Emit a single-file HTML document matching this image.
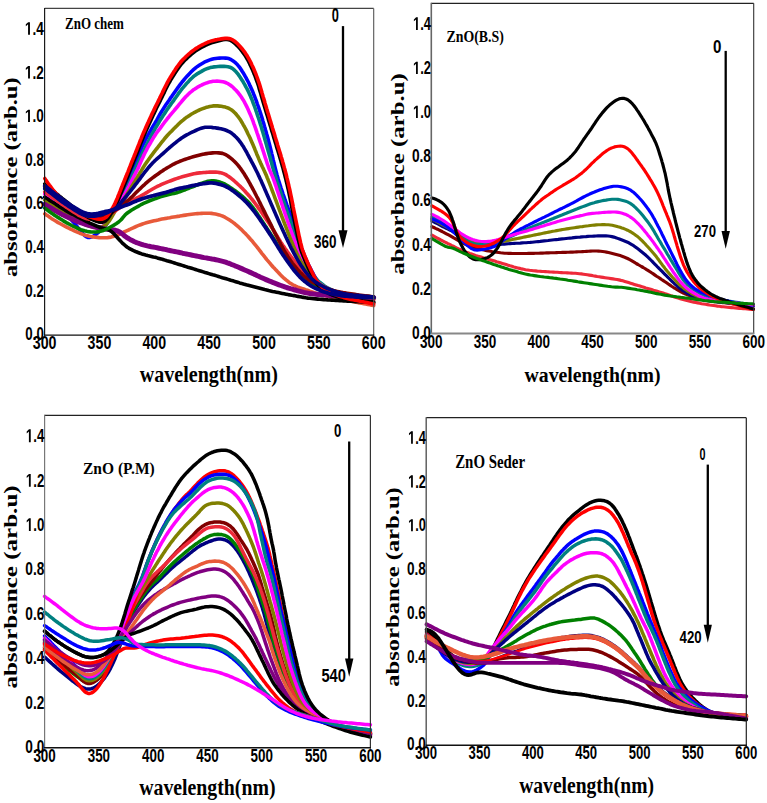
<!DOCTYPE html>
<html><head><meta charset="utf-8"><style>
html,body{margin:0;padding:0;background:#fff;}
svg{display:block;}
</style></head><body>
<svg width="767" height="803" viewBox="0 0 767 803">
<rect width="767" height="803" fill="#fff"/>
<path d="M44.8 188.0L46.1 189.5L47.3 191.1L48.6 192.6L49.9 194.2L51.2 195.7L52.4 197.3L53.7 198.8L55.0 200.4L56.3 201.9L57.5 203.4L58.8 205.0L60.1 206.5L61.4 208.0L62.7 209.5L64.0 211.1L65.3 212.6L66.6 214.1L67.9 215.6L69.2 217.1L70.5 218.7L71.8 220.2L73.1 221.7L74.4 223.3L75.7 224.8L76.9 226.3L78.2 227.9L79.5 229.4L80.7 231.0L82.0 232.6L83.2 234.1L84.6 235.5L86.1 236.7L87.7 237.4L89.5 237.5L91.3 237.1L93.0 236.3L94.7 235.3L96.3 234.1L97.8 232.9L99.3 231.5L100.8 230.2L102.3 228.8L103.7 227.5L105.1 226.0L106.3 224.5L107.4 222.9L108.4 221.1L109.2 219.3L110.1 217.5L110.9 215.7L111.7 213.8L112.6 212.0L113.5 210.3L114.5 208.5L115.5 206.8L116.6 205.1L117.7 203.4L118.7 201.7L119.7 200.0L120.7 198.3L121.7 196.5L122.6 194.7L123.5 192.9L124.3 191.1L125.2 189.3L126.0 187.5L126.8 185.7L127.6 183.8L128.4 182.0L129.2 180.2L130.0 178.3L130.7 176.5L131.5 174.6L132.2 172.7L132.9 170.9L133.6 169.0L134.3 167.1L135.1 165.3L135.7 163.4L136.4 161.5L137.1 159.6L137.8 157.7L138.5 155.9L139.2 154.0L139.9 152.1L140.6 150.2L141.4 148.4L142.2 146.6L143.0 144.7L143.9 142.9L144.7 141.1L145.6 139.3L146.6 137.6L147.5 135.8L148.5 134.1L149.5 132.3L150.5 130.6L151.5 128.8L152.5 127.1L153.5 125.4L154.6 123.7L155.6 122.0L156.6 120.3L157.6 118.5L158.5 116.8L159.5 115.0L160.5 113.3L161.6 111.6L162.6 109.9L163.7 108.2L164.8 106.5L165.9 104.8L167.0 103.2L168.2 101.5L169.3 99.9L170.4 98.2L171.6 96.6L172.7 95.0L173.9 93.3L175.0 91.7L176.2 90.0L177.3 88.4L178.5 86.8L179.7 85.2L180.9 83.6L182.1 82.0L183.4 80.5L184.7 78.9L186.0 77.4L187.3 75.9L188.7 74.4L190.1 73.0L191.5 71.6L192.9 70.2L194.4 68.9L195.9 67.6L197.5 66.4L199.2 65.3L200.9 64.2L202.6 63.2L204.3 62.2L206.1 61.4L208.0 60.6L209.8 59.9L211.7 59.3L213.7 58.8L215.7 58.5L217.6 58.3L219.6 58.1L221.6 58.0L223.6 58.0L225.6 58.1L227.5 58.3L229.4 58.8L231.2 59.7L232.8 60.7L234.4 61.9L235.9 63.2L237.3 64.6L238.6 66.1L239.8 67.7L241.0 69.3L242.0 71.0L243.1 72.7L244.1 74.4L245.1 76.2L246.1 77.9L247.0 79.7L248.0 81.5L248.9 83.3L249.7 85.1L250.6 86.9L251.4 88.7L252.2 90.5L253.0 92.4L253.7 94.2L254.5 96.1L255.2 98.0L255.9 99.8L256.6 101.7L257.2 103.6L257.9 105.5L258.6 107.4L259.2 109.3L259.8 111.2L260.5 113.1L261.1 115.0L261.7 116.9L262.3 118.8L262.8 120.7L263.4 122.6L264.0 124.6L264.5 126.5L265.1 128.4L265.6 130.3L266.2 132.3L266.7 134.2L267.3 136.1L267.8 138.0L268.3 140.0L268.8 141.9L269.3 143.8L269.8 145.8L270.3 147.7L270.8 149.7L271.3 151.6L271.7 153.6L272.2 155.5L272.7 157.5L273.1 159.4L273.6 161.4L274.0 163.3L274.5 165.2L275.0 167.2L275.5 169.1L276.0 171.1L276.5 173.0L277.0 174.9L277.6 176.9L278.1 178.8L278.7 180.7L279.3 182.6L279.9 184.5L280.5 186.4L281.1 188.3L281.8 190.2L282.4 192.1L283.0 194.0L283.7 195.9L284.4 197.8L285.0 199.7L285.7 201.6L286.4 203.5L287.0 205.3L287.7 207.2L288.4 209.1L289.1 211.0L289.7 212.9L290.4 214.8L291.0 216.7L291.7 218.6L292.3 220.5L293.0 222.3L293.6 224.2L294.2 226.2L294.8 228.1L295.5 230.0L296.1 231.9L296.7 233.8L297.3 235.7L297.9 237.6L298.5 239.5L299.2 241.4L299.8 243.3L300.5 245.2L301.1 247.1L301.8 248.9L302.5 250.8L303.3 252.7L304.0 254.5L304.8 256.4L305.6 258.2L306.4 260.1L307.2 261.9L308.0 263.7L308.9 265.5L309.8 267.3L310.7 269.1L311.6 270.9L312.6 272.6L313.5 274.4L314.5 276.1L315.5 277.8L316.7 279.5L317.9 281.1L319.2 282.5L320.6 283.9L322.1 285.2L323.7 286.4L325.3 287.6L327.0 288.6L328.8 289.6L330.6 290.5L332.4 291.3L334.2 292.0L336.1 292.7L338.0 293.3L340.0 293.8L341.9 294.3L343.9 294.7L345.8 295.0L347.8 295.3L349.8 295.6L351.8 295.9L353.8 296.1L355.8 296.3L357.8 296.5L359.7 296.7L361.7 296.9L363.7 297.1L365.7 297.3L367.7 297.4L369.7 297.6L371.7 297.8L373.7 298.0" fill="none" stroke="#0000ff" stroke-width="3.6" stroke-linecap="round" stroke-linejoin="round"/>
<path d="M44.8 189.0L46.2 190.5L47.5 192.0L48.9 193.4L50.2 194.9L51.6 196.4L52.9 197.8L54.3 199.3L55.7 200.7L57.1 202.1L58.6 203.5L60.0 204.9L61.5 206.2L63.0 207.6L64.5 208.9L66.0 210.2L67.6 211.5L69.1 212.7L70.7 214.0L72.3 215.2L73.9 216.4L75.5 217.5L77.2 218.7L78.9 219.8L80.6 220.8L82.3 221.9L84.0 222.9L85.8 223.8L87.6 224.7L89.4 225.5L91.3 226.2L93.2 226.8L95.1 227.3L97.0 227.6L99.0 227.7L100.9 227.5L102.7 226.9L104.3 225.9L105.8 224.6L107.0 223.1L108.1 221.5L109.1 219.7L110.0 218.0L111.0 216.2L112.0 214.5L113.0 212.8L114.0 211.0L115.1 209.3L116.1 207.6L117.2 205.9L118.2 204.2L119.3 202.5L120.3 200.8L121.2 199.0L122.2 197.3L123.2 195.5L124.1 193.8L125.0 192.0L126.0 190.2L126.9 188.4L127.7 186.6L128.6 184.8L129.4 183.0L130.2 181.1L131.0 179.3L131.8 177.4L132.5 175.6L133.3 173.7L134.1 171.9L134.9 170.1L135.7 168.2L136.5 166.4L137.3 164.6L138.1 162.8L139.0 160.9L139.8 159.1L140.6 157.3L141.4 155.5L142.3 153.6L143.1 151.8L144.0 150.0L144.9 148.2L145.8 146.4L146.7 144.6L147.6 142.9L148.5 141.1L149.4 139.3L150.3 137.5L151.3 135.7L152.2 134.0L153.2 132.2L154.2 130.5L155.1 128.7L156.1 127.0L157.2 125.3L158.2 123.6L159.2 121.8L160.2 120.1L161.3 118.4L162.4 116.7L163.5 115.1L164.6 113.4L165.7 111.7L166.8 110.1L167.9 108.4L169.1 106.8L170.3 105.1L171.4 103.5L172.6 101.9L173.8 100.3L174.9 98.6L176.1 97.0L177.2 95.4L178.4 93.7L179.6 92.1L180.8 90.5L182.0 88.9L183.3 87.4L184.6 85.9L185.9 84.3L187.2 82.9L188.6 81.4L189.9 79.9L191.4 78.5L192.8 77.2L194.3 75.9L196.0 74.7L197.6 73.6L199.3 72.6L201.1 71.6L202.8 70.6L204.6 69.7L206.4 68.9L208.3 68.2L210.2 67.6L212.1 67.2L214.1 66.9L216.1 66.7L218.1 66.5L220.1 66.4L222.1 66.4L224.1 66.4L226.1 66.5L228.0 66.7L229.9 67.2L231.6 68.0L233.2 69.1L234.7 70.4L236.1 71.8L237.4 73.4L238.6 74.9L239.7 76.6L240.8 78.2L241.9 79.9L243.0 81.6L244.0 83.4L245.0 85.1L245.9 86.9L246.9 88.6L247.8 90.4L248.7 92.2L249.5 94.0L250.3 95.8L251.1 97.7L251.9 99.5L252.6 101.4L253.3 103.3L254.0 105.1L254.7 107.0L255.4 108.9L256.0 110.8L256.7 112.7L257.3 114.6L257.9 116.5L258.6 118.4L259.2 120.3L259.8 122.2L260.4 124.1L261.0 126.0L261.6 128.0L262.1 129.9L262.7 131.8L263.3 133.7L263.8 135.6L264.4 137.6L264.9 139.5L265.5 141.4L266.0 143.3L266.6 145.3L267.1 147.2L267.7 149.1L268.2 151.0L268.8 153.0L269.3 154.9L269.9 156.8L270.4 158.8L270.9 160.7L271.5 162.6L272.0 164.5L272.5 166.5L273.1 168.4L273.6 170.3L274.2 172.2L274.8 174.2L275.3 176.1L275.9 178.0L276.5 179.9L277.1 181.8L277.8 183.7L278.4 185.6L279.0 187.5L279.6 189.4L280.3 191.3L280.9 193.2L281.6 195.1L282.2 197.0L282.8 198.9L283.5 200.8L284.1 202.7L284.8 204.6L285.4 206.5L286.1 208.4L286.7 210.3L287.3 212.2L288.0 214.1L288.6 216.0L289.3 217.9L289.9 219.8L290.6 221.7L291.2 223.6L291.8 225.5L292.4 227.4L293.1 229.3L293.7 231.2L294.3 233.1L294.9 235.0L295.6 236.9L296.2 238.8L296.8 240.7L297.5 242.6L298.2 244.5L298.8 246.3L299.5 248.2L300.3 250.1L301.0 252.0L301.8 253.8L302.5 255.7L303.3 257.5L304.1 259.3L305.0 261.1L305.8 262.9L306.7 264.7L307.6 266.5L308.6 268.3L309.6 270.0L310.7 271.7L311.8 273.3L313.0 275.0L314.2 276.6L315.5 278.1L316.8 279.6L318.2 281.0L319.7 282.3L321.3 283.5L322.9 284.7L324.5 285.9L326.2 287.0L327.9 288.0L329.7 288.9L331.5 289.8L333.3 290.6L335.2 291.3L337.1 292.0L339.0 292.5L340.9 293.0L342.9 293.5L344.8 293.8L346.8 294.2L348.8 294.5L350.8 294.7L352.8 295.0L354.8 295.2L356.8 295.4L358.7 295.6L360.7 295.8L362.7 296.0L364.7 296.2L366.7 296.3L368.7 296.5L370.7 296.7L372.7 296.9L373.7 297.0" fill="none" stroke="#008080" stroke-width="3.6" stroke-linecap="round" stroke-linejoin="round"/>
<path d="M44.8 194.0L46.3 195.3L47.9 196.6L49.4 197.9L50.9 199.1L52.5 200.4L54.0 201.7L55.5 203.0L57.1 204.3L58.6 205.5L60.2 206.8L61.7 208.1L63.3 209.3L64.8 210.6L66.4 211.8L68.0 213.0L69.6 214.2L71.2 215.4L72.9 216.5L74.6 217.6L76.3 218.7L78.0 219.7L79.7 220.7L81.5 221.6L83.2 222.6L85.0 223.5L86.8 224.3L88.6 225.2L90.5 225.9L92.3 226.6L94.3 227.2L96.2 227.6L98.1 227.7L100.0 227.4L101.8 226.8L103.5 225.9L105.0 224.7L106.3 223.2L107.5 221.6L108.7 220.0L109.7 218.3L110.8 216.6L111.8 214.9L112.7 213.1L113.7 211.4L114.8 209.7L115.9 208.1L117.1 206.4L118.3 204.8L119.4 203.2L120.4 201.5L121.5 199.8L122.5 198.1L123.5 196.3L124.5 194.6L125.5 192.9L126.5 191.1L127.4 189.4L128.3 187.6L129.3 185.8L130.1 184.0L131.0 182.2L131.9 180.4L132.8 178.6L133.7 176.8L134.6 175.0L135.5 173.3L136.4 171.5L137.3 169.7L138.2 167.9L139.0 166.1L139.8 164.3L140.6 162.4L141.4 160.6L142.2 158.8L143.1 156.9L143.9 155.1L144.8 153.3L145.7 151.5L146.6 149.8L147.5 148.0L148.5 146.2L149.5 144.5L150.5 142.8L151.5 141.0L152.5 139.3L153.5 137.6L154.6 135.9L155.7 134.2L156.8 132.6L158.0 131.0L159.3 129.4L160.5 127.8L161.7 126.2L162.8 124.6L164.0 123.0L165.2 121.4L166.5 119.8L167.7 118.2L169.0 116.7L170.2 115.2L171.5 113.6L172.8 112.1L174.1 110.6L175.4 109.0L176.7 107.5L178.0 106.0L179.2 104.4L180.5 102.9L181.8 101.3L183.1 99.8L184.4 98.3L185.7 96.8L187.1 95.4L188.5 94.0L190.0 92.6L191.6 91.4L193.1 90.1L194.8 89.0L196.4 87.9L198.1 86.8L199.9 85.9L201.7 85.0L203.5 84.2L205.4 83.4L207.2 82.8L209.1 82.1L211.1 81.7L213.0 81.3L215.0 81.2L217.0 81.1L219.0 81.2L220.9 81.5L222.9 81.8L224.8 82.3L226.6 83.0L228.4 83.9L230.1 85.0L231.7 86.2L233.2 87.5L234.6 88.9L236.0 90.3L237.3 91.8L238.6 93.3L239.8 94.9L241.0 96.5L242.1 98.2L243.2 99.9L244.2 101.6L245.1 103.4L246.0 105.1L246.9 106.9L247.8 108.7L248.6 110.6L249.4 112.4L250.2 114.2L251.0 116.1L251.7 117.9L252.5 119.8L253.2 121.7L253.8 123.6L254.5 125.4L255.2 127.3L255.8 129.2L256.5 131.1L257.1 133.0L257.8 134.9L258.4 136.8L259.0 138.7L259.7 140.6L260.3 142.5L261.0 144.4L261.6 146.3L262.2 148.2L262.9 150.1L263.5 152.0L264.1 153.9L264.7 155.8L265.3 157.7L266.0 159.6L266.6 161.5L267.2 163.4L267.9 165.3L268.5 167.2L269.2 169.0L270.0 170.9L270.8 172.7L271.6 174.5L272.4 176.4L273.1 178.2L273.8 180.1L274.5 182.0L275.1 183.9L275.8 185.8L276.4 187.7L277.0 189.6L277.7 191.5L278.3 193.4L278.9 195.3L279.5 197.2L280.2 199.1L280.8 201.0L281.4 202.9L282.1 204.8L282.7 206.7L283.3 208.6L284.0 210.5L284.6 212.4L285.2 214.3L285.9 216.2L286.5 218.1L287.2 219.9L287.8 221.8L288.5 223.7L289.2 225.6L289.8 227.5L290.5 229.4L291.2 231.3L291.8 233.2L292.5 235.0L293.2 236.9L293.9 238.8L294.6 240.7L295.3 242.5L296.0 244.4L296.7 246.3L297.5 248.1L298.2 250.0L299.0 251.8L299.7 253.7L300.5 255.5L301.3 257.4L302.1 259.2L303.0 261.0L303.8 262.8L304.7 264.6L305.6 266.4L306.6 268.2L307.6 269.9L308.6 271.6L309.7 273.3L310.9 274.9L312.0 276.5L313.3 278.0L314.6 279.5L316.1 280.9L317.6 282.2L319.2 283.4L320.8 284.6L322.5 285.7L324.2 286.7L326.0 287.6L327.7 288.5L329.6 289.3L331.4 290.1L333.3 290.8L335.2 291.5L337.1 292.0L339.0 292.6L341.0 293.0L342.9 293.5L344.9 293.8L346.8 294.1L348.8 294.4L350.8 294.7L352.8 294.9L354.8 295.2L356.8 295.4L358.8 295.6L360.8 295.8L362.7 296.0L364.7 296.2L366.7 296.3L368.7 296.5L370.7 296.7L372.7 296.9L373.7 297.0" fill="none" stroke="#ff00ff" stroke-width="3.6" stroke-linecap="round" stroke-linejoin="round"/>
<path d="M44.8 200.0L46.5 201.1L48.1 202.3L49.8 203.4L51.4 204.5L53.1 205.7L54.7 206.8L56.4 207.9L58.0 209.0L59.7 210.1L61.4 211.3L63.1 212.4L64.7 213.5L66.4 214.5L68.1 215.6L69.8 216.7L71.5 217.7L73.3 218.7L75.0 219.7L76.8 220.6L78.6 221.5L80.3 222.4L82.2 223.3L84.0 224.1L85.8 224.9L87.7 225.6L89.6 226.2L91.5 226.8L93.5 227.2L95.4 227.6L97.4 227.7L99.3 227.6L101.3 227.2L103.1 226.5L104.7 225.6L106.3 224.3L107.6 222.9L108.9 221.4L110.0 219.7L111.1 218.0L112.1 216.3L113.1 214.6L114.1 212.8L115.0 211.1L116.1 209.4L117.3 207.8L118.5 206.3L119.8 204.8L121.1 203.2L122.3 201.6L123.4 199.9L124.5 198.3L125.6 196.6L126.6 194.9L127.7 193.2L128.8 191.5L129.8 189.8L130.8 188.1L131.9 186.3L132.9 184.6L133.9 182.9L135.0 181.2L136.0 179.5L137.0 177.8L138.1 176.0L139.1 174.3L140.1 172.6L141.2 170.9L142.2 169.2L143.2 167.5L144.3 165.8L145.4 164.1L146.5 162.4L147.7 160.8L148.8 159.2L150.0 157.5L151.2 155.9L152.4 154.3L153.6 152.7L154.8 151.1L156.0 149.5L157.3 148.0L158.5 146.4L159.7 144.8L161.0 143.2L162.2 141.7L163.5 140.1L164.7 138.5L166.0 137.0L167.3 135.5L168.7 134.0L170.1 132.6L171.5 131.2L172.9 129.7L174.3 128.3L175.7 126.9L177.2 125.5L178.6 124.1L180.0 122.7L181.5 121.4L183.1 120.1L184.6 118.8L186.2 117.6L187.9 116.5L189.5 115.4L191.2 114.3L193.0 113.3L194.7 112.3L196.5 111.4L198.3 110.5L200.1 109.7L202.0 108.9L203.8 108.3L205.7 107.6L207.7 107.1L209.6 106.5L211.5 106.2L213.5 105.9L215.5 105.9L217.5 105.9L219.5 106.1L221.4 106.3L223.4 106.7L225.4 107.1L227.2 107.7L229.1 108.5L230.8 109.5L232.4 110.6L233.9 111.9L235.3 113.3L236.6 114.8L237.9 116.4L239.1 118.0L240.2 119.6L241.3 121.3L242.3 123.0L243.3 124.8L244.3 126.5L245.3 128.3L246.2 130.1L247.1 131.9L247.9 133.7L248.8 135.5L249.7 137.3L250.5 139.1L251.3 140.9L252.1 142.8L252.9 144.6L253.7 146.4L254.5 148.3L255.2 150.2L256.0 152.0L256.7 153.9L257.5 155.7L258.3 157.6L259.0 159.4L259.8 161.3L260.6 163.1L261.5 164.9L262.3 166.7L263.2 168.5L264.0 170.3L264.9 172.2L265.7 174.0L266.5 175.8L267.2 177.7L268.0 179.5L268.7 181.4L269.5 183.3L270.2 185.1L270.9 187.0L271.6 188.9L272.3 190.8L273.0 192.6L273.7 194.5L274.4 196.4L275.1 198.3L275.8 200.2L276.5 202.0L277.2 203.9L277.9 205.8L278.6 207.7L279.3 209.6L280.0 211.4L280.7 213.3L281.4 215.2L282.1 217.1L282.8 218.9L283.5 220.8L284.2 222.7L284.9 224.5L285.7 226.4L286.4 228.3L287.1 230.2L287.8 232.0L288.5 233.9L289.3 235.8L290.0 237.6L290.7 239.5L291.5 241.3L292.3 243.2L293.0 245.0L293.8 246.9L294.6 248.7L295.5 250.5L296.3 252.4L297.2 254.2L298.1 256.0L299.0 257.7L299.9 259.5L300.9 261.3L301.9 263.0L302.9 264.7L303.9 266.5L305.0 268.1L306.1 269.8L307.2 271.5L308.4 273.1L309.6 274.7L310.8 276.3L312.1 277.8L313.5 279.2L315.0 280.6L316.5 281.9L318.1 283.0L319.8 284.1L321.5 285.2L323.2 286.2L325.0 287.1L326.8 288.0L328.6 288.8L330.4 289.6L332.3 290.4L334.2 291.1L336.1 291.7L338.0 292.3L339.9 292.8L341.9 293.3L343.8 293.7L345.8 294.0L347.8 294.3L349.8 294.6L351.8 294.9L353.8 295.1L355.7 295.3L357.7 295.5L359.7 295.7L361.7 295.9L363.7 296.1L365.7 296.3L367.7 296.4L369.7 296.6L371.7 296.8L373.7 297.0" fill="none" stroke="#808000" stroke-width="3.6" stroke-linecap="round" stroke-linejoin="round"/>
<path d="M44.8 213.8L46.4 215.0L48.1 216.1L49.7 217.2L51.4 218.4L53.1 219.5L54.8 220.5L56.5 221.6L58.2 222.6L59.9 223.5L61.7 224.5L63.5 225.5L65.2 226.4L67.0 227.3L68.8 228.2L70.6 229.1L72.4 229.9L74.3 230.8L76.1 231.6L77.9 232.4L79.8 233.2L81.6 233.9L83.5 234.6L85.4 235.2L87.3 235.7L89.3 236.2L91.2 236.6L93.2 236.9L95.2 237.2L97.2 237.4L99.2 237.6L101.2 237.7L103.2 237.8L105.2 237.8L107.2 237.7L109.1 237.4L111.1 237.1L113.0 236.6L114.9 235.9L116.8 235.2L118.6 234.5L120.5 233.7L122.3 232.8L124.1 232.0L125.9 231.2L127.8 230.3L129.6 229.5L131.4 228.6L133.2 227.8L135.0 227.0L136.9 226.1L138.7 225.4L140.6 224.7L142.5 224.0L144.4 223.4L146.3 222.8L148.2 222.3L150.2 221.8L152.1 221.3L154.1 220.8L156.0 220.4L158.0 220.0L159.9 219.5L161.9 219.1L163.9 218.7L165.8 218.4L167.8 218.0L169.8 217.7L171.7 217.3L173.7 217.0L175.7 216.7L177.7 216.4L179.7 216.1L181.6 215.7L183.6 215.4L185.6 215.1L187.6 214.8L189.5 214.5L191.5 214.2L193.5 214.0L195.5 213.8L197.5 213.6L199.5 213.5L201.5 213.4L203.5 213.3L205.5 213.3L207.5 213.3L209.5 213.3L211.5 213.4L213.5 213.7L215.5 214.0L217.4 214.4L219.3 214.9L221.2 215.6L223.1 216.3L224.9 217.2L226.6 218.2L228.3 219.2L230.0 220.3L231.7 221.4L233.3 222.6L234.9 223.8L236.4 225.1L237.9 226.4L239.4 227.7L240.9 229.1L242.3 230.5L243.7 231.9L245.1 233.3L246.5 234.8L247.9 236.2L249.2 237.7L250.5 239.2L251.9 240.7L253.2 242.3L254.4 243.8L255.7 245.4L256.9 246.9L258.2 248.5L259.4 250.1L260.6 251.7L261.8 253.3L263.1 254.9L264.3 256.4L265.5 258.0L266.8 259.6L268.1 261.1L269.4 262.6L270.7 264.2L272.0 265.7L273.3 267.2L274.7 268.6L276.0 270.1L277.4 271.6L278.8 273.0L280.2 274.5L281.6 275.9L283.0 277.3L284.5 278.6L286.0 279.9L287.6 281.2L289.1 282.4L290.8 283.5L292.5 284.6L294.3 285.5L296.1 286.3L297.9 287.1L299.8 287.8L301.7 288.4L303.6 289.0L305.5 289.7L307.4 290.3L309.3 291.0L311.2 291.6L313.1 292.3L315.0 292.9L316.9 293.5L318.8 294.0L320.8 294.6L322.7 295.1L324.6 295.6L326.6 296.1L328.5 296.5L330.5 297.0L332.4 297.4L334.4 297.9L336.4 298.3L338.3 298.7L340.3 299.1L342.2 299.5L344.2 299.9L346.2 300.3L348.1 300.7L350.1 301.0L352.1 301.4L354.0 301.8L356.0 302.2L358.0 302.6L359.9 302.9L361.9 303.3L363.9 303.7L365.8 304.1L367.8 304.5L369.8 304.8L371.7 305.2L373.7 305.6" fill="none" stroke="#e85a3a" stroke-width="3.6" stroke-linecap="round" stroke-linejoin="round"/>
<path d="M44.8 204.4L46.5 205.4L48.2 206.5L50.0 207.5L51.7 208.5L53.4 209.5L55.1 210.5L56.9 211.5L58.6 212.5L60.4 213.5L62.1 214.4L63.9 215.3L65.7 216.2L67.5 217.1L69.3 218.0L71.1 218.8L73.0 219.6L74.8 220.4L76.7 221.1L78.5 221.9L80.4 222.6L82.3 223.2L84.2 223.9L86.1 224.5L88.0 225.1L89.9 225.7L91.8 226.2L93.8 226.7L95.7 227.1L97.7 227.5L99.6 227.9L101.6 228.3L103.6 228.7L105.6 229.0L107.5 229.3L109.5 229.5L111.5 229.7L113.5 230.0L115.4 230.3L117.3 230.9L119.1 231.7L120.7 232.7L122.3 233.9L123.8 235.2L125.4 236.5L127.0 237.6L128.7 238.7L130.4 239.7L132.2 240.6L134.0 241.5L135.8 242.3L137.7 243.0L139.6 243.7L141.5 244.3L143.4 244.9L145.3 245.4L147.3 245.9L149.2 246.3L151.2 246.7L153.1 247.0L155.1 247.4L157.1 247.8L159.0 248.2L161.0 248.6L162.9 249.0L164.9 249.4L166.9 249.8L168.8 250.3L170.8 250.7L172.7 251.1L174.7 251.5L176.7 251.9L178.6 252.3L180.6 252.7L182.5 253.2L184.5 253.6L186.5 254.0L188.4 254.4L190.4 254.8L192.3 255.2L194.3 255.6L196.3 256.0L198.2 256.4L200.2 256.8L202.1 257.2L204.1 257.6L206.1 257.9L208.0 258.3L210.0 258.6L212.0 259.0L214.0 259.3L215.9 259.7L217.9 260.1L219.8 260.6L221.8 261.1L223.7 261.6L225.6 262.2L227.5 262.9L229.4 263.5L231.2 264.3L233.1 265.0L235.0 265.8L236.8 266.5L238.6 267.3L240.5 268.1L242.3 268.9L244.1 269.7L246.0 270.5L247.8 271.3L249.6 272.1L251.5 272.9L253.3 273.8L255.1 274.6L256.9 275.5L258.7 276.3L260.6 277.2L262.4 278.0L264.2 278.8L266.0 279.6L267.9 280.4L269.7 281.2L271.6 281.9L273.4 282.7L275.3 283.4L277.2 284.1L279.0 284.8L280.9 285.5L282.8 286.2L284.7 286.8L286.6 287.5L288.5 288.1L290.4 288.7L292.3 289.2L294.2 289.8L296.2 290.3L298.1 290.9L300.0 291.4L302.0 291.9L303.9 292.4L305.9 292.8L307.8 293.1L309.8 293.5L311.8 293.7L313.8 294.0L315.8 294.2L317.8 294.4L319.8 294.6L321.8 294.8L323.7 295.0L325.7 295.1L327.7 295.3L329.7 295.4L331.7 295.5L333.7 295.7L335.7 295.8L337.7 295.9L339.7 296.0L341.7 296.1L343.7 296.3L345.7 296.4L347.7 296.5L349.7 296.6L351.7 296.7L353.7 296.8L355.7 296.9L357.7 297.0L359.7 297.1L361.7 297.2L363.7 297.3L365.7 297.5L367.7 297.6L369.7 297.7L371.7 297.8L373.7 297.9" fill="none" stroke="#800080" stroke-width="5.0" stroke-linecap="round" stroke-linejoin="round"/>
<path d="M44.8 197.1L46.5 198.2L48.2 199.3L49.8 200.4L51.5 201.5L53.2 202.5L54.9 203.6L56.6 204.7L58.2 205.8L59.9 206.9L61.6 207.9L63.3 209.0L65.0 210.1L66.7 211.1L68.4 212.1L70.2 213.1L71.9 214.1L73.7 215.0L75.5 215.9L77.3 216.8L79.0 217.7L80.8 218.6L82.6 219.5L84.4 220.4L86.2 221.3L88.0 222.2L89.8 223.1L91.6 223.9L93.4 224.7L95.3 225.5L97.1 226.3L99.0 227.0L100.8 227.7L102.8 228.3L104.7 228.8L106.6 229.3L108.5 229.9L110.2 230.7L111.8 231.8L113.2 233.1L114.6 234.6L115.9 236.0L117.3 237.5L118.6 239.0L120.0 240.5L121.3 241.9L122.7 243.4L124.2 244.7L125.7 246.0L127.3 247.2L129.0 248.3L130.7 249.2L132.5 250.1L134.3 251.0L136.2 251.8L138.0 252.5L139.9 253.2L141.8 253.9L143.7 254.4L145.6 255.0L147.6 255.5L149.5 255.9L151.4 256.4L153.4 256.9L155.3 257.3L157.3 257.9L159.2 258.4L161.1 258.9L163.0 259.5L164.9 260.1L166.9 260.7L168.8 261.2L170.7 261.8L172.6 262.4L174.5 263.0L176.4 263.6L178.3 264.2L180.2 264.8L182.2 265.4L184.1 266.0L186.0 266.6L187.9 267.2L189.8 267.7L191.7 268.3L193.6 268.9L195.5 269.5L197.4 270.1L199.4 270.7L201.3 271.3L203.2 271.9L205.1 272.5L207.0 273.0L208.9 273.6L210.8 274.2L212.8 274.8L214.7 275.3L216.6 275.9L218.5 276.5L220.4 277.1L222.3 277.7L224.2 278.2L226.2 278.8L228.1 279.4L230.0 280.0L231.9 280.6L233.8 281.1L235.7 281.7L237.6 282.3L239.6 282.9L241.5 283.4L243.4 284.0L245.3 284.5L247.2 285.1L249.2 285.6L251.1 286.1L253.0 286.6L255.0 287.1L256.9 287.6L258.9 288.1L260.8 288.6L262.7 289.1L264.7 289.6L266.6 290.0L268.6 290.5L270.5 290.9L272.5 291.4L274.4 291.8L276.4 292.2L278.4 292.6L280.3 293.0L282.3 293.4L284.2 293.8L286.2 294.2L288.2 294.6L290.1 294.9L292.1 295.3L294.1 295.6L296.0 296.0L298.0 296.4L300.0 296.7L301.9 297.1L303.9 297.4L305.9 297.8L307.9 298.1L309.8 298.3L311.8 298.5L313.8 298.8L315.8 298.9L317.8 299.1L319.8 299.3L321.8 299.4L323.8 299.6L325.8 299.7L327.8 299.9L329.8 300.0L331.8 300.1L333.8 300.3L335.8 300.4L337.8 300.5L339.7 300.6L341.7 300.8L343.7 300.9L345.7 301.0L347.7 301.1L349.7 301.2L351.7 301.3L353.7 301.5L355.7 301.6L357.7 301.7L359.7 301.8L361.7 301.9L363.7 302.0L365.7 302.1L367.7 302.3L369.7 302.4L371.7 302.5L373.7 302.6" fill="none" stroke="#000000" stroke-width="3.6" stroke-linecap="round" stroke-linejoin="round"/>
<path d="M44.8 208.1L46.4 209.3L48.0 210.5L49.6 211.7L51.2 212.9L52.9 214.0L54.5 215.2L56.2 216.3L57.9 217.4L59.6 218.4L61.3 219.5L63.0 220.6L64.7 221.6L66.4 222.6L68.2 223.6L69.9 224.5L71.7 225.5L73.5 226.4L75.3 227.2L77.1 228.0L79.0 228.8L80.9 229.6L82.7 230.2L84.6 230.8L86.6 231.3L88.5 231.7L90.5 231.9L92.5 232.0L94.5 232.0L96.5 231.9L98.5 231.7L100.4 231.3L102.4 230.8L104.2 230.1L106.1 229.3L107.9 228.4L109.6 227.5L111.4 226.5L113.1 225.6L114.9 224.5L116.5 223.5L118.2 222.3L119.7 221.0L121.1 219.7L122.4 218.2L123.7 216.6L125.0 215.1L126.4 213.7L128.0 212.5L129.6 211.4L131.3 210.3L133.0 209.3L134.7 208.2L136.5 207.2L138.2 206.3L140.0 205.3L141.7 204.3L143.5 203.4L145.3 202.6L147.2 201.8L149.0 201.0L150.9 200.3L152.8 199.6L154.7 198.9L156.5 198.2L158.4 197.6L160.3 196.9L162.2 196.3L164.1 195.7L166.1 195.2L168.0 194.7L170.0 194.3L171.9 193.8L173.9 193.4L175.8 192.9L177.8 192.4L179.7 191.8L181.5 191.1L183.4 190.4L185.3 189.7L187.2 188.9L189.0 188.2L190.9 187.4L192.7 186.7L194.6 186.0L196.5 185.2L198.3 184.5L200.2 183.8L202.1 183.1L204.0 182.5L205.9 181.9L207.8 181.3L209.8 181.0L211.7 180.8L213.7 180.8L215.7 181.0L217.6 181.4L219.5 182.0L221.4 182.6L223.3 183.4L225.1 184.2L226.8 185.2L228.5 186.3L230.2 187.4L231.8 188.5L233.5 189.7L235.1 190.8L236.7 192.0L238.3 193.2L239.9 194.5L241.4 195.7L243.0 197.0L244.5 198.4L245.9 199.7L247.3 201.1L248.7 202.6L250.1 204.1L251.3 205.6L252.6 207.2L253.8 208.8L255.0 210.4L256.1 212.0L257.3 213.7L258.4 215.4L259.5 217.0L260.6 218.7L261.7 220.4L262.8 222.1L263.9 223.7L265.0 225.4L266.1 227.1L267.2 228.8L268.3 230.4L269.4 232.1L270.5 233.8L271.6 235.4L272.7 237.1L273.8 238.8L274.9 240.5L276.0 242.2L277.0 243.9L278.1 245.6L279.2 247.2L280.4 248.9L281.5 250.5L282.6 252.2L283.8 253.8L285.0 255.4L286.2 257.0L287.4 258.6L288.7 260.2L289.9 261.8L291.2 263.3L292.4 264.9L293.7 266.4L295.0 268.0L296.3 269.5L297.6 271.0L299.0 272.5L300.3 273.9L301.7 275.4L303.2 276.8L304.6 278.1L306.1 279.5L307.7 280.7L309.3 281.9L311.0 283.0L312.7 284.1L314.4 285.0L316.2 285.9L318.0 286.8L319.8 287.6L321.7 288.4L323.5 289.2L325.4 289.9L327.3 290.5L329.2 291.2L331.1 291.7L333.1 292.3L335.0 292.8L336.9 293.2L338.9 293.7L340.9 294.1L342.8 294.4L344.8 294.7L346.8 295.0L348.8 295.3L350.8 295.6L352.8 295.8L354.8 296.0L356.8 296.3L358.7 296.5L360.7 296.7L362.7 296.9L364.7 297.1L366.7 297.3L368.7 297.5L370.7 297.7L372.7 297.9L373.7 298.0" fill="none" stroke="#008000" stroke-width="3.6" stroke-linecap="round" stroke-linejoin="round"/>
<path d="M44.8 191.9L46.4 193.1L48.0 194.2L49.7 195.4L51.3 196.6L52.9 197.7L54.5 198.9L56.2 200.1L57.8 201.2L59.5 202.4L61.1 203.5L62.7 204.7L64.4 205.8L66.0 206.9L67.7 208.1L69.4 209.2L71.0 210.3L72.7 211.4L74.4 212.5L76.1 213.5L77.8 214.6L79.5 215.6L81.3 216.5L83.1 217.4L84.9 218.1L86.8 218.7L88.7 219.1L90.7 219.3L92.7 219.3L94.7 219.2L96.7 219.0L98.6 218.7L100.6 218.3L102.5 217.8L104.4 217.2L106.3 216.5L108.0 215.6L109.8 214.6L111.5 213.6L113.1 212.4L114.8 211.3L116.4 210.1L118.0 209.0L119.7 207.8L121.3 206.7L123.0 205.6L124.7 204.5L126.4 203.5L128.1 202.5L129.9 201.5L131.7 200.6L133.5 199.7L135.3 198.8L137.0 197.9L138.8 197.0L140.6 196.1L142.4 195.1L144.1 194.2L145.8 193.1L147.5 192.1L149.2 191.0L150.9 190.0L152.6 189.0L154.4 188.0L156.2 187.0L157.9 186.1L159.7 185.3L161.6 184.4L163.4 183.6L165.2 182.9L167.1 182.1L169.0 181.4L170.8 180.7L172.7 180.0L174.6 179.3L176.5 178.6L178.4 178.0L180.3 177.4L182.2 176.8L184.1 176.3L186.1 175.8L188.0 175.3L189.9 174.8L191.9 174.3L193.8 173.8L195.8 173.4L197.7 173.1L199.7 172.9L201.7 172.7L203.7 172.5L205.7 172.4L207.7 172.2L209.7 172.1L211.7 172.1L213.7 172.1L215.7 172.1L217.7 172.3L219.6 172.6L221.6 173.0L223.5 173.6L225.3 174.4L227.0 175.4L228.7 176.5L230.3 177.7L231.8 178.9L233.4 180.2L234.9 181.5L236.4 182.8L237.9 184.2L239.3 185.5L240.8 186.9L242.2 188.3L243.6 189.8L245.0 191.2L246.3 192.7L247.7 194.2L249.0 195.7L250.2 197.2L251.5 198.8L252.8 200.3L254.0 201.9L255.2 203.5L256.4 205.1L257.6 206.7L258.7 208.4L259.9 210.0L261.0 211.6L262.2 213.3L263.3 214.9L264.5 216.6L265.6 218.2L266.7 219.9L267.8 221.5L269.0 223.2L270.1 224.9L271.1 226.6L272.2 228.3L273.3 229.9L274.3 231.7L275.4 233.4L276.4 235.1L277.5 236.8L278.5 238.5L279.6 240.2L280.6 241.9L281.7 243.5L282.8 245.2L284.0 246.9L285.1 248.5L286.3 250.1L287.4 251.8L288.6 253.4L289.8 255.0L291.0 256.6L292.2 258.2L293.4 259.8L294.6 261.4L295.9 262.9L297.2 264.4L298.5 266.0L299.8 267.5L301.2 269.0L302.5 270.4L303.9 271.9L305.3 273.3L306.7 274.8L308.1 276.2L309.5 277.6L311.0 278.9L312.5 280.2L314.1 281.5L315.7 282.7L317.3 283.8L319.0 284.9L320.7 285.9L322.5 286.9L324.3 287.7L326.1 288.5L328.0 289.2L329.8 289.9L331.8 290.5L333.7 291.1L335.6 291.7L337.5 292.2L339.4 292.7L341.4 293.2L343.3 293.7L345.3 294.2L347.2 294.6L349.2 295.1L351.1 295.5L353.1 295.9L355.0 296.3L357.0 296.7L359.0 297.1L360.9 297.5L362.9 297.9L364.9 298.3L366.8 298.6L368.8 299.0L370.8 299.4L372.7 299.8L373.7 300.0" fill="none" stroke="#ee2a3a" stroke-width="3.6" stroke-linecap="round" stroke-linejoin="round"/>
<path d="M44.8 187.0L46.4 188.3L47.9 189.5L49.5 190.8L51.0 192.0L52.6 193.3L54.2 194.5L55.8 195.8L57.3 197.0L58.9 198.2L60.5 199.4L62.2 200.6L63.8 201.7L65.4 202.9L67.1 204.0L68.7 205.1L70.4 206.2L72.1 207.3L73.8 208.3L75.6 209.3L77.4 210.2L79.2 211.1L81.0 211.9L82.8 212.8L84.6 213.5L86.5 214.2L88.4 214.9L90.3 215.5L92.3 215.9L94.2 216.3L96.2 216.4L98.2 216.5L100.2 216.4L102.2 216.1L104.1 215.8L106.1 215.3L107.9 214.6L109.8 213.9L111.5 212.9L113.2 211.8L114.8 210.6L116.3 209.4L117.8 208.1L119.4 206.8L120.9 205.5L122.5 204.3L124.1 203.1L125.8 202.0L127.4 200.8L128.9 199.6L130.4 198.2L131.9 196.9L133.3 195.5L134.7 194.0L136.1 192.6L137.5 191.2L139.0 189.8L140.4 188.4L141.8 187.0L143.3 185.6L144.8 184.3L146.3 182.9L147.8 181.6L149.3 180.4L150.9 179.1L152.5 177.9L154.1 176.7L155.7 175.5L157.3 174.4L159.0 173.2L160.6 172.1L162.3 171.0L164.0 169.8L165.7 168.8L167.3 167.7L169.1 166.7L170.8 165.7L172.5 164.7L174.3 163.8L176.1 162.9L178.0 162.1L179.8 161.3L181.7 160.6L183.5 159.9L185.4 159.2L187.3 158.6L189.2 158.0L191.1 157.4L193.1 156.8L195.0 156.3L196.9 155.8L198.9 155.3L200.8 154.8L202.8 154.3L204.7 153.9L206.7 153.6L208.7 153.3L210.7 153.1L212.7 152.9L214.7 152.8L216.7 152.8L218.6 152.9L220.6 153.1L222.5 153.4L224.4 154.1L226.2 154.9L227.9 156.0L229.5 157.2L231.0 158.4L232.6 159.7L234.0 161.0L235.5 162.5L236.8 163.9L238.1 165.4L239.4 167.0L240.6 168.6L241.7 170.2L242.9 171.9L244.0 173.6L245.0 175.2L246.1 177.0L247.1 178.7L248.1 180.4L249.1 182.2L250.1 183.9L251.0 185.7L252.0 187.4L252.9 189.2L253.9 191.0L254.8 192.7L255.7 194.5L256.6 196.3L257.6 198.1L258.5 199.9L259.3 201.6L260.2 203.4L261.1 205.2L262.0 207.0L262.9 208.8L263.8 210.6L264.7 212.4L265.6 214.2L266.5 216.0L267.4 217.8L268.3 219.6L269.2 221.4L270.1 223.2L271.0 224.9L271.9 226.7L272.7 228.5L273.6 230.3L274.5 232.1L275.4 233.9L276.3 235.7L277.3 237.5L278.2 239.3L279.1 241.0L280.0 242.8L280.9 244.6L281.9 246.4L282.8 248.1L283.8 249.9L284.8 251.6L285.8 253.3L286.9 255.0L287.9 256.7L289.0 258.4L290.2 260.1L291.3 261.7L292.5 263.3L293.8 264.9L295.0 266.4L296.3 268.0L297.6 269.5L299.0 270.9L300.4 272.4L301.8 273.8L303.2 275.2L304.7 276.6L306.2 277.9L307.7 279.2L309.3 280.3L311.0 281.4L312.8 282.3L314.6 283.3L316.3 284.2L318.2 285.0L320.0 285.8L321.8 286.6L323.7 287.4L325.6 288.1L327.4 288.7L329.3 289.4L331.3 289.9L333.2 290.5L335.1 291.0L337.1 291.4L339.0 291.8L341.0 292.2L343.0 292.6L344.9 292.9L346.9 293.2L348.9 293.5L350.9 293.8L352.9 294.1L354.8 294.4L356.8 294.7L358.8 295.0L360.8 295.2L362.8 295.5L364.8 295.8L366.8 296.0L368.7 296.3L370.7 296.6L372.7 296.9L373.7 297.0" fill="none" stroke="#800000" stroke-width="3.6" stroke-linecap="round" stroke-linejoin="round"/>
<path d="M44.8 184.0L46.3 185.3L47.9 186.6L49.4 187.9L50.9 189.1L52.5 190.4L54.0 191.7L55.6 193.0L57.1 194.3L58.7 195.5L60.2 196.8L61.8 198.0L63.3 199.3L64.9 200.5L66.5 201.8L68.1 203.0L69.6 204.2L71.2 205.4L72.8 206.6L74.4 207.8L76.0 209.0L77.6 210.2L79.3 211.4L80.9 212.5L82.5 213.7L84.2 214.8L85.9 215.9L87.6 216.9L89.3 217.9L91.1 218.9L92.9 219.8L94.7 220.6L96.5 221.3L98.4 221.9L100.3 222.3L102.2 222.3L104.0 221.8L105.6 220.9L106.9 219.5L108.2 218.0L109.3 216.4L110.4 214.7L111.4 213.0L112.5 211.3L113.6 209.6L114.6 207.9L115.5 206.1L116.3 204.3L117.1 202.5L117.9 200.6L118.7 198.8L119.4 196.9L120.2 195.1L120.9 193.2L121.7 191.4L122.4 189.5L123.2 187.6L123.9 185.8L124.7 183.9L125.4 182.1L126.2 180.2L126.9 178.4L127.7 176.5L128.4 174.6L129.1 172.8L129.9 170.9L130.6 169.1L131.3 167.2L132.1 165.3L132.8 163.5L133.5 161.6L134.3 159.8L135.0 157.9L135.8 156.0L136.6 154.2L137.3 152.3L138.0 150.5L138.8 148.6L139.5 146.7L140.2 144.9L140.9 143.0L141.7 141.2L142.4 139.3L143.2 137.5L144.0 135.6L144.8 133.8L145.6 131.9L146.4 130.1L147.2 128.3L148.0 126.5L148.8 124.6L149.7 122.8L150.5 121.0L151.3 119.2L152.2 117.3L153.0 115.5L153.9 113.7L154.7 111.9L155.6 110.1L156.4 108.3L157.3 106.5L158.2 104.7L159.1 102.9L160.0 101.1L160.9 99.3L161.8 97.5L162.6 95.7L163.5 93.9L164.4 92.1L165.2 90.3L166.1 88.5L167.0 86.7L167.9 85.0L168.9 83.2L169.9 81.5L170.9 79.7L171.9 78.0L173.0 76.3L174.1 74.6L175.1 72.9L176.2 71.3L177.3 69.6L178.5 68.0L179.6 66.3L180.9 64.7L182.1 63.2L183.4 61.7L184.8 60.3L186.3 58.9L187.7 57.5L189.2 56.1L190.7 54.8L192.2 53.5L193.8 52.3L195.4 51.1L197.1 50.0L198.8 49.0L200.5 48.0L202.3 47.0L204.0 46.1L205.8 45.2L207.6 44.3L209.5 43.6L211.4 42.9L213.3 42.3L215.2 41.7L217.1 41.2L219.0 40.7L221.0 40.2L222.9 39.8L224.9 39.5L226.8 39.5L228.7 39.7L230.6 40.4L232.3 41.3L233.8 42.5L235.3 43.8L236.7 45.2L238.1 46.6L239.5 48.1L240.8 49.6L242.0 51.2L243.2 52.8L244.4 54.4L245.5 56.1L246.5 57.8L247.5 59.5L248.5 61.3L249.4 63.1L250.2 64.9L251.1 66.7L251.9 68.5L252.7 70.3L253.5 72.2L254.2 74.0L255.0 75.9L255.7 77.8L256.3 79.7L257.0 81.5L257.7 83.4L258.3 85.3L258.9 87.3L259.4 89.2L260.0 91.1L260.6 93.0L261.1 94.9L261.7 96.9L262.2 98.8L262.8 100.7L263.3 102.6L263.9 104.6L264.5 106.5L265.1 108.4L265.6 110.3L266.2 112.2L266.8 114.1L267.4 116.0L268.0 118.0L268.5 119.9L269.1 121.8L269.7 123.7L270.3 125.6L270.9 127.5L271.4 129.5L272.0 131.4L272.6 133.3L273.2 135.2L273.7 137.1L274.3 139.0L274.9 141.0L275.5 142.9L276.1 144.8L276.6 146.7L277.2 148.6L277.8 150.5L278.4 152.5L279.0 154.4L279.5 156.3L280.1 158.2L280.7 160.1L281.2 162.0L281.8 164.0L282.3 165.9L282.9 167.8L283.4 169.8L283.9 171.7L284.4 173.6L284.9 175.6L285.4 177.5L285.9 179.4L286.3 181.4L286.8 183.3L287.3 185.3L287.7 187.2L288.2 189.2L288.6 191.1L289.0 193.1L289.4 195.1L289.8 197.0L290.2 199.0L290.6 201.0L291.0 202.9L291.3 204.9L291.7 206.8L292.1 208.8L292.5 210.8L292.9 212.7L293.3 214.7L293.7 216.7L294.1 218.6L294.5 220.6L294.8 222.6L295.2 224.5L295.6 226.5L296.0 228.4L296.4 230.4L296.9 232.4L297.3 234.3L297.7 236.3L298.1 238.2L298.6 240.2L299.0 242.1L299.5 244.1L299.9 246.0L300.4 248.0L301.0 249.9L301.6 251.8L302.3 253.6L303.0 255.5L303.8 257.4L304.5 259.2L305.3 261.1L306.1 262.9L306.9 264.8L307.7 266.6L308.5 268.4L309.4 270.2L310.3 272.0L311.2 273.8L312.1 275.6L313.0 277.4L313.9 279.1L314.9 280.8L316.0 282.5L317.2 284.2L318.4 285.7L319.8 287.1L321.3 288.4L322.9 289.7L324.5 290.8L326.2 291.9L327.9 292.9L329.7 293.8L331.5 294.7L333.3 295.4L335.2 296.1L337.1 296.7L339.0 297.3L341.0 297.8L342.9 298.2L344.9 298.6L346.9 298.9L348.8 299.2L350.8 299.5L352.8 299.7L354.8 300.0L356.8 300.2L358.8 300.4L360.8 300.6L362.8 300.9L364.7 301.1L366.7 301.3L368.7 301.5L370.7 301.7L372.7 301.9L373.7 302.0" fill="none" stroke="#000000" stroke-width="3.6" stroke-linecap="round" stroke-linejoin="round"/>
<path d="M44.8 178.5L45.9 180.2L47.1 181.8L48.2 183.4L49.4 185.1L50.6 186.7L51.8 188.3L53.0 189.9L54.3 191.4L55.6 192.9L56.9 194.5L58.2 196.0L59.5 197.4L60.9 198.9L62.4 200.2L63.9 201.5L65.5 202.7L67.1 203.9L68.7 205.1L70.4 206.3L72.0 207.4L73.7 208.5L75.4 209.6L77.1 210.7L78.8 211.7L80.5 212.7L82.3 213.6L84.1 214.5L85.9 215.3L87.8 216.1L89.6 216.8L91.5 217.4L93.4 218.0L95.4 218.5L97.3 218.9L99.3 219.2L101.2 219.2L103.1 218.8L104.8 218.1L106.4 217.0L107.7 215.6L108.8 214.0L109.9 212.3L111.0 210.6L112.0 208.9L113.0 207.2L114.0 205.4L114.9 203.6L115.7 201.8L116.5 200.0L117.3 198.1L118.0 196.3L118.8 194.4L119.5 192.6L120.3 190.7L121.0 188.8L121.8 187.0L122.5 185.1L123.3 183.3L124.0 181.4L124.8 179.6L125.5 177.7L126.3 175.8L127.0 174.0L127.8 172.1L128.5 170.3L129.2 168.4L130.0 166.5L130.7 164.7L131.4 162.8L132.2 161.0L132.9 159.1L133.7 157.2L134.4 155.4L135.2 153.5L135.9 151.7L136.7 149.8L137.4 147.9L138.1 146.1L138.9 144.2L139.6 142.3L140.3 140.5L141.1 138.6L141.8 136.8L142.6 134.9L143.4 133.1L144.2 131.2L145.0 129.4L145.8 127.6L146.6 125.8L147.4 123.9L148.3 122.1L149.1 120.3L149.9 118.5L150.8 116.6L151.6 114.8L152.4 113.0L153.3 111.2L154.2 109.4L155.0 107.6L155.9 105.8L156.8 104.0L157.7 102.2L158.6 100.4L159.5 98.6L160.3 96.8L161.2 95.0L162.1 93.2L162.9 91.4L163.8 89.6L164.7 87.8L165.6 86.0L166.5 84.2L167.4 82.4L168.4 80.7L169.4 79.0L170.4 77.2L171.5 75.5L172.6 73.8L173.6 72.1L174.7 70.5L175.8 68.8L176.9 67.1L178.1 65.5L179.3 63.9L180.5 62.3L181.8 60.8L183.2 59.3L184.6 57.9L186.0 56.5L187.5 55.2L189.0 53.8L190.5 52.5L192.1 51.3L193.7 50.1L195.3 48.9L197.0 47.9L198.7 46.8L200.5 45.8L202.2 44.9L204.0 44.0L205.8 43.1L207.6 42.3L209.5 41.6L211.4 40.9L213.3 40.4L215.2 39.9L217.2 39.6L219.2 39.2L221.2 38.9L223.1 38.6L225.1 38.4L227.1 38.4L229.0 38.6L230.9 39.1L232.7 39.9L234.3 41.0L235.9 42.2L237.3 43.6L238.7 45.0L240.1 46.5L241.4 48.0L242.7 49.5L243.9 51.1L245.1 52.7L246.2 54.4L247.3 56.1L248.3 57.8L249.3 59.6L250.2 61.3L251.1 63.1L251.9 64.9L252.8 66.8L253.6 68.6L254.4 70.4L255.1 72.3L255.9 74.1L256.6 76.0L257.3 77.9L258.0 79.8L258.6 81.7L259.3 83.6L259.9 85.5L260.4 87.4L261.0 89.3L261.6 91.2L262.1 93.2L262.7 95.1L263.2 97.0L263.8 98.9L264.4 100.8L264.9 102.8L265.5 104.7L266.1 106.6L266.6 108.5L267.2 110.4L267.8 112.4L268.4 114.3L269.0 116.2L269.5 118.1L270.1 120.0L270.7 121.9L271.3 123.9L271.9 125.8L272.4 127.7L273.0 129.6L273.6 131.5L274.2 133.4L274.8 135.4L275.3 137.3L275.9 139.2L276.5 141.1L277.1 143.0L277.6 145.0L278.2 146.9L278.8 148.8L279.4 150.7L280.0 152.6L280.6 154.5L281.1 156.5L281.7 158.4L282.3 160.3L282.8 162.2L283.4 164.1L283.9 166.1L284.4 168.0L285.0 169.9L285.5 171.9L286.0 173.8L286.5 175.8L286.9 177.7L287.4 179.6L287.9 181.6L288.3 183.5L288.8 185.5L289.2 187.5L289.7 189.4L290.1 191.4L290.5 193.3L290.9 195.3L291.3 197.2L291.7 199.2L292.1 201.2L292.5 203.1L292.9 205.1L293.2 207.1L293.6 209.0L294.0 211.0L294.4 213.0L294.8 214.9L295.2 216.9L295.6 218.9L296.0 220.8L296.4 222.8L296.8 224.8L297.2 226.7L297.6 228.7L298.0 230.6L298.4 232.6L298.8 234.6L299.2 236.5L299.7 238.5L300.1 240.4L300.5 242.4L301.0 244.3L301.5 246.3L302.0 248.2L302.6 250.1L303.3 252.0L304.0 253.9L304.7 255.7L305.5 257.6L306.3 259.4L307.0 261.3L307.8 263.1L308.6 265.0L309.5 266.8L310.3 268.6L311.2 270.4L312.1 272.2L313.0 274.0L313.9 275.8L314.8 277.5L315.8 279.3L316.8 281.0L317.9 282.6L319.2 284.2L320.5 285.7L321.9 287.0L323.5 288.3L325.1 289.5L326.8 290.6L328.5 291.6L330.3 292.5L332.1 293.3L333.9 294.1L335.8 294.9L337.7 295.6L339.5 296.2L341.5 296.8L343.4 297.4L345.3 297.9L347.2 298.4L349.2 298.9L351.1 299.4L353.1 299.8L355.1 300.2L357.0 300.6L359.0 301.0L360.9 301.4L362.9 301.8L364.9 302.2L366.8 302.6L368.8 303.0L370.8 303.4L372.7 303.8L373.7 304.0" fill="none" stroke="#ff0000" stroke-width="3.6" stroke-linecap="round" stroke-linejoin="round"/>
<path d="M44.8 188.5L46.4 189.7L47.9 191.0L49.5 192.2L51.1 193.4L52.7 194.7L54.2 195.9L55.8 197.1L57.4 198.3L59.0 199.6L60.6 200.8L62.2 201.9L63.9 203.1L65.5 204.2L67.2 205.3L68.8 206.4L70.5 207.5L72.2 208.6L73.9 209.7L75.6 210.8L77.3 211.8L79.0 212.8L80.8 213.7L82.6 214.6L84.4 215.3L86.3 215.8L88.3 216.1L90.3 216.3L92.2 216.3L94.2 216.1L96.2 215.9L98.2 215.5L100.1 215.0L102.0 214.5L103.9 213.9L105.8 213.2L107.7 212.5L109.5 211.7L111.3 210.8L113.0 209.8L114.7 208.8L116.3 207.6L117.8 206.3L119.1 204.8L120.3 203.3L121.6 201.8L122.9 200.2L124.2 198.7L125.5 197.2L126.8 195.7L128.0 194.1L129.3 192.6L130.5 191.0L131.8 189.4L133.0 187.9L134.2 186.3L135.4 184.7L136.7 183.1L137.9 181.5L139.1 179.9L140.3 178.3L141.4 176.7L142.6 175.1L143.8 173.5L145.0 171.9L146.3 170.3L147.5 168.8L148.8 167.2L150.1 165.7L151.5 164.2L152.8 162.8L154.2 161.4L155.7 160.0L157.2 158.6L158.7 157.3L160.2 156.0L161.7 154.7L163.2 153.4L164.7 152.0L166.1 150.7L167.6 149.3L169.1 148.0L170.7 146.7L172.2 145.4L173.7 144.2L175.3 142.9L176.8 141.6L178.4 140.4L180.0 139.2L181.6 138.0L183.3 136.9L185.0 135.9L186.7 134.9L188.5 134.0L190.3 133.0L192.1 132.1L193.9 131.3L195.7 130.5L197.5 129.7L199.4 128.9L201.2 128.3L203.1 127.7L205.1 127.3L207.0 127.2L209.0 127.2L211.0 127.3L213.0 127.6L215.0 127.8L216.9 128.1L218.9 128.4L220.9 128.8L222.8 129.3L224.7 129.8L226.6 130.5L228.4 131.3L230.2 132.2L231.8 133.3L233.4 134.6L234.8 135.9L236.2 137.3L237.6 138.8L238.9 140.3L240.1 141.9L241.3 143.5L242.4 145.2L243.5 146.8L244.5 148.6L245.5 150.3L246.5 152.0L247.4 153.8L248.4 155.6L249.3 157.3L250.3 159.1L251.2 160.9L252.1 162.6L253.1 164.4L254.0 166.2L254.9 167.9L255.8 169.7L256.7 171.5L257.6 173.3L258.4 175.1L259.3 176.9L260.1 178.7L261.0 180.6L261.8 182.4L262.6 184.2L263.4 186.0L264.2 187.9L265.0 189.7L265.8 191.5L266.6 193.4L267.4 195.2L268.2 197.0L269.0 198.9L269.8 200.7L270.6 202.6L271.4 204.4L272.2 206.2L273.0 208.1L273.8 209.9L274.6 211.7L275.4 213.6L276.2 215.4L277.0 217.2L277.8 219.1L278.6 220.9L279.4 222.7L280.2 224.5L281.1 226.4L281.9 228.2L282.7 230.0L283.5 231.8L284.4 233.6L285.2 235.5L286.0 237.3L286.9 239.1L287.7 240.9L288.6 242.7L289.5 244.5L290.3 246.3L291.2 248.1L292.2 249.9L293.1 251.6L294.0 253.4L295.0 255.2L295.9 256.9L296.9 258.7L297.9 260.4L298.9 262.1L300.0 263.8L301.1 265.5L302.2 267.1L303.4 268.8L304.5 270.4L305.7 272.0L307.0 273.6L308.2 275.1L309.5 276.6L310.9 278.1L312.4 279.4L313.9 280.7L315.5 281.9L317.1 283.0L318.8 284.1L320.5 285.1L322.3 286.0L324.1 287.0L325.9 287.8L327.7 288.6L329.6 289.4L331.4 290.1L333.3 290.8L335.2 291.5L337.1 292.0L339.0 292.6L341.0 293.0L342.9 293.5L344.9 293.9L346.9 294.2L348.8 294.5L350.8 294.7L352.8 295.0L354.8 295.2L356.8 295.4L358.8 295.6L360.8 295.8L362.7 296.0L364.7 296.2L366.7 296.4L368.7 296.5L370.7 296.7L372.7 296.9L373.7 297.0" fill="none" stroke="#000080" stroke-width="3.6" stroke-linecap="round" stroke-linejoin="round"/>
<path d="M44.8 185.8L46.4 187.0L48.0 188.3L49.6 189.5L51.1 190.7L52.7 191.9L54.3 193.2L55.9 194.4L57.5 195.6L59.1 196.8L60.7 198.0L62.3 199.2L63.9 200.4L65.5 201.6L67.2 202.7L68.8 203.8L70.5 205.0L72.2 206.1L73.9 207.1L75.6 208.2L77.3 209.2L79.0 210.2L80.8 211.1L82.6 212.0L84.5 212.7L86.4 213.4L88.3 213.8L90.2 214.0L92.2 214.1L94.2 213.9L96.2 213.7L98.1 213.3L100.1 212.8L102.0 212.3L104.0 211.9L105.9 211.4L107.9 211.0L109.9 210.6L111.8 210.2L113.7 209.7L115.6 209.1L117.5 208.4L119.4 207.7L121.3 207.0L123.2 206.3L125.0 205.6L126.9 204.9L128.8 204.2L130.6 203.4L132.5 202.6L134.3 201.8L136.2 201.1L138.0 200.3L139.9 199.6L141.8 198.9L143.7 198.3L145.6 197.7L147.5 197.1L149.5 196.6L151.4 196.1L153.4 195.7L155.3 195.2L157.2 194.7L159.2 194.2L161.1 193.7L163.1 193.2L165.0 192.7L166.9 192.1L168.8 191.5L170.7 190.9L172.7 190.3L174.6 189.7L176.5 189.2L178.4 188.7L180.4 188.2L182.4 187.8L184.3 187.4L186.3 187.0L188.2 186.6L190.2 186.1L192.2 185.7L194.1 185.3L196.1 185.0L198.1 184.6L200.0 184.2L202.0 183.9L204.0 183.5L206.0 183.3L208.0 183.0L209.9 182.9L211.9 182.9L213.9 183.1L215.9 183.4L217.8 183.8L219.8 184.3L221.7 184.9L223.6 185.5L225.4 186.3L227.2 187.2L228.9 188.2L230.6 189.2L232.3 190.4L233.9 191.5L235.5 192.8L237.1 194.0L238.6 195.3L240.1 196.6L241.7 197.9L243.1 199.2L244.6 200.6L246.0 202.0L247.4 203.4L248.8 204.9L250.1 206.4L251.4 207.9L252.6 209.5L253.9 211.1L255.1 212.7L256.3 214.3L257.5 215.9L258.6 217.5L259.8 219.2L260.9 220.8L262.1 222.5L263.2 224.1L264.3 225.8L265.5 227.4L266.6 229.1L267.7 230.8L268.8 232.4L269.9 234.1L271.0 235.8L272.1 237.5L273.2 239.2L274.2 240.9L275.3 242.6L276.3 244.3L277.4 246.0L278.4 247.7L279.5 249.4L280.5 251.1L281.6 252.8L282.7 254.5L283.9 256.1L285.0 257.8L286.1 259.4L287.3 261.1L288.4 262.7L289.6 264.3L290.8 265.9L292.0 267.6L293.2 269.2L294.4 270.7L295.7 272.3L297.0 273.8L298.3 275.3L299.7 276.8L301.1 278.2L302.6 279.6L304.1 280.9L305.6 282.1L307.2 283.4L308.8 284.5L310.5 285.6L312.2 286.6L314.0 287.6L315.8 288.5L317.6 289.3L319.4 290.1L321.3 290.9L323.2 291.6L325.1 292.2L327.0 292.7L328.9 293.3L330.9 293.7L332.8 294.2L334.8 294.6L336.8 294.9L338.7 295.2L340.7 295.5L342.7 295.8L344.7 296.0L346.7 296.2L348.7 296.4L350.7 296.6L352.7 296.7L354.7 296.9L356.7 297.0L358.7 297.1L360.7 297.2L362.7 297.3L364.7 297.4L366.7 297.5L368.7 297.6L370.7 297.7L372.7 297.8L373.7 297.9" fill="none" stroke="#000080" stroke-width="3.8" stroke-linecap="round" stroke-linejoin="round"/>
<line x1="44.6" y1="8.4" x2="373.7" y2="8.4" stroke="#444" stroke-width="1.1"/>
<line x1="373.7" y1="8.4" x2="373.7" y2="335.8" stroke="#555" stroke-width="1.1"/>
<line x1="44.6" y1="7.9" x2="44.6" y2="335.8" stroke="#1a1a1a" stroke-width="1.2"/>
<line x1="44.0" y1="335.2" x2="374.2" y2="335.2" stroke="#111" stroke-width="1.3"/>
<text font-family="'Liberation Sans', sans-serif" font-weight="bold" font-size="100" fill="#000" transform="matrix(0.13309 0 0 0.17887 25.300 340.221)">0.0</text>
<text font-family="'Liberation Sans', sans-serif" font-weight="bold" font-size="100" fill="#000" transform="matrix(0.13309 0 0 0.17887 25.300 296.571)">0.2</text>
<text font-family="'Liberation Sans', sans-serif" font-weight="bold" font-size="100" fill="#000" transform="matrix(0.13309 0 0 0.17887 25.300 252.921)">0.4</text>
<text font-family="'Liberation Sans', sans-serif" font-weight="bold" font-size="100" fill="#000" transform="matrix(0.13309 0 0 0.17887 25.300 209.271)">0.6</text>
<text font-family="'Liberation Sans', sans-serif" font-weight="bold" font-size="100" fill="#000" transform="matrix(0.13309 0 0 0.17887 25.300 165.621)">0.8</text>
<g transform="matrix(0.13597 0 0 0.17887 24.900 121.971)"><path d="M23.34 0.00 L23.34 -57.13 L6.84 -46.83 L6.84 -57.62 L24.07 -68.80 L37.06 -68.80 L37.06 0.00Z" fill="#000"/><text x="55.62" y="0" font-family="'Liberation Sans', sans-serif" font-weight="bold" font-size="100" fill="#000">.0</text></g>
<g transform="matrix(0.13597 0 0 0.18143 24.900 78.500)"><path d="M23.34 0.00 L23.34 -57.13 L6.84 -46.83 L6.84 -57.62 L24.07 -68.80 L37.06 -68.80 L37.06 0.00Z" fill="#000"/><text x="55.62" y="0" font-family="'Liberation Sans', sans-serif" font-weight="bold" font-size="100" fill="#000">.2</text></g>
<g transform="matrix(0.13597 0 0 0.18406 24.900 34.850)"><path d="M23.34 0.00 L23.34 -57.13 L6.84 -46.83 L6.84 -57.62 L24.07 -68.80 L37.06 -68.80 L37.06 0.00Z" fill="#000"/><text x="55.62" y="0" font-family="'Liberation Sans', sans-serif" font-weight="bold" font-size="100" fill="#000">.4</text></g>
<text font-family="'Liberation Sans', sans-serif" font-weight="bold" font-size="100" fill="#000" transform="matrix(0.14192 0 0 0.18028 32.750 348.920)">300</text>
<text font-family="'Liberation Sans', sans-serif" font-weight="bold" font-size="100" fill="#000" transform="matrix(0.14192 0 0 0.18028 87.600 348.920)">350</text>
<text font-family="'Liberation Sans', sans-serif" font-weight="bold" font-size="100" fill="#000" transform="matrix(0.14192 0 0 0.18028 142.450 348.920)">400</text>
<text font-family="'Liberation Sans', sans-serif" font-weight="bold" font-size="100" fill="#000" transform="matrix(0.14192 0 0 0.18028 197.300 348.920)">450</text>
<text font-family="'Liberation Sans', sans-serif" font-weight="bold" font-size="100" fill="#000" transform="matrix(0.14192 0 0 0.18028 252.150 348.920)">500</text>
<text font-family="'Liberation Sans', sans-serif" font-weight="bold" font-size="100" fill="#000" transform="matrix(0.14192 0 0 0.18028 307.000 348.920)">550</text>
<text font-family="'Liberation Sans', sans-serif" font-weight="bold" font-size="100" fill="#000" transform="matrix(0.14192 0 0 0.18028 361.850 348.920)">600</text>
<text font-family="'Liberation Serif', serif" font-weight="bold" font-size="100" fill="#000" transform="matrix(0.13002 0 0 0.16170 65.000 29.138)">ZnO chem</text>
<text font-family="'Liberation Sans', sans-serif" font-weight="bold" font-size="100" fill="#000" transform="matrix(0.12793 0 0 0.19577 331.800 22.004)">0</text>
<text font-family="'Liberation Sans', sans-serif" font-weight="bold" font-size="100" fill="#000" transform="matrix(0.13473 0 0 0.17606 314.000 248.324)">360</text>
<line x1="343.0" y1="26.1" x2="343.0" y2="231.2" stroke="#000" stroke-width="2.3"/><polygon points="338.5,230.2 347.5,230.2 343.0,248.0" fill="#000"/>
<text font-family="'Liberation Serif', serif" font-weight="bold" font-size="100" fill="#000" transform="matrix(0.20044 0 0 0.23060 139.800 381.927)">wavelength(nm)</text>
<text font-family="'Liberation Serif', serif" font-weight="bold" font-size="100" fill="#000" transform="matrix(0 -0.24649 0.19396 0 16.580 277.000)">absorbance (arb.u)</text>
<path d="M432.0 235.2L433.8 236.2L435.5 237.1L437.3 238.1L439.0 239.0L440.8 240.0L442.6 240.9L444.4 241.8L446.2 242.7L448.0 243.6L449.8 244.4L451.5 245.3L453.3 246.2L455.1 247.2L456.9 248.1L458.7 249.0L460.5 249.8L462.3 250.6L464.2 251.4L466.0 252.1L467.9 252.8L469.8 253.5L471.7 254.1L473.6 254.7L475.5 255.4L477.4 256.0L479.3 256.5L481.2 257.1L483.2 257.7L485.1 258.2L487.0 258.8L488.9 259.4L490.8 259.9L492.8 260.5L494.7 261.1L496.6 261.7L498.5 262.2L500.4 262.8L502.4 263.4L504.3 264.0L506.2 264.6L508.1 265.2L510.0 265.8L511.9 266.3L513.9 266.9L515.8 267.4L517.7 267.9L519.7 268.4L521.6 268.9L523.6 269.3L525.5 269.7L527.5 270.0L529.5 270.3L531.5 270.5L533.5 270.7L535.4 270.9L537.4 271.1L539.4 271.2L541.4 271.4L543.4 271.5L545.4 271.6L547.4 271.7L549.4 271.9L551.4 272.0L553.4 272.1L555.4 272.2L557.4 272.3L559.4 272.5L561.4 272.6L563.4 272.7L565.4 272.8L567.4 272.9L569.4 273.0L571.4 273.1L573.4 273.2L575.4 273.3L577.4 273.5L579.4 273.7L581.4 273.9L583.4 274.2L585.4 274.5L587.3 274.8L589.3 275.1L591.3 275.4L593.2 275.8L595.2 276.1L597.2 276.5L599.2 276.8L601.1 277.1L603.1 277.4L605.1 277.7L607.1 278.0L609.1 278.3L611.0 278.6L613.0 278.9L615.0 279.2L617.0 279.5L618.9 279.9L620.9 280.4L622.8 280.8L624.8 281.4L626.7 282.0L628.6 282.6L630.5 283.2L632.4 283.8L634.3 284.4L636.2 285.0L638.1 285.6L640.0 286.1L642.0 286.7L643.9 287.3L645.8 287.9L647.7 288.4L649.6 289.0L651.6 289.6L653.5 290.2L655.4 290.7L657.3 291.3L659.2 291.9L661.1 292.5L663.1 293.1L665.0 293.7L666.9 294.3L668.8 294.9L670.6 295.6L672.5 296.3L674.4 296.9L676.3 297.5L678.2 298.1L680.2 298.7L682.1 299.3L684.0 299.8L685.9 300.3L687.9 300.8L689.8 301.3L691.8 301.7L693.7 302.1L695.7 302.5L697.7 302.9L699.6 303.3L701.6 303.7L703.6 304.0L705.5 304.3L707.5 304.6L709.5 305.0L711.5 305.2L713.5 305.5L715.4 305.8L717.4 306.1L719.4 306.3L721.4 306.6L723.4 306.8L725.4 307.0L727.4 307.2L729.4 307.4L731.4 307.6L733.3 307.8L735.3 308.0L737.3 308.2L739.3 308.4L741.3 308.5L743.3 308.7L745.3 308.8L747.3 309.0L749.3 309.2L751.3 309.3L753.3 309.5" fill="none" stroke="#ee2a3a" stroke-width="3.15" stroke-linecap="round" stroke-linejoin="round"/>
<path d="M432.0 226.7L433.8 227.5L435.6 228.4L437.5 229.2L439.3 230.1L441.1 231.0L442.8 231.9L444.6 232.8L446.4 233.8L448.1 234.7L449.9 235.7L451.6 236.7L453.3 237.7L455.1 238.7L456.8 239.7L458.5 240.7L460.3 241.7L462.0 242.7L463.8 243.6L465.6 244.4L467.5 245.2L469.4 245.9L471.2 246.6L473.1 247.2L475.1 247.8L477.0 248.3L478.9 248.8L480.9 249.3L482.8 249.8L484.8 250.2L486.7 250.6L488.7 251.0L490.7 251.3L492.6 251.7L494.6 252.0L496.6 252.3L498.6 252.5L500.6 252.8L502.6 253.0L504.6 253.2L506.6 253.3L508.6 253.4L510.6 253.4L512.6 253.5L514.6 253.5L516.6 253.5L518.6 253.5L520.6 253.5L522.6 253.5L524.6 253.5L526.6 253.5L528.6 253.4L530.6 253.4L532.6 253.3L534.6 253.3L536.6 253.2L538.6 253.2L540.6 253.1L542.6 253.1L544.6 253.0L546.6 252.9L548.6 252.9L550.6 252.8L552.6 252.7L554.6 252.7L556.6 252.6L558.6 252.5L560.6 252.5L562.6 252.4L564.6 252.3L566.6 252.3L568.6 252.2L570.6 252.1L572.6 252.1L574.6 252.0L576.6 251.9L578.6 251.8L580.6 251.7L582.6 251.6L584.6 251.5L586.6 251.4L588.6 251.3L590.6 251.1L592.6 251.0L594.6 251.0L596.6 251.0L598.6 251.1L600.6 251.2L602.6 251.5L604.6 251.8L606.5 252.1L608.5 252.5L610.5 253.0L612.4 253.5L614.3 254.0L616.3 254.5L618.2 255.0L620.1 255.6L622.0 256.2L623.9 256.9L625.7 257.7L627.6 258.5L629.3 259.4L631.1 260.4L632.8 261.4L634.5 262.4L636.2 263.5L638.0 264.5L639.7 265.5L641.4 266.5L643.2 267.5L644.9 268.5L646.6 269.6L648.3 270.6L650.0 271.7L651.6 272.8L653.3 273.9L655.0 275.1L656.6 276.2L658.3 277.3L660.0 278.4L661.6 279.5L663.3 280.6L665.0 281.7L666.6 282.8L668.3 284.0L670.0 285.1L671.6 286.2L673.3 287.3L675.0 288.3L676.7 289.4L678.4 290.4L680.1 291.4L681.9 292.4L683.7 293.2L685.5 294.1L687.4 294.8L689.3 295.5L691.1 296.2L693.0 296.9L694.9 297.5L696.9 298.1L698.8 298.6L700.7 299.2L702.6 299.6L704.6 300.1L706.6 300.4L708.5 300.8L710.5 301.1L712.5 301.3L714.5 301.6L716.5 301.8L718.5 302.1L720.5 302.3L722.4 302.6L724.4 302.8L726.4 303.0L728.4 303.2L730.4 303.5L732.4 303.7L734.4 303.9L736.4 304.1L738.4 304.4L740.4 304.6L742.4 304.8L744.3 305.0L746.3 305.2L748.3 305.4L750.3 305.7L752.3 305.9L753.3 306.0" fill="none" stroke="#800000" stroke-width="3.15" stroke-linecap="round" stroke-linejoin="round"/>
<path d="M432.0 220.9L433.8 221.8L435.5 222.8L437.3 223.7L439.1 224.6L440.9 225.6L442.6 226.5L444.4 227.4L446.2 228.3L448.0 229.1L449.8 230.0L451.6 230.9L453.3 231.9L455.0 233.0L456.7 234.1L458.3 235.3L460.0 236.4L461.6 237.6L463.3 238.6L465.1 239.5L466.9 240.4L468.7 241.1L470.6 241.8L472.5 242.4L474.4 243.0L476.4 243.5L478.3 243.9L480.3 244.3L482.3 244.6L484.3 244.9L486.3 245.0L488.3 245.1L490.3 245.1L492.3 245.1L494.3 245.0L496.3 244.9L498.2 244.7L500.2 244.5L502.2 244.3L504.2 244.1L506.2 243.9L508.2 243.7L510.2 243.6L512.2 243.5L514.2 243.4L516.2 243.3L518.2 243.2L520.2 243.1L522.2 242.9L524.2 242.8L526.2 242.7L528.2 242.5L530.2 242.4L532.2 242.2L534.2 242.0L536.2 241.8L538.2 241.6L540.2 241.4L542.2 241.1L544.2 240.9L546.1 240.7L548.1 240.5L550.1 240.2L552.1 240.0L554.1 239.8L556.1 239.6L558.1 239.4L560.1 239.1L562.1 238.9L564.1 238.7L566.1 238.5L568.1 238.3L570.0 238.1L572.0 237.9L574.0 237.6L576.0 237.4L578.0 237.2L580.0 237.1L582.0 236.9L584.0 236.7L586.0 236.6L588.0 236.4L590.0 236.3L592.0 236.2L594.0 236.1L596.0 236.0L598.0 235.9L600.0 235.9L602.0 235.8L604.0 235.8L606.0 235.9L608.0 236.0L610.0 236.2L611.9 236.6L613.9 237.1L615.8 237.7L617.6 238.4L619.5 239.1L621.4 239.8L623.3 240.5L625.1 241.2L627.0 242.0L628.8 242.8L630.5 243.8L632.2 244.8L633.9 245.9L635.5 247.1L637.2 248.3L638.8 249.5L640.3 250.7L641.9 252.0L643.4 253.2L645.0 254.5L646.5 255.9L647.9 257.2L649.4 258.6L650.8 260.0L652.2 261.4L653.6 262.9L655.0 264.3L656.4 265.7L657.8 267.2L659.2 268.6L660.6 270.0L662.1 271.4L663.5 272.9L664.9 274.3L666.3 275.7L667.7 277.1L669.1 278.5L670.5 279.9L672.0 281.3L673.4 282.7L674.9 284.1L676.4 285.4L677.9 286.7L679.4 288.0L681.0 289.2L682.6 290.4L684.3 291.5L686.0 292.5L687.8 293.5L689.5 294.5L691.3 295.3L693.2 296.2L695.0 297.0L696.9 297.7L698.7 298.4L700.6 299.0L702.5 299.6L704.5 300.0L706.5 300.4L708.4 300.7L710.4 301.0L712.4 301.3L714.4 301.5L716.4 301.7L718.4 301.9L720.4 302.1L722.4 302.3L724.4 302.5L726.4 302.7L728.3 302.9L730.3 303.1L732.3 303.2L734.3 303.4L736.3 303.6L738.3 303.7L740.3 303.9L742.3 304.1L744.3 304.2L746.3 304.4L748.3 304.6L750.3 304.7L752.3 304.9L753.3 305.0" fill="none" stroke="#000080" stroke-width="3.15" stroke-linecap="round" stroke-linejoin="round"/>
<path d="M432.0 219.0L433.8 220.0L435.5 220.9L437.3 221.9L439.0 222.8L440.8 223.8L442.5 224.8L444.3 225.7L446.0 226.7L447.8 227.7L449.5 228.7L451.3 229.7L453.0 230.7L454.6 231.8L456.3 232.9L457.9 234.1L459.6 235.2L461.3 236.3L463.0 237.3L464.7 238.3L466.5 239.2L468.4 240.0L470.2 240.7L472.1 241.3L474.0 241.8L476.0 242.3L478.0 242.7L479.9 243.0L481.9 243.2L483.9 243.4L485.9 243.5L487.9 243.5L489.9 243.4L491.9 243.3L493.9 243.1L495.9 242.8L497.8 242.5L499.8 242.2L501.8 241.8L503.7 241.3L505.7 240.9L507.7 240.5L509.6 240.1L511.6 239.7L513.5 239.3L515.5 238.9L517.5 238.5L519.4 238.1L521.4 237.7L523.3 237.3L525.3 236.9L527.3 236.5L529.2 236.1L531.2 235.7L533.2 235.3L535.1 234.9L537.1 234.5L539.0 234.1L541.0 233.7L543.0 233.3L544.9 232.9L546.9 232.5L548.8 232.1L550.8 231.7L552.8 231.3L554.7 231.0L556.7 230.6L558.7 230.2L560.7 229.9L562.6 229.5L564.6 229.2L566.6 228.9L568.6 228.6L570.5 228.3L572.5 228.0L574.5 227.7L576.5 227.4L578.5 227.1L580.4 226.8L582.4 226.6L584.4 226.3L586.4 226.0L588.4 225.8L590.4 225.5L592.4 225.3L594.3 225.1L596.3 224.9L598.3 224.8L600.3 224.7L602.3 224.6L604.3 224.6L606.3 224.7L608.3 224.8L610.3 225.0L612.3 225.3L614.2 225.7L616.2 226.2L618.1 226.8L620.0 227.3L621.9 228.0L623.8 228.6L625.7 229.4L627.5 230.2L629.3 231.1L631.0 232.0L632.7 233.1L634.4 234.2L636.0 235.4L637.6 236.6L639.1 237.9L640.6 239.3L642.0 240.7L643.4 242.1L644.8 243.5L646.1 245.0L647.5 246.5L648.9 248.0L650.2 249.5L651.5 251.0L652.8 252.5L654.1 254.0L655.4 255.6L656.6 257.1L657.8 258.7L659.0 260.3L660.2 262.0L661.4 263.6L662.5 265.2L663.8 266.8L665.0 268.4L666.2 269.9L667.5 271.5L668.8 273.0L670.1 274.5L671.4 276.0L672.7 277.5L674.1 279.0L675.5 280.5L676.8 281.9L678.2 283.4L679.7 284.8L681.1 286.1L682.7 287.4L684.2 288.6L685.9 289.8L687.5 290.9L689.2 292.0L690.9 293.0L692.7 294.0L694.4 294.9L696.2 295.8L698.1 296.6L699.9 297.4L701.8 298.0L703.7 298.6L705.6 299.1L707.6 299.5L709.6 299.9L711.5 300.2L713.5 300.5L715.5 300.8L717.5 301.0L719.5 301.3L721.5 301.5L723.4 301.8L725.4 302.0L727.4 302.2L729.4 302.5L731.4 302.7L733.4 302.9L735.4 303.1L737.4 303.3L739.4 303.5L741.4 303.7L743.3 303.9L745.3 304.1L747.3 304.4L749.3 304.6L751.3 304.8L753.3 305.0" fill="none" stroke="#808000" stroke-width="3.15" stroke-linecap="round" stroke-linejoin="round"/>
<path d="M432.0 217.0L433.8 217.9L435.5 218.9L437.3 219.8L439.1 220.8L440.8 221.8L442.5 222.8L444.2 223.9L445.9 225.0L447.5 226.1L449.2 227.3L450.8 228.5L452.4 229.7L453.9 230.9L455.5 232.2L457.0 233.5L458.6 234.8L460.1 236.0L461.7 237.3L463.3 238.5L465.0 239.6L466.7 240.6L468.4 241.6L470.2 242.4L472.1 243.1L474.0 243.7L475.9 244.1L477.9 244.3L479.9 244.3L481.9 244.2L483.9 244.0L485.9 243.8L487.9 243.5L489.8 243.2L491.8 242.8L493.7 242.3L495.7 241.8L497.6 241.3L499.5 240.7L501.4 240.2L503.4 239.5L505.2 238.9L507.1 238.2L509.0 237.4L510.8 236.6L512.6 235.8L514.4 234.9L516.2 234.0L518.0 233.1L519.8 232.2L521.6 231.4L523.5 230.6L525.3 229.8L527.1 229.0L529.0 228.2L530.8 227.4L532.7 226.7L534.5 225.9L536.4 225.2L538.3 224.4L540.1 223.7L542.0 222.9L543.8 222.2L545.7 221.4L547.6 220.7L549.4 220.0L551.3 219.2L553.2 218.5L555.0 217.7L556.9 217.0L558.7 216.3L560.6 215.5L562.5 214.8L564.3 214.0L566.2 213.3L568.0 212.5L569.9 211.8L571.8 211.0L573.6 210.3L575.5 209.5L577.3 208.8L579.2 208.0L581.1 207.3L582.9 206.6L584.8 205.9L586.7 205.2L588.6 204.5L590.5 203.8L592.4 203.2L594.3 202.7L596.2 202.1L598.2 201.6L600.1 201.2L602.1 200.8L604.0 200.4L606.0 200.1L608.0 199.7L610.0 199.5L612.0 199.3L613.9 199.2L615.9 199.2L617.9 199.4L619.9 199.8L621.8 200.2L623.8 200.7L625.7 201.2L627.5 201.9L629.3 202.8L631.0 203.9L632.6 205.0L634.1 206.3L635.6 207.7L637.0 209.1L638.4 210.5L639.8 212.0L641.1 213.5L642.4 215.1L643.6 216.6L644.9 218.2L646.1 219.7L647.3 221.3L648.5 222.9L649.7 224.6L650.8 226.2L651.9 227.9L653.0 229.6L654.0 231.3L655.0 233.1L656.0 234.8L657.0 236.5L658.0 238.3L659.0 240.0L660.1 241.7L661.1 243.4L662.1 245.2L663.1 246.9L664.2 248.6L665.2 250.3L666.2 252.0L667.2 253.8L668.3 255.5L669.3 257.2L670.3 258.9L671.3 260.7L672.4 262.4L673.4 264.1L674.4 265.8L675.5 267.5L676.5 269.2L677.6 270.9L678.6 272.6L679.7 274.4L680.7 276.1L681.8 277.7L682.9 279.4L684.2 281.0L685.4 282.5L686.8 284.0L688.2 285.3L689.8 286.6L691.3 287.9L692.9 289.1L694.6 290.2L696.3 291.2L698.0 292.3L699.7 293.3L701.5 294.2L703.3 295.1L705.1 295.9L707.0 296.6L708.9 297.2L710.9 297.7L712.8 298.1L714.8 298.6L716.7 299.0L718.7 299.3L720.7 299.7L722.6 300.0L724.6 300.4L726.6 300.7L728.6 301.1L730.5 301.4L732.5 301.7L734.5 302.0L736.5 302.3L738.5 302.6L740.4 303.0L742.4 303.3L744.4 303.6L746.4 303.9L748.4 304.2L750.3 304.5L752.3 304.8L753.3 305.0" fill="none" stroke="#008080" stroke-width="3.15" stroke-linecap="round" stroke-linejoin="round"/>
<path d="M432.0 218.9L433.8 219.7L435.7 220.5L437.5 221.3L439.3 222.2L441.1 223.1L442.8 224.1L444.5 225.1L446.2 226.2L447.8 227.4L449.4 228.6L451.0 229.8L452.5 231.1L454.0 232.5L455.4 233.8L456.9 235.2L458.3 236.7L459.6 238.1L461.0 239.6L462.5 241.0L463.9 242.3L465.4 243.7L466.9 245.0L468.4 246.3L470.0 247.5L471.6 248.6L473.4 249.4L475.2 250.0L477.2 250.1L479.1 250.0L481.1 249.7L483.0 249.4L485.0 249.0L486.9 248.6L488.9 248.2L490.8 247.7L492.7 247.1L494.6 246.4L496.3 245.4L498.0 244.4L499.6 243.2L501.2 242.0L502.7 240.7L504.3 239.5L505.9 238.3L507.5 237.1L509.1 235.9L510.8 234.8L512.5 233.8L514.2 232.7L515.9 231.7L517.6 230.7L519.4 229.7L521.1 228.7L522.9 227.8L524.7 226.8L526.5 225.9L528.3 225.1L530.1 224.2L531.8 223.3L533.6 222.4L535.4 221.5L537.2 220.6L539.0 219.7L540.8 218.8L542.6 217.9L544.4 217.1L546.2 216.2L548.0 215.3L549.8 214.4L551.6 213.5L553.3 212.6L555.1 211.7L556.9 210.8L558.7 209.9L560.5 209.0L562.3 208.2L564.1 207.3L565.9 206.4L567.7 205.5L569.5 204.6L571.3 203.7L573.0 202.8L574.8 201.8L576.6 200.9L578.3 199.9L580.1 198.9L581.8 198.0L583.6 197.0L585.4 196.1L587.2 195.2L589.0 194.4L590.8 193.5L592.6 192.7L594.5 192.0L596.3 191.2L598.2 190.5L600.1 189.8L602.0 189.2L603.9 188.6L605.8 188.0L607.7 187.5L609.7 187.0L611.6 186.6L613.6 186.3L615.5 186.2L617.5 186.3L619.5 186.5L621.5 186.9L623.4 187.3L625.3 187.8L627.2 188.4L629.0 189.3L630.7 190.2L632.3 191.4L633.9 192.6L635.4 194.0L636.8 195.4L638.2 196.8L639.5 198.3L640.9 199.8L642.2 201.3L643.4 202.8L644.7 204.4L645.9 206.0L647.1 207.6L648.3 209.2L649.4 210.8L650.5 212.5L651.6 214.2L652.6 215.9L653.6 217.7L654.6 219.4L655.5 221.2L656.4 223.0L657.3 224.7L658.2 226.5L659.2 228.3L660.1 230.1L661.0 231.9L661.8 233.7L662.7 235.5L663.6 237.3L664.5 239.1L665.3 240.9L666.2 242.7L667.1 244.5L668.0 246.2L668.9 248.0L669.8 249.8L670.7 251.6L671.6 253.4L672.5 255.2L673.4 257.0L674.3 258.8L675.2 260.6L676.1 262.4L676.9 264.2L677.8 265.9L678.8 267.7L679.7 269.5L680.7 271.2L681.7 273.0L682.7 274.7L683.7 276.4L684.8 278.1L685.9 279.7L687.2 281.3L688.5 282.8L689.9 284.3L691.3 285.6L692.8 287.0L694.3 288.2L696.0 289.4L697.7 290.4L699.4 291.4L701.2 292.3L703.0 293.1L704.9 293.8L706.7 294.5L708.6 295.2L710.5 295.9L712.4 296.5L714.3 297.1L716.2 297.7L718.1 298.3L720.1 298.9L722.0 299.4L723.9 300.0L725.8 300.5L727.8 300.9L729.7 301.4L731.7 301.9L733.6 302.3L735.6 302.7L737.6 303.1L739.5 303.4L741.5 303.8L743.5 304.2L745.4 304.6L747.4 304.9L749.4 305.3L751.3 305.6L753.3 306.0" fill="none" stroke="#0000ff" stroke-width="3.15" stroke-linecap="round" stroke-linejoin="round"/>
<path d="M432.0 214.3L433.8 215.2L435.6 216.1L437.3 217.0L439.1 218.0L440.8 219.0L442.5 220.0L444.2 221.1L445.9 222.2L447.5 223.4L449.1 224.6L450.7 225.8L452.3 227.1L453.9 228.3L455.5 229.5L457.1 230.6L458.7 231.8L460.3 233.0L462.0 234.1L463.7 235.1L465.4 236.1L467.2 237.1L468.9 238.0L470.8 238.8L472.6 239.5L474.5 240.1L476.5 240.6L478.4 241.0L480.4 241.3L482.4 241.5L484.4 241.6L486.4 241.6L488.4 241.4L490.3 241.2L492.3 240.9L494.3 240.5L496.2 240.1L498.1 239.6L500.1 239.0L502.0 238.4L503.9 237.8L505.8 237.2L507.7 236.6L509.6 236.0L511.5 235.4L513.4 234.8L515.3 234.2L517.3 233.6L519.2 233.1L521.1 232.5L523.0 232.0L525.0 231.4L526.9 230.9L528.8 230.3L530.7 229.8L532.6 229.2L534.5 228.6L536.5 228.0L538.4 227.4L540.3 226.8L542.2 226.3L544.1 225.7L546.0 225.1L547.9 224.5L549.8 223.9L551.8 223.3L553.7 222.8L555.6 222.2L557.5 221.6L559.4 221.1L561.4 220.5L563.3 220.0L565.2 219.5L567.2 219.0L569.1 218.5L571.0 218.0L573.0 217.5L574.9 217.0L576.9 216.5L578.8 216.1L580.8 215.6L582.7 215.2L584.7 214.7L586.6 214.3L588.6 213.9L590.6 213.6L592.5 213.4L594.5 213.2L596.5 213.0L598.5 212.9L600.5 212.7L602.5 212.5L604.5 212.4L606.5 212.3L608.5 212.1L610.5 212.1L612.5 212.0L614.5 212.0L616.5 212.1L618.4 212.4L620.4 212.8L622.3 213.3L624.2 213.9L626.1 214.6L627.9 215.5L629.6 216.5L631.2 217.6L632.8 218.8L634.4 220.0L635.8 221.4L637.3 222.8L638.7 224.2L640.1 225.7L641.4 227.1L642.7 228.7L644.0 230.2L645.2 231.8L646.5 233.3L647.7 234.9L649.0 236.5L650.2 238.0L651.4 239.6L652.6 241.2L653.8 242.9L654.9 244.5L656.1 246.1L657.2 247.8L658.4 249.4L659.5 251.1L660.6 252.7L661.7 254.4L662.8 256.1L663.9 257.8L665.0 259.4L666.1 261.1L667.2 262.8L668.3 264.5L669.4 266.1L670.5 267.8L671.6 269.4L672.7 271.1L673.8 272.8L675.0 274.4L676.1 276.0L677.3 277.7L678.4 279.3L679.7 280.9L680.9 282.4L682.3 283.9L683.7 285.3L685.1 286.7L686.6 288.0L688.2 289.2L689.8 290.4L691.5 291.6L693.1 292.6L694.9 293.7L696.6 294.7L698.3 295.6L700.1 296.5L702.0 297.3L703.8 297.9L705.8 298.5L707.7 299.0L709.7 299.4L711.6 299.8L713.6 300.1L715.6 300.4L717.5 300.7L719.5 301.0L721.5 301.2L723.5 301.5L725.5 301.8L727.5 302.0L729.5 302.2L731.4 302.5L733.4 302.7L735.4 302.9L737.4 303.2L739.4 303.4L741.4 303.6L743.4 303.9L745.4 304.1L747.3 304.3L749.3 304.5L751.3 304.8L753.3 305.0" fill="none" stroke="#ff00ff" stroke-width="3.15" stroke-linecap="round" stroke-linejoin="round"/>
<path d="M432.0 205.9L433.8 206.9L435.5 207.8L437.3 208.8L439.0 209.8L440.7 210.8L442.4 211.9L444.1 213.0L445.7 214.2L447.2 215.4L448.6 216.8L449.9 218.3L451.1 219.9L452.1 221.6L453.0 223.4L453.9 225.2L454.7 227.0L455.4 228.9L456.3 230.7L457.2 232.5L458.1 234.2L459.2 235.9L460.5 237.4L461.9 238.8L463.4 240.1L465.0 241.3L466.7 242.4L468.4 243.3L470.2 244.2L472.0 245.0L473.9 245.6L475.8 246.1L477.8 246.4L479.8 246.5L481.8 246.5L483.7 246.3L485.7 246.0L487.6 245.5L489.5 244.9L491.4 244.1L493.2 243.3L495.0 242.4L496.7 241.4L498.4 240.4L500.1 239.2L501.7 238.1L503.2 236.8L504.7 235.4L506.1 234.0L507.4 232.5L508.7 231.0L510.1 229.5L511.4 228.0L512.7 226.5L514.1 225.1L515.5 223.7L516.9 222.3L518.4 220.9L519.9 219.6L521.4 218.2L522.8 216.9L524.3 215.5L525.7 214.1L527.2 212.7L528.6 211.3L530.0 209.9L531.5 208.6L533.0 207.2L534.5 205.9L535.9 204.5L537.4 203.2L538.9 201.9L540.5 200.6L542.0 199.3L543.6 198.1L545.2 196.9L546.9 195.8L548.5 194.7L550.1 193.5L551.8 192.4L553.4 191.2L555.1 190.1L556.8 189.0L558.5 188.0L560.2 187.0L561.9 186.0L563.6 184.9L565.4 183.9L567.1 182.9L568.8 181.9L570.5 180.9L572.2 179.8L573.9 178.8L575.6 177.7L577.2 176.5L578.9 175.3L580.5 174.1L582.0 172.9L583.5 171.6L585.0 170.2L586.5 168.9L587.9 167.5L589.3 166.1L590.7 164.6L592.1 163.2L593.6 161.8L595.0 160.4L596.5 159.1L598.0 157.8L599.5 156.5L601.0 155.1L602.5 153.8L604.1 152.6L605.7 151.4L607.3 150.3L609.0 149.2L610.8 148.3L612.6 147.6L614.5 146.9L616.5 146.5L618.4 146.2L620.4 146.1L622.3 146.3L624.2 146.8L625.9 147.6L627.6 148.6L629.1 149.9L630.5 151.3L631.8 152.8L633.1 154.4L634.3 155.9L635.5 157.6L636.6 159.2L637.8 160.8L638.9 162.5L640.1 164.1L641.3 165.7L642.4 167.4L643.6 169.0L644.7 170.6L645.8 172.3L646.9 174.0L647.9 175.7L649.0 177.4L650.0 179.1L651.1 180.8L652.1 182.5L653.1 184.3L654.1 186.0L655.1 187.8L656.0 189.5L656.9 191.3L657.8 193.1L658.6 194.9L659.4 196.7L660.2 198.6L661.0 200.4L661.8 202.3L662.5 204.1L663.2 206.0L664.0 207.9L664.7 209.7L665.5 211.6L666.3 213.4L667.0 215.3L667.8 217.1L668.5 219.0L669.3 220.8L670.0 222.7L670.7 224.6L671.3 226.5L671.9 228.4L672.5 230.3L673.1 232.2L673.7 234.1L674.2 236.0L674.8 238.0L675.3 239.9L675.9 241.8L676.5 243.7L677.0 245.6L677.6 247.6L678.2 249.5L678.8 251.4L679.4 253.3L680.0 255.2L680.6 257.1L681.3 259.0L682.0 260.9L682.7 262.7L683.4 264.6L684.2 266.4L685.1 268.2L686.0 270.0L686.9 271.8L688.0 273.5L689.0 275.2L690.1 276.8L691.3 278.5L692.5 280.1L693.7 281.7L695.0 283.2L696.3 284.7L697.7 286.1L699.2 287.5L700.7 288.8L702.3 290.0L703.9 291.2L705.5 292.3L707.2 293.4L708.9 294.5L710.6 295.4L712.4 296.4L714.2 297.2L716.0 298.1L717.9 298.8L719.7 299.5L721.6 300.2L723.5 300.9L725.4 301.5L727.3 302.1L729.2 302.7L731.1 303.3L733.0 303.9L735.0 304.5L736.9 305.0L738.8 305.6L740.7 306.1L742.7 306.6L744.6 307.2L746.5 307.7L748.5 308.2L750.4 308.7L752.3 309.2L753.3 309.5" fill="none" stroke="#ff0000" stroke-width="3.15" stroke-linecap="round" stroke-linejoin="round"/>
<path d="M432.0 198.0L433.9 198.6L435.8 199.3L437.6 200.1L439.3 201.0L441.0 202.1L442.6 203.3L444.1 204.7L445.4 206.1L446.6 207.7L447.7 209.3L448.8 211.0L449.7 212.8L450.5 214.6L451.3 216.5L452.0 218.4L452.6 220.2L453.3 222.1L453.9 224.0L454.4 226.0L455.0 227.9L455.6 229.8L456.1 231.7L456.7 233.6L457.4 235.5L458.0 237.4L458.8 239.3L459.5 241.1L460.3 243.0L461.2 244.8L462.1 246.5L463.1 248.3L464.1 250.0L465.2 251.7L466.4 253.3L467.6 254.8L469.0 256.3L470.5 257.5L472.2 258.5L473.9 259.2L475.8 259.7L477.8 259.8L479.8 259.6L481.7 259.3L483.7 258.9L485.6 258.3L487.4 257.6L489.1 256.6L490.8 255.5L492.3 254.3L493.7 252.9L495.0 251.3L496.2 249.8L497.4 248.1L498.4 246.4L499.4 244.7L500.4 243.0L501.4 241.2L502.3 239.4L503.2 237.7L504.2 235.9L505.1 234.1L506.1 232.4L507.1 230.7L508.1 229.0L509.2 227.3L510.4 225.6L511.6 224.0L512.8 222.5L514.1 220.9L515.4 219.4L516.6 217.9L517.9 216.3L519.2 214.8L520.5 213.2L521.7 211.7L522.9 210.1L524.2 208.5L525.4 206.9L526.6 205.3L527.8 203.7L529.0 202.1L530.3 200.6L531.5 199.0L532.7 197.4L534.0 195.8L535.2 194.3L536.4 192.7L537.6 191.1L538.8 189.5L539.9 187.8L541.1 186.2L542.1 184.5L543.2 182.8L544.3 181.1L545.4 179.4L546.5 177.8L547.7 176.2L549.0 174.7L550.4 173.3L551.9 171.9L553.4 170.6L555.0 169.3L556.6 168.1L558.2 167.0L559.8 165.8L561.4 164.6L563.0 163.4L564.6 162.2L566.2 161.0L567.7 159.7L569.2 158.3L570.6 156.9L572.0 155.5L573.3 154.0L574.6 152.5L575.9 150.9L577.0 149.3L578.2 147.7L579.3 146.0L580.4 144.3L581.5 142.7L582.6 141.0L583.7 139.3L584.9 137.7L586.0 136.1L587.2 134.4L588.4 132.8L589.5 131.2L590.7 129.5L591.8 127.9L592.9 126.2L594.0 124.5L595.1 122.9L596.2 121.2L597.3 119.6L598.5 117.9L599.7 116.3L600.9 114.7L602.1 113.1L603.4 111.6L604.7 110.1L606.0 108.6L607.4 107.1L608.8 105.8L610.3 104.4L611.9 103.2L613.5 102.0L615.1 100.9L616.9 99.9L618.7 99.1L620.5 98.5L622.4 98.3L624.3 98.4L626.1 99.0L627.8 99.8L629.4 101.0L630.9 102.3L632.3 103.7L633.6 105.2L634.8 106.8L636.0 108.4L637.1 110.1L638.3 111.7L639.3 113.4L640.4 115.1L641.5 116.8L642.5 118.5L643.6 120.2L644.6 121.9L645.6 123.7L646.6 125.4L647.6 127.1L648.5 128.9L649.5 130.6L650.5 132.4L651.4 134.2L652.3 135.9L653.3 137.7L654.2 139.5L655.0 141.3L655.9 143.1L656.6 145.0L657.3 146.8L658.0 148.7L658.6 150.6L659.2 152.5L659.8 154.5L660.4 156.4L661.0 158.3L661.6 160.2L662.1 162.1L662.7 164.0L663.2 166.0L663.7 167.9L664.2 169.8L664.7 171.8L665.2 173.7L665.6 175.7L666.0 177.6L666.4 179.6L666.8 181.6L667.2 183.5L667.5 185.5L667.9 187.5L668.2 189.4L668.6 191.4L669.0 193.4L669.4 195.3L669.8 197.3L670.2 199.2L670.7 201.2L671.1 203.1L671.6 205.1L672.0 207.0L672.5 209.0L673.0 210.9L673.4 212.9L673.9 214.8L674.4 216.8L674.9 218.7L675.3 220.7L675.8 222.6L676.3 224.5L676.8 226.5L677.3 228.4L677.8 230.4L678.3 232.3L678.8 234.2L679.3 236.2L679.8 238.1L680.4 240.0L680.9 242.0L681.4 243.9L682.0 245.8L682.5 247.7L683.1 249.7L683.6 251.6L684.2 253.5L684.7 255.4L685.3 257.4L685.9 259.3L686.5 261.2L687.1 263.1L687.8 265.0L688.5 266.8L689.2 268.7L690.0 270.5L690.8 272.4L691.7 274.1L692.7 275.9L693.8 277.6L694.9 279.2L696.1 280.8L697.3 282.4L698.6 283.9L700.0 285.3L701.5 286.7L703.0 288.0L704.5 289.3L706.1 290.6L707.7 291.8L709.3 292.9L711.0 294.0L712.7 295.0L714.5 295.9L716.3 296.8L718.1 297.6L719.9 298.4L721.8 299.1L723.7 299.8L725.6 300.5L727.5 301.1L729.4 301.8L731.3 302.4L733.2 303.0L735.1 303.6L737.0 304.2L738.9 304.8L740.8 305.4L742.7 305.9L744.7 306.5L746.6 307.0L748.5 307.6L750.4 308.2L752.3 308.7L753.3 309.0" fill="none" stroke="#000000" stroke-width="3.15" stroke-linecap="round" stroke-linejoin="round"/>
<path d="M432.0 238.5L433.7 239.6L435.4 240.6L437.1 241.7L438.8 242.7L440.5 243.7L442.3 244.7L444.1 245.6L445.8 246.5L447.7 247.1L449.5 247.5L451.3 247.8L453.1 248.3L454.8 248.9L456.6 249.8L458.3 250.7L460.1 251.6L461.9 252.4L463.8 253.3L465.6 254.0L467.4 254.8L469.3 255.5L471.2 256.3L473.0 257.0L474.9 257.7L476.8 258.4L478.7 259.1L480.5 259.8L482.4 260.4L484.3 261.1L486.2 261.7L488.1 262.4L490.0 263.1L491.9 263.7L493.8 264.4L495.7 265.0L497.6 265.7L499.5 266.3L501.4 267.0L503.3 267.6L505.2 268.2L507.1 268.8L509.0 269.4L510.9 269.9L512.9 270.5L514.8 271.0L516.7 271.6L518.6 272.2L520.5 272.7L522.5 273.3L524.4 273.8L526.4 274.2L528.3 274.6L530.3 275.0L532.3 275.3L534.2 275.6L536.2 275.9L538.2 276.2L540.2 276.5L542.2 276.7L544.2 277.0L546.2 277.2L548.1 277.4L550.1 277.7L552.1 277.9L554.1 278.2L556.1 278.4L558.1 278.7L560.1 279.0L562.0 279.2L564.0 279.5L566.0 279.8L568.0 280.2L570.0 280.5L571.9 280.8L573.9 281.1L575.9 281.4L577.9 281.8L579.8 282.1L581.8 282.4L583.8 282.7L585.8 283.0L587.8 283.3L589.7 283.6L591.7 283.9L593.7 284.2L595.7 284.5L597.7 284.8L599.6 285.1L601.6 285.4L603.6 285.7L605.6 286.0L607.6 286.3L609.5 286.5L611.5 286.8L613.5 287.0L615.5 287.1L617.4 287.1L619.4 287.2L621.4 287.3L623.3 287.5L625.3 287.8L627.3 288.1L629.3 288.4L631.3 288.7L633.2 289.0L635.2 289.3L637.2 289.7L639.2 290.0L641.1 290.4L643.1 290.7L645.1 291.1L647.0 291.5L649.0 291.9L650.9 292.3L652.9 292.7L654.9 293.2L656.8 293.6L658.8 294.0L660.8 294.3L662.7 294.7L664.7 295.1L666.7 295.4L668.6 295.7L670.6 296.0L672.6 296.2L674.6 296.5L676.6 296.8L678.6 297.0L680.6 297.3L682.5 297.5L684.5 297.8L686.5 298.0L688.5 298.3L690.5 298.5L692.5 298.8L694.5 299.1L696.4 299.4L698.4 299.7L700.4 299.9L702.4 300.2L704.4 300.5L706.4 300.7L708.4 300.9L710.3 301.2L712.3 301.4L714.3 301.6L716.3 301.7L718.3 301.9L720.3 302.0L722.3 302.2L724.3 302.3L726.3 302.5L728.3 302.6L730.3 302.7L732.3 302.8L734.3 302.9L736.3 303.1L738.3 303.2L740.3 303.3L742.3 303.4L744.3 303.5L746.3 303.6L748.3 303.7L750.3 303.8L752.3 303.9L753.3 304.0" fill="none" stroke="#008000" stroke-width="3.15" stroke-linecap="round" stroke-linejoin="round"/>
<line x1="431.3" y1="3.3" x2="753.7" y2="3.3" stroke="#222" stroke-width="1.2"/>
<line x1="753.7" y1="3.3" x2="753.7" y2="334.1" stroke="#333" stroke-width="1.1"/>
<line x1="431.3" y1="2.8" x2="431.3" y2="334.1" stroke="#666" stroke-width="1.6"/>
<line x1="430.7" y1="333.5" x2="754.2" y2="333.5" stroke="#888" stroke-width="2.0"/>
<text font-family="'Liberation Sans', sans-serif" font-weight="bold" font-size="100" fill="#000" transform="matrix(0.13741 0 0 0.17746 411.900 338.913)">0.0</text>
<text font-family="'Liberation Sans', sans-serif" font-weight="bold" font-size="100" fill="#000" transform="matrix(0.13741 0 0 0.17746 411.900 294.743)">0.2</text>
<text font-family="'Liberation Sans', sans-serif" font-weight="bold" font-size="100" fill="#000" transform="matrix(0.13741 0 0 0.17746 411.900 250.573)">0.4</text>
<text font-family="'Liberation Sans', sans-serif" font-weight="bold" font-size="100" fill="#000" transform="matrix(0.13741 0 0 0.17746 411.900 206.403)">0.6</text>
<text font-family="'Liberation Sans', sans-serif" font-weight="bold" font-size="100" fill="#000" transform="matrix(0.13741 0 0 0.17746 411.900 162.233)">0.8</text>
<g transform="matrix(0.12950 0 0 0.17746 413.000 118.063)"><path d="M23.34 0.00 L23.34 -57.13 L6.84 -46.83 L6.84 -57.62 L24.07 -68.80 L37.06 -68.80 L37.06 0.00Z" fill="#000"/><text x="55.62" y="0" font-family="'Liberation Sans', sans-serif" font-weight="bold" font-size="100" fill="#000">.0</text></g>
<g transform="matrix(0.12950 0 0 0.18000 413.000 74.070)"><path d="M23.34 0.00 L23.34 -57.13 L6.84 -46.83 L6.84 -57.62 L24.07 -68.80 L37.06 -68.80 L37.06 0.00Z" fill="#000"/><text x="55.62" y="0" font-family="'Liberation Sans', sans-serif" font-weight="bold" font-size="100" fill="#000">.2</text></g>
<g transform="matrix(0.12950 0 0 0.18261 413.000 29.900)"><path d="M23.34 0.00 L23.34 -57.13 L6.84 -46.83 L6.84 -57.62 L24.07 -68.80 L37.06 -68.80 L37.06 0.00Z" fill="#000"/><text x="55.62" y="0" font-family="'Liberation Sans', sans-serif" font-weight="bold" font-size="100" fill="#000">.4</text></g>
<text font-family="'Liberation Sans', sans-serif" font-weight="bold" font-size="100" fill="#000" transform="matrix(0.13533 0 0 0.18028 420.000 347.620)">300</text>
<text font-family="'Liberation Sans', sans-serif" font-weight="bold" font-size="100" fill="#000" transform="matrix(0.13533 0 0 0.18028 473.733 347.620)">350</text>
<text font-family="'Liberation Sans', sans-serif" font-weight="bold" font-size="100" fill="#000" transform="matrix(0.13533 0 0 0.18028 527.467 347.620)">400</text>
<text font-family="'Liberation Sans', sans-serif" font-weight="bold" font-size="100" fill="#000" transform="matrix(0.13533 0 0 0.18028 581.200 347.620)">450</text>
<text font-family="'Liberation Sans', sans-serif" font-weight="bold" font-size="100" fill="#000" transform="matrix(0.13533 0 0 0.18028 634.933 347.620)">500</text>
<text font-family="'Liberation Sans', sans-serif" font-weight="bold" font-size="100" fill="#000" transform="matrix(0.13533 0 0 0.18028 688.667 347.620)">550</text>
<text font-family="'Liberation Sans', sans-serif" font-weight="bold" font-size="100" fill="#000" transform="matrix(0.13533 0 0 0.18028 742.400 347.620)">600</text>
<text font-family="'Liberation Serif', serif" font-weight="bold" font-size="100" fill="#000" transform="matrix(0.13841 0 0 0.16044 446.600 41.651)">ZnO(B.S)</text>
<text font-family="'Liberation Sans', sans-serif" font-weight="bold" font-size="100" fill="#000" transform="matrix(0.15135 0 0 0.18169 713.000 53.118)">0</text>
<text font-family="'Liberation Sans', sans-serif" font-weight="bold" font-size="100" fill="#000" transform="matrix(0.13174 0 0 0.16901 694.000 236.831)">270</text>
<line x1="725.7" y1="50.9" x2="725.7" y2="232.0" stroke="#000" stroke-width="2.3"/><polygon points="721.5,231.0 729.9,231.0 725.7,248.8" fill="#000"/>
<text font-family="'Liberation Serif', serif" font-weight="bold" font-size="100" fill="#000" transform="matrix(0.19739 0 0 0.21639 524.600 381.539)">wavelength(nm)</text>
<text font-family="'Liberation Serif', serif" font-weight="bold" font-size="100" fill="#000" transform="matrix(0 -0.24858 0.19451 0 403.718 274.700)">absorbance (arb.u)</text>
<path d="M44.6 657.0L46.1 658.4L47.6 659.7L49.0 661.1L50.5 662.4L52.0 663.8L53.5 665.1L55.0 666.4L56.5 667.8L58.0 669.1L59.5 670.4L61.0 671.7L62.6 672.9L64.2 674.2L65.7 675.4L67.3 676.7L68.8 677.9L70.4 679.2L71.9 680.5L73.5 681.7L75.1 682.9L76.7 684.1L78.4 685.2L80.1 686.2L81.9 687.2L83.6 688.0L85.5 688.7L87.4 689.0L89.3 689.1L91.2 688.7L93.1 688.1L94.8 687.2L96.5 686.1L98.1 684.9L99.6 683.6L101.0 682.2L102.3 680.7L103.6 679.2L104.8 677.6L105.9 675.9L107.0 674.3L108.1 672.6L109.1 670.8L110.1 669.1L111.0 667.3L111.9 665.5L112.7 663.7L113.6 661.9L114.4 660.1L115.2 658.2L115.9 656.4L116.6 654.5L117.4 652.6L118.1 650.7L118.8 648.9L119.5 647.0L120.1 645.1L120.8 643.2L121.5 641.3L122.2 639.5L122.8 637.6L123.5 635.7L124.1 633.8L124.7 631.9L125.4 630.0L126.0 628.1L126.7 626.2L127.4 624.3L128.2 622.5L129.0 620.7L129.9 618.9L130.8 617.1L131.8 615.3L132.8 613.6L133.8 611.9L134.8 610.1L135.9 608.4L136.9 606.7L138.0 605.0L139.1 603.4L140.2 601.7L141.4 600.1L142.5 598.4L143.7 596.8L144.9 595.2L146.1 593.6L147.4 592.1L148.7 590.6L150.0 589.1L151.4 587.6L152.8 586.2L154.3 584.8L155.7 583.4L157.2 582.1L158.7 580.7L160.1 579.4L161.6 578.0L163.0 576.6L164.4 575.2L165.9 573.8L167.3 572.4L168.8 571.0L170.2 569.6L171.7 568.3L173.2 566.9L174.7 565.6L176.2 564.3L177.8 563.1L179.4 561.8L180.9 560.6L182.5 559.3L184.1 558.1L185.6 556.8L187.2 555.6L188.7 554.3L190.3 553.0L191.8 551.8L193.4 550.5L195.0 549.3L196.6 548.1L198.2 546.9L199.9 545.9L201.7 544.9L203.5 544.1L205.3 543.2L207.1 542.5L209.0 541.7L210.9 541.0L212.7 540.3L214.6 539.7L216.6 539.3L218.5 539.1L220.5 539.1L222.5 539.3L224.4 539.7L226.2 540.4L227.9 541.3L229.6 542.4L231.1 543.7L232.5 545.1L233.9 546.6L235.2 548.1L236.4 549.7L237.6 551.3L238.7 553.0L239.8 554.6L240.8 556.4L241.8 558.1L242.8 559.8L243.7 561.6L244.7 563.4L245.6 565.1L246.5 566.9L247.3 568.8L248.2 570.6L249.0 572.4L249.8 574.2L250.6 576.1L251.4 577.9L252.2 579.8L252.9 581.6L253.7 583.5L254.4 585.3L255.2 587.2L255.9 589.0L256.6 590.9L257.3 592.8L257.9 594.7L258.6 596.6L259.3 598.5L259.9 600.4L260.5 602.3L261.2 604.2L261.8 606.1L262.4 608.0L262.9 609.9L263.5 611.8L264.1 613.8L264.6 615.7L265.1 617.6L265.6 619.6L266.1 621.5L266.6 623.4L267.1 625.4L267.6 627.3L268.1 629.3L268.6 631.2L269.2 633.1L269.7 635.1L270.2 637.0L270.8 638.9L271.4 640.8L271.9 642.8L272.5 644.7L273.1 646.6L273.6 648.5L274.2 650.4L274.8 652.3L275.4 654.2L276.0 656.2L276.7 658.1L277.3 660.0L278.0 661.8L278.6 663.7L279.3 665.6L280.0 667.5L280.7 669.4L281.4 671.3L282.1 673.1L282.8 675.0L283.5 676.9L284.3 678.7L285.1 680.6L285.9 682.4L286.7 684.2L287.5 686.0L288.4 687.8L289.3 689.6L290.2 691.4L291.2 693.2L292.2 694.9L293.2 696.6L294.3 698.3L295.5 699.9L296.7 701.5L298.0 703.0L299.4 704.5L300.8 705.9L302.3 707.2L303.9 708.5L305.4 709.7L307.1 710.9L308.7 712.0L310.3 713.2L312.0 714.3L313.6 715.5L315.3 716.6L317.0 717.6L318.7 718.7L320.4 719.6L322.2 720.6L324.0 721.5L325.8 722.3L327.6 723.1L329.5 723.9L331.4 724.6L333.2 725.4L335.1 726.0L337.0 726.7L338.9 727.3L340.8 727.9L342.8 728.4L344.7 728.9L346.7 729.3L348.6 729.7L350.6 730.1L352.6 730.4L354.5 730.8L356.5 731.1L358.5 731.4L360.5 731.6L362.5 731.9L364.4 732.2L366.4 732.5L368.4 732.7L370.4 733.0" fill="none" stroke="#000080" stroke-width="3.5" stroke-linecap="round" stroke-linejoin="round"/>
<path d="M44.6 650.0L46.1 651.3L47.6 652.7L49.1 654.0L50.6 655.3L52.1 656.7L53.6 658.0L55.1 659.3L56.6 660.6L58.2 661.9L59.7 663.1L61.3 664.4L62.8 665.6L64.4 666.9L66.0 668.1L67.6 669.3L69.2 670.5L70.8 671.7L72.4 672.9L74.0 674.1L75.6 675.3L77.2 676.5L78.8 677.7L80.4 678.9L82.0 680.1L83.7 681.1L85.5 681.9L87.3 682.5L89.2 682.7L91.1 682.5L93.0 682.0L94.8 681.1L96.5 680.1L98.1 678.9L99.6 677.6L101.0 676.2L102.3 674.7L103.6 673.2L104.8 671.6L105.9 670.0L107.1 668.3L108.1 666.6L109.2 664.9L110.2 663.2L111.1 661.4L112.1 659.7L113.0 657.9L113.9 656.1L114.9 654.3L115.8 652.5L116.6 650.7L117.5 648.9L118.4 647.1L119.2 645.3L120.1 643.5L120.9 641.7L121.6 639.8L122.4 637.9L123.0 636.1L123.7 634.2L124.3 632.3L124.9 630.4L125.5 628.5L126.2 626.6L126.8 624.7L127.5 622.8L128.2 620.9L129.0 619.1L129.9 617.3L130.8 615.5L131.7 613.7L132.7 612.0L133.7 610.2L134.7 608.5L135.7 606.8L136.8 605.1L137.9 603.4L138.9 601.7L140.0 600.0L141.1 598.3L142.2 596.7L143.3 595.0L144.5 593.4L145.6 591.7L146.8 590.1L148.0 588.5L149.3 587.0L150.6 585.5L152.1 584.1L153.6 582.8L155.1 581.5L156.6 580.2L158.0 578.8L159.4 577.3L160.8 575.9L162.1 574.4L163.5 572.9L164.8 571.5L166.2 570.0L167.6 568.5L169.0 567.1L170.4 565.7L171.8 564.3L173.3 562.9L174.7 561.6L176.2 560.2L177.7 558.9L179.2 557.6L180.7 556.3L182.2 555.0L183.8 553.7L185.3 552.4L186.8 551.1L188.4 549.8L189.9 548.5L191.5 547.3L193.1 546.1L194.7 544.9L196.3 543.7L198.0 542.6L199.6 541.5L201.3 540.4L203.0 539.4L204.8 538.4L206.5 537.4L208.3 536.5L210.2 535.7L212.0 535.1L214.0 534.6L215.9 534.4L217.9 534.3L219.9 534.4L221.8 534.6L223.8 535.1L225.6 535.7L227.4 536.6L229.0 537.7L230.5 539.0L231.9 540.4L233.2 541.9L234.5 543.4L235.7 545.0L236.9 546.6L238.0 548.3L239.2 549.9L240.3 551.6L241.3 553.3L242.4 555.0L243.4 556.7L244.4 558.5L245.4 560.2L246.3 562.0L247.3 563.8L248.2 565.5L249.1 567.3L250.1 569.1L251.0 570.8L251.9 572.6L252.8 574.4L253.6 576.2L254.3 578.1L255.0 580.0L255.7 581.9L256.3 583.8L256.9 585.7L257.6 587.6L258.2 589.5L258.8 591.4L259.4 593.3L260.1 595.2L260.7 597.1L261.4 599.0L262.0 600.9L262.6 602.8L263.3 604.7L263.9 606.6L264.5 608.5L265.1 610.4L265.6 612.3L266.2 614.2L266.7 616.2L267.2 618.1L267.7 620.0L268.2 622.0L268.7 623.9L269.2 625.9L269.7 627.8L270.2 629.7L270.7 631.7L271.2 633.6L271.8 635.5L272.3 637.5L272.8 639.4L273.4 641.3L274.0 643.2L274.6 645.2L275.2 647.1L275.8 649.0L276.4 650.9L277.0 652.8L277.6 654.7L278.2 656.6L278.8 658.5L279.5 660.4L280.1 662.3L280.7 664.2L281.4 666.1L282.0 668.0L282.7 669.9L283.3 671.8L284.0 673.7L284.6 675.6L285.3 677.4L286.1 679.3L286.8 681.2L287.6 683.0L288.4 684.8L289.3 686.6L290.2 688.4L291.1 690.2L292.1 691.9L293.1 693.7L294.1 695.4L295.2 697.1L296.4 698.7L297.6 700.3L298.8 701.9L300.1 703.4L301.5 704.8L302.9 706.2L304.4 707.6L305.9 708.9L307.4 710.2L309.0 711.4L310.6 712.6L312.2 713.8L313.8 715.0L315.5 716.1L317.2 717.2L318.9 718.2L320.6 719.2L322.4 720.2L324.2 721.1L326.0 721.9L327.8 722.8L329.6 723.6L331.5 724.4L333.3 725.2L335.2 725.9L337.1 726.6L338.9 727.2L340.9 727.8L342.8 728.4L344.7 728.9L346.7 729.3L348.6 729.7L350.6 730.1L352.6 730.5L354.5 730.8L356.5 731.1L358.5 731.4L360.5 731.6L362.5 731.9L364.4 732.2L366.4 732.5L368.4 732.7L370.4 733.0" fill="none" stroke="#008000" stroke-width="3.5" stroke-linecap="round" stroke-linejoin="round"/>
<path d="M44.6 648.0L46.1 649.3L47.6 650.7L49.1 652.0L50.6 653.3L52.1 654.6L53.6 655.9L55.1 657.3L56.6 658.6L58.2 659.9L59.7 661.2L61.2 662.4L62.8 663.7L64.3 665.0L65.9 666.3L67.4 667.5L68.9 668.8L70.5 670.1L72.0 671.4L73.6 672.6L75.1 673.9L76.7 675.2L78.2 676.5L79.6 677.9L81.1 679.2L82.6 680.6L84.1 681.8L85.8 682.8L87.6 683.4L89.4 683.5L91.2 683.2L93.0 682.5L94.7 681.5L96.3 680.4L97.8 679.1L99.3 677.7L100.6 676.2L101.9 674.7L103.1 673.1L104.3 671.5L105.4 669.8L106.5 668.1L107.5 666.4L108.5 664.7L109.5 662.9L110.4 661.2L111.3 659.4L112.2 657.6L113.1 655.8L114.0 654.0L114.9 652.2L115.7 650.4L116.6 648.6L117.4 646.7L118.2 644.9L119.0 643.1L119.8 641.3L120.6 639.4L121.3 637.6L122.1 635.7L122.8 633.8L123.5 632.0L124.2 630.1L124.9 628.2L125.5 626.3L126.2 624.4L126.8 622.5L127.5 620.6L128.2 618.8L129.0 616.9L129.7 615.0L130.5 613.2L131.4 611.4L132.3 609.6L133.2 607.8L134.2 606.1L135.2 604.4L136.2 602.7L137.3 601.0L138.4 599.3L139.5 597.6L140.6 596.0L141.8 594.3L143.0 592.7L144.1 591.1L145.3 589.5L146.6 587.9L147.8 586.4L149.1 584.8L150.4 583.3L151.6 581.7L152.9 580.1L154.1 578.6L155.3 577.0L156.6 575.4L157.8 573.8L159.0 572.2L160.3 570.7L161.5 569.1L162.7 567.5L164.0 566.0L165.3 564.4L166.6 562.9L167.9 561.4L169.2 559.9L170.5 558.4L171.8 556.9L173.2 555.4L174.6 553.9L175.9 552.5L177.3 551.0L178.7 549.6L180.1 548.1L181.5 546.7L182.9 545.3L184.3 543.8L185.7 542.4L187.1 541.0L188.6 539.6L190.0 538.2L191.4 536.8L192.8 535.4L194.2 533.9L195.5 532.5L196.9 531.0L198.4 529.6L199.9 528.3L201.4 527.1L203.0 525.9L204.7 524.9L206.5 524.0L208.3 523.3L210.3 522.8L212.2 522.4L214.2 522.1L216.2 522.0L218.2 522.0L220.2 522.1L222.1 522.4L224.1 522.8L225.9 523.5L227.7 524.4L229.3 525.4L230.9 526.7L232.3 528.0L233.7 529.5L234.9 531.0L236.1 532.7L237.2 534.3L238.3 536.0L239.4 537.7L240.4 539.4L241.5 541.1L242.6 542.7L243.7 544.4L244.8 546.1L245.8 547.8L246.9 549.5L247.8 551.3L248.8 553.1L249.6 554.9L250.5 556.7L251.3 558.5L252.1 560.3L253.0 562.1L253.8 564.0L254.6 565.8L255.4 567.6L256.2 569.5L256.9 571.3L257.7 573.2L258.4 575.1L259.0 576.9L259.6 578.9L260.2 580.8L260.8 582.7L261.4 584.6L261.9 586.5L262.5 588.5L263.0 590.4L263.6 592.3L264.2 594.2L264.8 596.1L265.4 598.0L266.0 600.0L266.5 601.9L267.1 603.8L267.7 605.7L268.3 607.6L268.9 609.5L269.4 611.5L269.9 613.4L270.5 615.3L271.0 617.2L271.5 619.2L272.0 621.1L272.5 623.1L273.0 625.0L273.4 627.0L273.9 628.9L274.3 630.9L274.7 632.8L275.1 634.8L275.5 636.7L276.0 638.7L276.5 640.6L277.0 642.6L277.5 644.5L278.0 646.4L278.5 648.4L279.0 650.3L279.6 652.2L280.1 654.2L280.6 656.1L281.2 658.0L281.8 659.9L282.3 661.9L282.9 663.8L283.5 665.7L284.2 667.6L284.8 669.5L285.4 671.4L286.1 673.3L286.7 675.2L287.4 677.1L288.1 678.9L288.8 680.8L289.6 682.6L290.4 684.5L291.2 686.3L292.0 688.1L292.9 689.9L293.8 691.7L294.8 693.5L295.8 695.2L296.8 696.9L297.9 698.6L299.0 700.2L300.2 701.8L301.5 703.4L302.8 704.9L304.2 706.3L305.7 707.6L307.2 708.9L308.8 710.2L310.4 711.4L312.0 712.6L313.6 713.7L315.3 714.9L316.9 716.1L318.5 717.2L320.2 718.3L321.8 719.4L323.5 720.5L325.3 721.5L327.0 722.5L328.8 723.4L330.6 724.2L332.5 724.9L334.4 725.6L336.3 726.3L338.2 726.9L340.1 727.4L342.0 728.0L344.0 728.5L345.9 729.0L347.8 729.5L349.8 729.9L351.7 730.4L353.7 730.8L355.6 731.2L357.6 731.6L359.6 732.0L361.5 732.4L363.5 732.7L365.5 733.1L367.4 733.5L369.4 733.8L370.4 734.0" fill="none" stroke="#800000" stroke-width="3.5" stroke-linecap="round" stroke-linejoin="round"/>
<path d="M44.6 645.0L46.2 646.3L47.7 647.5L49.3 648.8L50.8 650.0L52.4 651.3L54.0 652.5L55.5 653.8L57.1 655.0L58.7 656.3L60.2 657.5L61.8 658.8L63.4 660.0L65.0 661.2L66.6 662.5L68.1 663.7L69.7 664.9L71.3 666.1L72.9 667.3L74.5 668.5L76.1 669.7L77.7 670.9L79.3 672.1L81.0 673.3L82.6 674.4L84.3 675.4L86.1 676.2L88.0 676.6L89.9 676.7L91.8 676.3L93.6 675.7L95.4 674.8L97.0 673.7L98.6 672.5L100.1 671.1L101.4 669.7L102.7 668.2L104.0 666.6L105.2 665.0L106.3 663.4L107.4 661.7L108.5 660.0L109.5 658.3L110.5 656.5L111.5 654.8L112.4 653.0L113.3 651.2L114.3 649.5L115.2 647.7L116.2 645.9L117.1 644.2L118.0 642.4L118.9 640.6L119.8 638.8L120.6 637.0L121.5 635.1L122.2 633.3L123.0 631.5L123.7 629.6L124.4 627.7L125.1 625.8L125.8 623.9L126.4 622.0L127.1 620.2L127.8 618.3L128.6 616.4L129.4 614.6L130.2 612.8L131.0 611.0L131.9 609.2L132.9 607.4L133.8 605.6L134.8 603.9L135.8 602.1L136.8 600.4L137.8 598.7L138.8 597.0L139.8 595.2L140.8 593.5L141.8 591.7L142.8 590.0L143.7 588.2L144.7 586.5L145.8 584.8L146.9 583.1L148.1 581.5L149.3 579.9L150.6 578.4L152.0 576.9L153.3 575.5L154.8 574.1L156.2 572.7L157.7 571.3L159.2 570.0L160.6 568.6L162.1 567.2L163.5 565.9L165.0 564.5L166.4 563.1L167.8 561.6L169.2 560.2L170.6 558.8L172.0 557.3L173.4 555.9L174.9 554.5L176.3 553.1L177.7 551.7L179.2 550.4L180.7 549.0L182.2 547.7L183.8 546.4L185.3 545.2L186.9 543.9L188.4 542.7L190.0 541.4L191.6 540.2L193.1 538.9L194.6 537.6L196.2 536.3L197.7 535.0L199.2 533.6L200.7 532.4L202.3 531.1L203.9 530.0L205.6 529.0L207.4 528.2L209.3 527.6L211.2 527.2L213.2 526.9L215.2 526.8L217.2 526.7L219.2 526.8L221.2 527.0L223.1 527.4L224.9 528.1L226.7 529.0L228.4 530.1L229.9 531.3L231.4 532.6L232.8 534.1L234.0 535.6L235.2 537.3L236.2 538.9L237.2 540.7L238.2 542.4L239.1 544.2L240.0 546.0L240.8 547.8L241.7 549.6L242.6 551.4L243.5 553.2L244.4 555.0L245.3 556.8L246.2 558.6L247.2 560.4L248.1 562.1L249.0 563.9L249.9 565.7L250.9 567.4L251.8 569.2L252.8 571.0L253.7 572.8L254.5 574.6L255.4 576.4L256.2 578.2L256.9 580.1L257.7 581.9L258.4 583.8L259.2 585.7L259.9 587.5L260.6 589.4L261.2 591.3L261.9 593.2L262.5 595.1L263.1 597.0L263.7 598.9L264.3 600.8L264.9 602.8L265.5 604.7L266.0 606.6L266.6 608.5L267.1 610.5L267.7 612.4L268.2 614.3L268.7 616.3L269.2 618.2L269.7 620.1L270.2 622.1L270.7 624.0L271.2 625.9L271.8 627.9L272.3 629.8L272.8 631.8L273.3 633.7L273.8 635.6L274.3 637.6L274.9 639.5L275.4 641.4L275.9 643.4L276.5 645.3L277.0 647.2L277.6 649.1L278.1 651.1L278.7 653.0L279.2 654.9L279.8 656.8L280.4 658.8L281.0 660.7L281.6 662.6L282.2 664.5L282.8 666.4L283.4 668.3L284.0 670.2L284.7 672.1L285.3 674.0L286.0 675.9L286.7 677.8L287.4 679.6L288.1 681.5L288.9 683.4L289.7 685.2L290.5 687.0L291.4 688.8L292.3 690.6L293.2 692.4L294.2 694.2L295.2 695.9L296.2 697.6L297.3 699.3L298.5 700.9L299.7 702.5L301.0 704.0L302.4 705.5L303.8 706.8L305.3 708.2L306.8 709.5L308.4 710.7L310.0 711.9L311.6 713.0L313.3 714.2L314.9 715.3L316.6 716.4L318.3 717.5L320.0 718.6L321.7 719.6L323.4 720.6L325.2 721.6L327.0 722.5L328.8 723.4L330.6 724.2L332.5 724.9L334.3 725.6L336.2 726.3L338.1 726.9L340.1 727.4L342.0 728.0L343.9 728.5L345.9 729.0L347.8 729.5L349.8 729.9L351.7 730.4L353.7 730.8L355.6 731.2L357.6 731.6L359.6 732.0L361.5 732.4L363.5 732.7L365.5 733.1L367.4 733.5L369.4 733.8L370.4 734.0" fill="none" stroke="#ee2a3a" stroke-width="3.5" stroke-linecap="round" stroke-linejoin="round"/>
<path d="M44.6 642.0L46.0 643.4L47.5 644.8L48.9 646.1L50.4 647.5L51.9 648.9L53.3 650.3L54.8 651.7L56.2 653.0L57.7 654.4L59.1 655.8L60.6 657.1L62.0 658.5L63.5 659.9L64.9 661.3L66.4 662.6L67.9 664.0L69.3 665.4L70.8 666.8L72.3 668.1L73.7 669.5L75.2 670.8L76.7 672.2L78.1 673.5L79.6 674.9L81.1 676.3L82.6 677.6L84.1 678.8L85.8 679.8L87.6 680.5L89.4 680.7L91.3 680.6L93.1 680.0L94.9 679.2L96.5 678.1L98.1 676.8L99.5 675.5L100.9 674.0L102.1 672.5L103.3 670.9L104.5 669.2L105.6 667.6L106.6 665.8L107.6 664.1L108.6 662.4L109.5 660.6L110.4 658.8L111.2 657.0L112.1 655.2L112.9 653.3L113.8 651.5L114.6 649.7L115.4 647.9L116.2 646.0L117.0 644.2L117.7 642.3L118.5 640.5L119.3 638.6L120.0 636.8L120.8 634.9L121.6 633.1L122.3 631.2L123.1 629.4L123.8 627.5L124.5 625.7L125.3 623.8L126.0 621.9L126.7 620.1L127.5 618.2L128.2 616.4L129.0 614.5L129.7 612.7L130.5 610.8L131.3 609.0L132.1 607.1L132.8 605.3L133.6 603.4L134.4 601.6L135.3 599.8L136.1 598.0L137.0 596.2L137.9 594.4L138.8 592.6L139.8 590.9L140.8 589.1L141.8 587.4L142.9 585.7L143.9 584.0L145.0 582.3L146.1 580.6L147.1 578.9L148.2 577.2L149.3 575.5L150.3 573.8L151.4 572.1L152.4 570.4L153.5 568.7L154.6 567.1L155.6 565.4L156.7 563.7L157.8 562.0L158.9 560.3L160.0 558.6L161.1 557.0L162.2 555.3L163.3 553.6L164.4 552.0L165.5 550.3L166.6 548.6L167.8 547.0L169.0 545.4L170.1 543.8L171.3 542.2L172.6 540.6L173.8 539.0L175.1 537.4L176.3 535.9L177.6 534.4L178.9 532.8L180.2 531.3L181.6 529.8L182.9 528.4L184.3 526.9L185.6 525.4L187.0 524.0L188.5 522.6L189.9 521.2L191.3 519.8L192.7 518.4L194.2 517.0L195.6 515.6L197.0 514.1L198.3 512.7L199.7 511.2L201.0 509.7L202.4 508.3L203.9 506.9L205.4 505.7L207.1 504.8L208.9 504.1L210.9 503.6L212.8 503.3L214.8 503.2L216.8 503.1L218.8 503.1L220.8 503.3L222.7 503.6L224.6 504.1L226.5 504.8L228.2 505.8L229.8 506.9L231.3 508.2L232.8 509.6L234.1 511.0L235.5 512.5L236.8 514.1L238.0 515.6L239.2 517.2L240.3 518.9L241.3 520.6L242.3 522.3L243.3 524.1L244.1 525.9L245.0 527.7L245.9 529.5L246.7 531.3L247.6 533.1L248.4 535.0L249.2 536.8L250.0 538.6L250.8 540.5L251.5 542.3L252.3 544.2L253.0 546.0L253.7 547.9L254.4 549.8L255.0 551.7L255.7 553.6L256.3 555.5L256.9 557.4L257.5 559.3L258.1 561.2L258.7 563.1L259.4 565.0L260.0 566.9L260.7 568.8L261.3 570.7L261.9 572.6L262.5 574.5L263.1 576.4L263.7 578.3L264.2 580.3L264.8 582.2L265.3 584.1L265.9 586.1L266.4 588.0L266.9 589.9L267.5 591.8L268.0 593.8L268.5 595.7L269.1 597.6L269.6 599.6L270.1 601.5L270.7 603.4L271.2 605.3L271.7 607.3L272.3 609.2L272.8 611.1L273.3 613.1L273.9 615.0L274.4 616.9L274.9 618.9L275.4 620.8L275.9 622.7L276.4 624.7L276.9 626.6L277.4 628.6L277.9 630.5L278.3 632.4L278.8 634.4L279.3 636.3L279.8 638.3L280.3 640.2L280.7 642.2L281.2 644.1L281.7 646.0L282.2 648.0L282.7 649.9L283.2 651.8L283.7 653.8L284.3 655.7L284.8 657.6L285.3 659.6L285.9 661.5L286.4 663.4L287.0 665.4L287.5 667.3L288.1 669.2L288.7 671.1L289.3 673.0L289.8 674.9L290.5 676.8L291.1 678.7L291.8 680.6L292.5 682.5L293.2 684.4L293.9 686.2L294.7 688.1L295.5 689.9L296.3 691.7L297.2 693.6L298.0 695.3L299.0 697.1L300.0 698.8L301.1 700.5L302.2 702.1L303.5 703.7L304.8 705.2L306.2 706.6L307.6 708.0L309.1 709.4L310.6 710.6L312.2 711.9L313.8 713.1L315.4 714.3L317.1 715.4L318.7 716.5L320.4 717.6L322.1 718.7L323.8 719.7L325.6 720.7L327.3 721.6L329.1 722.5L330.9 723.4L332.7 724.3L334.6 725.0L336.4 725.8L338.3 726.5L340.2 727.1L342.1 727.7L344.0 728.3L345.9 728.9L347.9 729.4L349.8 729.9L351.7 730.4L353.7 730.8L355.6 731.3L357.6 731.7L359.6 732.0L361.5 732.4L363.5 732.8L365.5 733.1L367.4 733.5L369.4 733.8L370.4 734.0" fill="none" stroke="#808000" stroke-width="3.5" stroke-linecap="round" stroke-linejoin="round"/>
<path d="M44.6 650.0L46.0 651.4L47.4 652.9L48.8 654.3L50.2 655.7L51.6 657.2L53.0 658.6L54.4 660.0L55.8 661.5L57.2 662.9L58.6 664.3L60.0 665.7L61.5 667.1L62.9 668.5L64.3 669.9L65.7 671.3L67.2 672.7L68.6 674.1L70.0 675.5L71.4 676.9L72.9 678.4L74.3 679.8L75.7 681.2L77.0 682.7L78.4 684.2L79.6 685.7L80.9 687.3L82.2 688.8L83.5 690.3L84.9 691.7L86.4 692.7L88.1 693.4L89.9 693.4L91.6 692.9L93.2 692.0L94.7 690.7L96.1 689.3L97.4 687.8L98.6 686.2L99.7 684.6L100.8 682.9L101.8 681.1L102.8 679.4L103.8 677.6L104.7 675.9L105.6 674.1L106.5 672.3L107.4 670.5L108.3 668.7L109.1 666.9L109.9 665.1L110.7 663.2L111.5 661.4L112.3 659.6L113.1 657.7L113.9 655.9L114.8 654.1L115.6 652.2L116.4 650.4L117.2 648.6L118.0 646.7L118.8 644.9L119.6 643.1L120.3 641.2L121.1 639.3L121.8 637.5L122.6 635.6L123.3 633.8L124.0 631.9L124.8 630.0L125.5 628.2L126.2 626.3L126.8 624.4L127.5 622.5L128.2 620.6L128.8 618.7L129.5 616.8L130.1 614.9L130.7 613.0L131.3 611.1L132.0 609.2L132.6 607.3L133.2 605.4L133.8 603.5L134.5 601.6L135.1 599.7L135.7 597.8L136.4 595.9L137.0 594.0L137.6 592.1L138.2 590.2L138.9 588.3L139.5 586.4L140.2 584.5L140.8 582.6L141.4 580.7L142.0 578.8L142.7 576.9L143.3 575.0L143.9 573.1L144.5 571.2L145.2 569.3L145.8 567.4L146.4 565.5L147.1 563.6L147.8 561.8L148.5 559.9L149.2 558.0L149.9 556.1L150.7 554.3L151.4 552.4L152.2 550.6L153.0 548.8L153.8 546.9L154.6 545.1L155.5 543.3L156.3 541.5L157.2 539.6L158.0 537.8L158.9 536.0L159.8 534.2L160.7 532.5L161.6 530.7L162.6 528.9L163.5 527.2L164.5 525.4L165.5 523.7L166.5 521.9L167.5 520.2L168.5 518.5L169.5 516.8L170.6 515.1L171.7 513.4L172.8 511.7L173.9 510.1L175.1 508.4L176.3 506.8L177.5 505.2L178.7 503.6L179.9 502.1L181.2 500.5L182.5 499.0L183.8 497.5L185.2 496.0L186.6 494.6L188.1 493.3L189.5 491.9L190.9 490.4L192.3 489.0L193.6 487.5L195.0 486.0L196.3 484.6L197.7 483.1L199.1 481.7L200.6 480.3L202.0 479.0L203.6 477.6L205.1 476.4L206.8 475.3L208.5 474.3L210.3 473.4L212.1 472.6L214.0 471.9L215.9 471.4L217.8 471.1L219.8 470.8L221.8 470.7L223.8 470.8L225.7 471.1L227.6 471.6L229.4 472.4L231.1 473.4L232.7 474.6L234.2 475.9L235.6 477.3L237.0 478.7L238.4 480.2L239.7 481.7L240.9 483.3L242.1 484.9L243.3 486.5L244.4 488.2L245.5 489.9L246.5 491.6L247.4 493.3L248.4 495.1L249.2 496.9L250.1 498.7L250.9 500.5L251.7 502.4L252.5 504.2L253.3 506.1L254.0 507.9L254.8 509.8L255.5 511.7L256.2 513.5L256.9 515.4L257.6 517.3L258.3 519.2L259.0 521.0L259.7 522.9L260.3 524.8L261.0 526.7L261.7 528.6L262.3 530.5L263.0 532.4L263.6 534.3L264.2 536.2L264.9 538.1L265.5 540.0L266.1 541.9L266.7 543.8L267.3 545.7L267.8 547.6L268.4 549.6L268.9 551.5L269.4 553.4L269.8 555.4L270.3 557.3L270.7 559.3L271.2 561.2L271.7 563.2L272.1 565.1L272.6 567.1L273.0 569.0L273.5 571.0L273.9 572.9L274.4 574.9L274.8 576.8L275.2 578.8L275.6 580.7L276.1 582.7L276.5 584.7L276.9 586.6L277.3 588.6L277.7 590.5L278.1 592.5L278.5 594.5L278.9 596.4L279.2 598.4L279.6 600.4L280.0 602.3L280.4 604.3L280.8 606.3L281.1 608.2L281.6 610.2L282.0 612.1L282.4 614.1L282.9 616.0L283.3 618.0L283.8 619.9L284.3 621.9L284.7 623.8L285.2 625.8L285.6 627.7L286.1 629.7L286.6 631.6L287.0 633.6L287.5 635.5L287.9 637.5L288.4 639.4L288.8 641.4L289.2 643.3L289.7 645.3L290.1 647.2L290.5 649.2L291.0 651.2L291.4 653.1L291.9 655.1L292.3 657.0L292.8 659.0L293.2 660.9L293.7 662.9L294.2 664.8L294.7 666.7L295.1 668.7L295.6 670.6L296.1 672.6L296.6 674.5L297.2 676.4L297.7 678.4L298.3 680.3L298.9 682.2L299.6 684.1L300.3 685.9L301.0 687.8L301.7 689.7L302.5 691.5L303.4 693.3L304.2 695.1L305.1 696.9L306.1 698.7L307.1 700.4L308.2 702.1L309.3 703.7L310.5 705.3L311.7 706.9L313.1 708.4L314.4 709.8L315.9 711.2L317.4 712.5L318.9 713.8L320.5 715.1L322.1 716.3L323.7 717.4L325.4 718.5L327.1 719.5L328.8 720.6L330.6 721.6L332.3 722.5L334.1 723.5L335.9 724.4L337.7 725.3L339.5 726.1L341.3 726.9L343.2 727.7L345.0 728.4L346.9 729.0L348.8 729.6L350.8 730.1L352.7 730.6L354.7 731.1L356.6 731.5L358.6 731.9L360.5 732.3L362.5 732.6L364.5 733.0L366.5 733.3L368.4 733.7L370.4 734.0" fill="none" stroke="#ff0000" stroke-width="3.5" stroke-linecap="round" stroke-linejoin="round"/>
<path d="M44.6 636.0L46.0 637.4L47.4 638.9L48.8 640.3L50.2 641.8L51.5 643.2L52.9 644.6L54.3 646.1L55.8 647.5L57.2 648.9L58.6 650.3L60.0 651.7L61.5 653.1L62.9 654.4L64.4 655.8L65.8 657.2L67.3 658.6L68.8 659.9L70.2 661.3L71.7 662.6L73.2 664.0L74.7 665.3L76.1 666.7L77.6 668.0L79.1 669.4L80.5 670.8L82.0 672.1L83.5 673.4L85.2 674.5L86.9 675.3L88.7 675.7L90.6 675.7L92.5 675.3L94.3 674.5L95.9 673.5L97.5 672.3L99.0 671.0L100.4 669.6L101.7 668.0L102.9 666.5L104.1 664.8L105.2 663.2L106.2 661.5L107.3 659.8L108.2 658.0L109.2 656.3L110.1 654.5L110.9 652.7L111.8 650.9L112.6 649.0L113.4 647.2L114.2 645.4L115.0 643.5L115.8 641.7L116.5 639.8L117.3 638.0L118.0 636.1L118.7 634.2L119.4 632.4L120.1 630.5L120.8 628.6L121.4 626.7L122.1 624.8L122.7 622.9L123.3 621.0L123.9 619.1L124.5 617.2L125.2 615.3L125.8 613.4L126.5 611.5L127.2 609.7L127.9 607.8L128.7 605.9L129.4 604.1L130.2 602.3L131.0 600.4L131.9 598.6L132.7 596.8L133.6 595.0L134.4 593.2L135.3 591.4L136.2 589.6L137.2 587.8L138.1 586.1L139.0 584.3L139.8 582.5L140.7 580.6L141.4 578.8L142.2 576.9L142.9 575.1L143.6 573.2L144.2 571.3L144.9 569.4L145.6 567.5L146.2 565.7L146.9 563.8L147.6 561.9L148.3 560.0L149.1 558.2L149.8 556.3L150.6 554.5L151.3 552.6L152.1 550.8L152.9 548.9L153.7 547.1L154.5 545.3L155.3 543.4L156.1 541.6L157.0 539.8L157.8 538.0L158.7 536.2L159.6 534.4L160.5 532.6L161.4 530.8L162.3 529.0L163.2 527.3L164.2 525.5L165.2 523.8L166.1 522.0L167.1 520.3L168.1 518.6L169.2 516.9L170.3 515.2L171.4 513.5L172.5 511.9L173.7 510.2L174.9 508.7L176.2 507.1L177.5 505.6L178.8 504.1L180.1 502.6L181.5 501.1L182.9 499.7L184.3 498.3L185.8 497.0L187.3 495.7L188.8 494.4L190.3 493.0L191.7 491.6L193.1 490.1L194.4 488.7L195.8 487.2L197.2 485.7L198.6 484.3L200.0 483.0L201.5 481.7L203.1 480.4L204.7 479.3L206.4 478.2L208.1 477.2L209.9 476.4L211.8 475.7L213.7 475.1L215.7 474.8L217.6 474.5L219.6 474.3L221.6 474.3L223.6 474.3L225.6 474.5L227.5 474.9L229.4 475.5L231.1 476.4L232.8 477.5L234.3 478.7L235.8 480.0L237.2 481.5L238.6 482.9L239.8 484.4L241.1 486.0L242.3 487.6L243.4 489.3L244.5 490.9L245.5 492.6L246.5 494.4L247.5 496.1L248.4 497.9L249.3 499.7L250.1 501.5L251.0 503.3L251.8 505.2L252.6 507.0L253.3 508.9L254.1 510.7L254.8 512.6L255.5 514.4L256.2 516.3L256.9 518.2L257.6 520.1L258.2 522.0L258.9 523.9L259.5 525.8L260.1 527.7L260.7 529.6L261.3 531.5L261.9 533.4L262.5 535.3L263.1 537.2L263.7 539.1L264.3 541.0L264.9 542.9L265.5 544.9L266.1 546.8L266.6 548.7L267.1 550.6L267.6 552.6L268.1 554.5L268.6 556.5L269.0 558.4L269.5 560.3L270.0 562.3L270.5 564.2L271.0 566.2L271.5 568.1L272.0 570.0L272.5 572.0L273.0 573.9L273.5 575.8L273.9 577.8L274.4 579.7L274.8 581.7L275.2 583.7L275.6 585.6L276.1 587.6L276.5 589.5L276.9 591.5L277.3 593.4L277.7 595.4L278.1 597.4L278.5 599.3L278.9 601.3L279.3 603.2L279.7 605.2L280.1 607.2L280.5 609.1L281.0 611.1L281.4 613.0L281.9 615.0L282.4 616.9L282.9 618.8L283.4 620.8L283.9 622.7L284.4 624.6L284.9 626.6L285.3 628.5L285.8 630.5L286.3 632.4L286.7 634.4L287.2 636.3L287.6 638.3L288.0 640.2L288.5 642.2L288.9 644.1L289.4 646.1L289.8 648.0L290.2 650.0L290.7 651.9L291.1 653.9L291.5 655.9L292.0 657.8L292.5 659.7L292.9 661.7L293.4 663.6L293.9 665.6L294.4 667.5L294.9 669.5L295.3 671.4L295.9 673.3L296.4 675.3L296.9 677.2L297.5 679.1L298.1 681.0L298.7 682.9L299.3 684.8L300.0 686.7L300.7 688.6L301.4 690.4L302.2 692.3L303.0 694.1L303.8 695.9L304.7 697.7L305.6 699.5L306.6 701.2L307.7 702.9L308.9 704.5L310.1 706.1L311.4 707.6L312.7 709.1L314.1 710.5L315.6 711.9L317.1 713.2L318.7 714.4L320.3 715.7L321.9 716.8L323.5 717.9L325.2 719.0L326.9 720.1L328.6 721.1L330.4 722.1L332.2 723.0L333.9 723.9L335.7 724.8L337.6 725.6L339.4 726.4L341.2 727.1L343.1 727.8L345.0 728.5L346.9 729.1L348.8 729.6L350.8 730.1L352.7 730.6L354.7 731.1L356.6 731.5L358.6 731.9L360.6 732.2L362.5 732.6L364.5 733.0L366.5 733.3L368.4 733.6L370.4 734.0" fill="none" stroke="#0000ff" stroke-width="3.5" stroke-linecap="round" stroke-linejoin="round"/>
<path d="M44.6 640.0L46.0 641.4L47.4 642.9L48.7 644.3L50.1 645.8L51.5 647.2L52.9 648.7L54.3 650.1L55.7 651.5L57.2 652.9L58.6 654.3L60.1 655.6L61.6 657.0L63.1 658.3L64.5 659.6L66.0 661.0L67.6 662.3L69.1 663.6L70.6 664.9L72.1 666.2L73.6 667.5L75.1 668.8L76.6 670.2L78.1 671.5L79.6 672.9L81.0 674.2L82.5 675.5L84.1 676.7L85.8 677.8L87.5 678.4L89.4 678.7L91.3 678.6L93.1 678.1L94.9 677.2L96.5 676.1L98.1 674.9L99.5 673.5L100.9 672.1L102.1 670.5L103.3 668.9L104.5 667.3L105.5 665.6L106.6 663.9L107.5 662.1L108.4 660.4L109.3 658.6L110.2 656.8L111.0 654.9L111.8 653.1L112.6 651.3L113.4 649.4L114.2 647.6L114.9 645.7L115.7 643.9L116.4 642.0L117.2 640.2L117.9 638.3L118.6 636.4L119.3 634.6L120.0 632.7L120.7 630.8L121.4 628.9L122.1 627.0L122.8 625.2L123.4 623.3L124.1 621.4L124.8 619.5L125.4 617.6L126.1 615.7L126.8 613.9L127.5 612.0L128.2 610.1L129.0 608.3L129.7 606.4L130.4 604.5L131.2 602.7L132.0 600.8L132.7 599.0L133.5 597.2L134.3 595.3L135.2 593.5L136.0 591.7L136.8 589.9L137.7 588.1L138.5 586.3L139.4 584.4L140.2 582.6L140.9 580.8L141.7 578.9L142.4 577.0L143.1 575.1L143.7 573.3L144.4 571.4L145.0 569.5L145.7 567.6L146.3 565.7L147.0 563.8L147.7 561.9L148.4 560.0L149.1 558.2L149.9 556.3L150.7 554.5L151.4 552.6L152.2 550.8L153.1 549.0L153.9 547.2L154.7 545.3L155.6 543.5L156.4 541.7L157.3 539.9L158.2 538.1L159.1 536.3L160.0 534.6L160.9 532.8L161.9 531.0L162.8 529.3L163.8 527.5L164.8 525.8L165.8 524.1L166.8 522.3L167.9 520.6L169.0 519.0L170.1 517.3L171.3 515.7L172.5 514.1L173.8 512.6L175.2 511.2L176.6 509.8L178.1 508.4L179.5 507.1L181.0 505.7L182.5 504.4L184.1 503.1L185.6 501.8L187.1 500.5L188.6 499.2L190.1 497.8L191.5 496.4L192.9 495.0L194.3 493.6L195.7 492.1L197.1 490.7L198.5 489.3L199.9 487.8L201.3 486.4L202.8 485.1L204.3 483.8L205.9 482.6L207.5 481.5L209.3 480.6L211.2 479.9L213.0 479.2L215.0 478.7L216.9 478.3L218.9 478.1L220.9 477.9L222.9 478.0L224.8 478.2L226.8 478.5L228.7 479.0L230.6 479.6L232.4 480.4L234.2 481.3L235.8 482.4L237.4 483.6L238.9 484.9L240.3 486.3L241.7 487.8L243.0 489.3L244.2 490.9L245.4 492.5L246.5 494.1L247.6 495.8L248.6 497.6L249.6 499.3L250.5 501.1L251.4 502.9L252.2 504.7L253.0 506.5L253.8 508.4L254.6 510.2L255.3 512.1L255.9 514.0L256.5 515.9L257.1 517.8L257.5 519.7L258.0 521.7L258.4 523.7L258.8 525.6L259.2 527.6L259.5 529.5L259.9 531.5L260.3 533.5L260.8 535.4L261.2 537.4L261.6 539.3L262.1 541.3L262.5 543.2L262.9 545.2L263.4 547.1L263.8 549.1L264.2 551.0L264.7 553.0L265.1 554.9L265.6 556.9L266.1 558.8L266.6 560.8L267.1 562.7L267.7 564.6L268.3 566.5L268.9 568.4L269.5 570.3L270.1 572.3L270.6 574.2L271.2 576.1L271.7 578.0L272.2 580.0L272.6 581.9L273.1 583.9L273.6 585.8L274.0 587.8L274.5 589.7L274.9 591.7L275.4 593.6L275.8 595.6L276.3 597.5L276.7 599.5L277.2 601.4L277.6 603.4L278.0 605.3L278.5 607.3L278.9 609.2L279.4 611.2L279.8 613.1L280.2 615.1L280.7 617.0L281.1 619.0L281.6 620.9L282.0 622.9L282.5 624.8L282.9 626.8L283.4 628.7L283.8 630.7L284.3 632.6L284.7 634.6L285.2 636.5L285.6 638.5L286.1 640.4L286.5 642.4L286.9 644.3L287.4 646.3L287.8 648.2L288.2 650.2L288.6 652.2L289.1 654.1L289.5 656.1L290.0 658.0L290.5 659.9L291.0 661.9L291.5 663.8L292.1 665.7L292.6 667.7L293.2 669.6L293.8 671.5L294.4 673.4L295.0 675.3L295.6 677.2L296.3 679.1L296.9 681.0L297.6 682.9L298.3 684.7L299.0 686.6L299.7 688.5L300.4 690.4L301.2 692.2L302.0 694.0L302.8 695.9L303.7 697.7L304.6 699.4L305.6 701.2L306.7 702.8L307.8 704.5L309.0 706.1L310.3 707.6L311.7 709.1L313.1 710.5L314.6 711.8L316.1 713.1L317.6 714.4L319.2 715.6L320.8 716.8L322.5 717.9L324.1 719.0L325.8 720.1L327.6 721.1L329.3 722.0L331.1 723.0L332.9 723.9L334.7 724.7L336.5 725.5L338.4 726.3L340.2 727.0L342.1 727.6L344.0 728.2L345.9 728.8L347.9 729.4L349.8 729.9L351.7 730.4L353.7 730.8L355.6 731.3L357.6 731.7L359.6 732.0L361.5 732.4L363.5 732.8L365.5 733.1L367.4 733.5L369.4 733.8L370.4 734.0" fill="none" stroke="#008080" stroke-width="3.5" stroke-linecap="round" stroke-linejoin="round"/>
<path d="M44.6 638.0L46.0 639.4L47.4 640.9L48.7 642.3L50.1 643.8L51.5 645.2L52.9 646.7L54.3 648.1L55.7 649.5L57.2 650.9L58.6 652.3L60.1 653.6L61.6 655.0L63.0 656.3L64.5 657.6L66.0 659.0L67.6 660.3L69.1 661.6L70.6 662.9L72.1 664.2L73.6 665.5L75.1 666.8L76.6 668.2L78.1 669.5L79.6 670.8L81.0 672.2L82.5 673.5L84.1 674.7L85.7 675.7L87.5 676.4L89.4 676.7L91.3 676.6L93.1 676.1L94.8 675.2L96.5 674.1L98.0 672.9L99.5 671.5L100.8 670.1L102.1 668.5L103.3 666.9L104.4 665.3L105.5 663.6L106.6 661.9L107.6 660.2L108.5 658.4L109.5 656.6L110.3 654.9L111.2 653.0L112.1 651.2L112.9 649.4L113.7 647.6L114.5 645.8L115.3 643.9L116.1 642.1L116.9 640.2L117.6 638.4L118.4 636.5L119.1 634.7L119.9 632.8L120.6 631.0L121.3 629.1L122.1 627.2L122.8 625.4L123.5 623.5L124.2 621.6L124.9 619.8L125.7 617.9L126.4 616.0L127.1 614.2L127.9 612.3L128.6 610.5L129.4 608.6L130.2 606.8L130.9 604.9L131.7 603.1L132.6 601.3L133.4 599.5L134.2 597.6L135.1 595.9L136.1 594.1L137.0 592.3L138.0 590.6L139.0 588.8L140.0 587.1L141.0 585.4L142.0 583.6L142.9 581.9L143.8 580.1L144.7 578.3L145.5 576.5L146.3 574.6L147.1 572.8L147.9 571.0L148.7 569.1L149.5 567.3L150.3 565.5L151.1 563.6L151.9 561.8L152.8 560.0L153.7 558.2L154.5 556.4L155.4 554.6L156.3 552.8L157.2 551.0L158.2 549.3L159.1 547.5L160.0 545.7L161.0 544.0L162.0 542.2L163.0 540.5L164.0 538.8L165.0 537.1L166.1 535.4L167.2 533.7L168.3 532.0L169.4 530.4L170.6 528.8L171.8 527.1L172.9 525.5L174.1 523.9L175.3 522.3L176.6 520.7L177.8 519.1L179.0 517.6L180.2 516.0L181.5 514.4L182.8 512.9L184.0 511.3L185.3 509.8L186.6 508.3L187.9 506.8L189.3 505.3L190.6 503.8L192.0 502.4L193.5 501.0L195.0 499.7L196.5 498.4L198.0 497.1L199.5 495.8L201.0 494.5L202.6 493.2L204.2 492.0L205.8 490.9L207.5 489.9L209.3 489.1L211.2 488.4L213.1 487.8L215.1 487.4L217.0 487.2L219.0 487.0L221.0 487.1L222.9 487.4L224.8 487.9L226.7 488.6L228.5 489.5L230.2 490.5L231.8 491.6L233.4 492.8L234.8 494.2L236.2 495.6L237.6 497.1L238.8 498.7L240.0 500.3L241.1 501.9L242.2 503.6L243.3 505.3L244.3 507.0L245.2 508.8L246.1 510.6L247.0 512.4L247.9 514.2L248.7 516.0L249.5 517.8L250.3 519.7L251.0 521.5L251.7 523.4L252.3 525.3L252.9 527.2L253.5 529.1L254.1 531.0L254.6 533.0L255.1 534.9L255.7 536.8L256.2 538.8L256.7 540.7L257.3 542.6L257.8 544.5L258.4 546.4L259.0 548.4L259.6 550.3L260.2 552.2L260.8 554.1L261.4 556.0L262.0 557.9L262.6 559.8L263.2 561.7L263.9 563.6L264.5 565.5L265.1 567.4L265.7 569.3L266.3 571.2L266.8 573.2L267.4 575.1L268.0 577.0L268.5 578.9L269.0 580.9L269.6 582.8L270.1 584.7L270.6 586.7L271.1 588.6L271.6 590.5L272.1 592.5L272.6 594.4L273.1 596.3L273.6 598.3L274.0 600.2L274.5 602.2L275.0 604.1L275.5 606.1L275.9 608.0L276.4 609.9L276.9 611.9L277.3 613.8L277.8 615.8L278.3 617.7L278.7 619.7L279.2 621.6L279.7 623.6L280.1 625.5L280.6 627.5L281.0 629.4L281.5 631.4L281.9 633.3L282.4 635.3L282.8 637.2L283.3 639.2L283.8 641.1L284.2 643.0L284.7 645.0L285.2 646.9L285.6 648.9L286.1 650.8L286.6 652.8L287.1 654.7L287.6 656.6L288.1 658.6L288.6 660.5L289.1 662.4L289.7 664.4L290.2 666.3L290.8 668.2L291.4 670.1L292.0 672.0L292.6 673.9L293.2 675.8L293.8 677.7L294.5 679.6L295.1 681.5L295.8 683.4L296.5 685.3L297.2 687.2L297.9 689.0L298.6 690.9L299.4 692.7L300.2 694.6L301.0 696.4L301.9 698.2L302.9 699.9L303.9 701.6L305.0 703.3L306.2 704.9L307.5 706.4L308.9 707.8L310.3 709.2L311.8 710.6L313.3 711.9L314.9 713.1L316.5 714.3L318.1 715.5L319.8 716.6L321.5 717.7L323.2 718.7L324.9 719.7L326.6 720.7L328.4 721.7L330.2 722.6L332.0 723.5L333.8 724.3L335.6 725.1L337.5 725.9L339.3 726.6L341.2 727.3L343.1 727.9L345.0 728.5L346.9 729.1L348.8 729.6L350.8 730.2L352.7 730.6L354.7 731.1L356.6 731.5L358.6 731.9L360.6 732.2L362.5 732.6L364.5 732.9L366.5 733.3L368.4 733.6L370.4 734.0" fill="none" stroke="#ff00ff" stroke-width="3.5" stroke-linecap="round" stroke-linejoin="round"/>
<path d="M44.6 631.1L46.1 632.4L47.7 633.7L49.2 635.0L50.7 636.2L52.3 637.5L53.8 638.7L55.4 640.0L57.0 641.1L58.7 642.3L60.3 643.4L62.0 644.5L63.7 645.6L65.4 646.7L67.1 647.7L68.8 648.7L70.5 649.7L72.3 650.7L74.0 651.7L75.8 652.6L77.6 653.5L79.4 654.4L81.2 655.2L83.0 656.0L84.9 656.6L86.9 657.1L88.8 657.3L90.8 657.5L92.8 657.4L94.8 657.2L96.7 656.9L98.7 656.5L100.6 655.9L102.4 655.2L104.2 654.3L105.8 653.2L107.3 651.9L108.7 650.5L109.9 648.9L111.1 647.3L112.1 645.6L113.2 643.9L114.2 642.2L115.1 640.4L115.9 638.6L116.8 636.8L117.6 635.0L118.3 633.1L119.1 631.3L119.8 629.4L120.5 627.5L121.1 625.6L121.8 623.7L122.4 621.8L123.0 619.9L123.6 618.0L124.2 616.1L124.8 614.2L125.3 612.3L125.9 610.3L126.5 608.4L127.0 606.5L127.6 604.6L128.2 602.7L128.8 600.8L129.5 598.9L130.1 597.0L130.7 595.1L131.3 593.2L131.9 591.3L132.5 589.4L133.2 587.5L133.8 585.6L134.4 583.7L135.0 581.8L135.6 579.8L136.2 577.9L136.7 576.0L137.3 574.1L137.9 572.2L138.5 570.3L139.0 568.4L139.6 566.4L140.2 564.5L140.8 562.6L141.4 560.7L142.0 558.8L142.6 556.9L143.2 555.0L143.9 553.1L144.5 551.2L145.2 549.3L145.9 547.4L146.6 545.6L147.3 543.7L148.0 541.8L148.7 540.0L149.5 538.1L150.2 536.2L151.0 534.4L151.7 532.5L152.5 530.7L153.3 528.9L154.1 527.0L154.9 525.2L155.7 523.4L156.5 521.6L157.4 519.7L158.2 517.9L159.1 516.1L160.0 514.3L160.9 512.6L161.8 510.8L162.7 509.0L163.7 507.2L164.7 505.5L165.7 503.8L166.7 502.0L167.7 500.3L168.7 498.6L169.7 496.9L170.8 495.2L171.8 493.5L172.8 491.7L173.9 490.0L174.9 488.3L176.0 486.6L177.1 484.9L178.2 483.3L179.3 481.6L180.5 480.0L181.7 478.4L183.0 476.9L184.3 475.4L185.6 473.9L187.0 472.4L188.4 471.0L189.8 469.6L191.2 468.2L192.6 466.8L194.1 465.4L195.6 464.1L197.1 462.8L198.6 461.5L200.1 460.1L201.6 458.8L203.2 457.6L204.8 456.4L206.4 455.2L208.1 454.2L209.9 453.3L211.7 452.5L213.6 451.8L215.5 451.3L217.4 450.8L219.4 450.5L221.4 450.3L223.4 450.2L225.3 450.3L227.3 450.6L229.2 451.1L231.0 451.9L232.7 452.9L234.4 453.9L236.0 455.2L237.5 456.4L238.9 457.8L240.3 459.2L241.7 460.7L243.0 462.2L244.3 463.8L245.5 465.3L246.7 466.9L247.9 468.6L249.0 470.2L250.0 471.9L251.1 473.6L252.0 475.4L252.9 477.2L253.7 479.0L254.5 480.8L255.3 482.7L256.1 484.5L256.8 486.4L257.5 488.3L258.2 490.1L258.9 492.0L259.6 493.9L260.2 495.8L260.9 497.7L261.5 499.6L262.2 501.4L262.8 503.3L263.5 505.2L264.1 507.1L264.7 509.1L265.3 511.0L265.8 512.9L266.3 514.8L266.8 516.8L267.3 518.7L267.7 520.7L268.1 522.6L268.5 524.6L268.9 526.5L269.2 528.5L269.6 530.5L269.9 532.5L270.3 534.4L270.6 536.4L271.0 538.4L271.4 540.3L271.8 542.3L272.2 544.2L272.7 546.2L273.1 548.1L273.5 550.1L273.8 552.1L274.2 554.0L274.5 556.0L274.8 558.0L275.1 560.0L275.4 561.9L275.8 563.9L276.2 565.9L276.5 567.8L276.9 569.8L277.3 571.8L277.7 573.7L278.1 575.7L278.5 577.6L278.9 579.6L279.4 581.5L279.8 583.5L280.2 585.5L280.6 587.4L281.0 589.4L281.4 591.3L281.8 593.3L282.1 595.3L282.5 597.2L282.9 599.2L283.3 601.2L283.7 603.1L284.0 605.1L284.4 607.1L284.8 609.0L285.2 611.0L285.6 612.9L286.0 614.9L286.4 616.9L286.7 618.8L287.1 620.8L287.5 622.7L287.9 624.7L288.4 626.7L288.8 628.6L289.2 630.6L289.6 632.5L290.1 634.5L290.5 636.4L290.9 638.4L291.4 640.3L291.8 642.3L292.3 644.2L292.7 646.2L293.2 648.1L293.7 650.1L294.1 652.0L294.6 654.0L295.0 655.9L295.5 657.9L296.0 659.8L296.4 661.8L296.9 663.7L297.3 665.6L297.8 667.6L298.2 669.5L298.7 671.5L299.1 673.4L299.6 675.4L300.1 677.3L300.6 679.3L301.2 681.2L301.8 683.1L302.4 685.0L303.1 686.9L303.8 688.7L304.5 690.6L305.3 692.5L306.1 694.3L306.9 696.1L307.8 697.9L308.7 699.6L309.7 701.4L310.8 703.1L311.9 704.8L313.0 706.4L314.2 708.0L315.5 709.5L316.9 710.9L318.3 712.3L319.8 713.7L321.3 715.0L322.9 716.2L324.5 717.4L326.1 718.6L327.8 719.7L329.5 720.7L331.2 721.8L332.9 722.8L334.7 723.8L336.4 724.8L338.2 725.7L339.9 726.6L341.7 727.5L343.5 728.4L345.4 729.2L347.2 729.9L349.1 730.6L351.0 731.2L352.9 731.8L354.8 732.4L356.8 732.9L358.7 733.3L360.6 733.8L362.6 734.3L364.5 734.7L366.5 735.1L368.4 735.6L370.4 736.0" fill="none" stroke="#000000" stroke-width="3.5" stroke-linecap="round" stroke-linejoin="round"/>
<path d="M44.6 643.0L46.1 644.4L47.6 645.7L49.0 647.1L50.5 648.4L52.0 649.7L53.5 651.1L55.0 652.3L56.6 653.6L58.2 654.8L59.8 656.1L61.4 657.2L63.0 658.4L64.7 659.5L66.3 660.7L68.0 661.8L69.7 662.9L71.4 663.9L73.1 665.0L74.8 666.0L76.6 667.0L78.3 667.9L80.1 668.8L82.0 669.5L83.9 670.1L85.8 670.5L87.7 670.7L89.7 670.6L91.6 670.3L93.5 669.7L95.3 668.8L96.9 667.7L98.5 666.5L100.0 665.2L101.3 663.7L102.6 662.2L103.9 660.7L105.1 659.1L106.4 657.5L107.5 655.9L108.7 654.3L109.9 652.6L111.0 651.0L112.1 649.3L113.2 647.6L114.3 646.0L115.5 644.3L116.6 642.6L117.7 641.0L118.8 639.3L119.9 637.6L121.0 636.0L122.1 634.3L123.2 632.6L124.3 631.0L125.5 629.3L126.6 627.6L127.6 625.9L128.7 624.3L129.8 622.6L130.9 620.9L132.1 619.3L133.2 617.6L134.3 616.0L135.5 614.3L136.7 612.7L137.9 611.2L139.2 609.6L140.5 608.0L141.8 606.5L143.1 605.0L144.5 603.6L145.9 602.2L147.4 600.9L148.9 599.6L150.5 598.3L152.1 597.1L153.7 595.9L155.3 594.7L157.0 593.6L158.6 592.5L160.3 591.4L162.1 590.4L163.8 589.4L165.6 588.4L167.3 587.5L169.1 586.5L170.8 585.5L172.6 584.6L174.3 583.6L176.1 582.6L177.8 581.7L179.6 580.8L181.4 579.8L183.2 578.9L185.0 578.0L186.8 577.2L188.6 576.3L190.4 575.5L192.2 574.6L194.1 573.8L195.9 573.1L197.8 572.4L199.7 571.8L201.6 571.3L203.6 570.8L205.5 570.3L207.5 569.8L209.4 569.5L211.4 569.2L213.4 569.0L215.4 569.0L217.3 569.3L219.3 569.6L221.2 570.2L223.0 570.9L224.8 571.8L226.5 572.9L228.1 574.1L229.6 575.4L231.0 576.8L232.4 578.2L233.7 579.7L235.0 581.3L236.2 582.8L237.4 584.4L238.6 586.1L239.7 587.7L240.8 589.4L241.9 591.1L243.0 592.8L244.0 594.5L245.1 596.2L246.1 597.9L247.1 599.6L248.1 601.4L249.2 603.1L250.2 604.8L251.3 606.5L252.3 608.2L253.2 610.0L254.1 611.8L254.9 613.6L255.7 615.4L256.5 617.3L257.3 619.1L258.1 621.0L258.8 622.8L259.5 624.7L260.2 626.6L260.8 628.5L261.5 630.4L262.1 632.3L262.7 634.2L263.3 636.1L263.9 638.0L264.5 639.9L265.1 641.8L265.7 643.7L266.4 645.6L267.0 647.5L267.6 649.5L268.3 651.3L268.9 653.2L269.6 655.1L270.2 657.0L270.9 658.9L271.6 660.8L272.3 662.7L273.0 664.6L273.7 666.4L274.4 668.3L275.1 670.2L275.8 672.1L276.5 673.9L277.3 675.8L278.0 677.6L278.9 679.5L279.7 681.3L280.6 683.1L281.5 684.9L282.5 686.6L283.4 688.4L284.5 690.1L285.5 691.8L286.6 693.5L287.7 695.1L288.9 696.8L290.1 698.4L291.3 699.9L292.6 701.5L294.0 702.9L295.4 704.4L296.8 705.7L298.3 707.1L299.8 708.4L301.4 709.6L303.0 710.8L304.7 711.9L306.4 713.0L308.1 714.0L309.8 715.0L311.6 715.9L313.4 716.8L315.2 717.7L317.0 718.5L318.8 719.4L320.7 720.1L322.5 720.9L324.4 721.7L326.2 722.5L328.1 723.2L329.9 724.0L331.8 724.7L333.7 725.4L335.5 726.2L337.4 726.9L339.3 727.6L341.2 728.2L343.1 728.9L345.0 729.5L346.9 730.1L348.8 730.6L350.7 731.1L352.7 731.6L354.6 732.1L356.6 732.5L358.6 732.9L360.5 733.3L362.5 733.6L364.5 734.0L366.5 734.3L368.4 734.7L370.4 735.0" fill="none" stroke="#800080" stroke-width="3.5" stroke-linecap="round" stroke-linejoin="round"/>
<path d="M44.6 647.0L46.1 648.3L47.7 649.6L49.2 650.8L50.8 652.1L52.3 653.4L53.9 654.6L55.5 655.8L57.1 657.0L58.7 658.2L60.3 659.4L61.9 660.5L63.6 661.7L65.2 662.8L66.9 663.9L68.6 665.0L70.3 666.1L71.9 667.2L73.6 668.2L75.3 669.3L77.1 670.3L78.8 671.3L80.5 672.3L82.3 673.2L84.2 673.9L86.1 674.4L88.0 674.7L89.9 674.6L91.8 674.3L93.7 673.6L95.4 672.7L97.1 671.6L98.6 670.4L100.1 669.0L101.4 667.6L102.7 666.0L104.0 664.5L105.2 662.9L106.5 661.4L107.7 659.8L108.9 658.2L110.1 656.6L111.3 655.0L112.5 653.4L113.7 651.8L114.9 650.2L116.1 648.5L117.2 646.9L118.4 645.3L119.6 643.7L120.7 642.0L121.9 640.4L123.0 638.8L124.2 637.1L125.4 635.5L126.5 633.9L127.7 632.3L128.8 630.6L130.0 629.0L131.2 627.4L132.3 625.7L133.5 624.1L134.6 622.5L135.8 620.8L137.0 619.2L138.1 617.6L139.2 615.9L140.4 614.3L141.5 612.7L142.7 611.0L143.9 609.4L145.2 607.9L146.4 606.3L147.7 604.8L149.0 603.3L150.4 601.8L151.7 600.3L153.1 598.9L154.6 597.5L156.0 596.2L157.6 594.9L159.1 593.6L160.7 592.4L162.3 591.1L163.8 589.9L165.4 588.6L166.9 587.3L168.4 586.0L169.9 584.7L171.4 583.3L172.9 582.0L174.4 580.7L175.9 579.4L177.5 578.2L179.0 576.9L180.6 575.7L182.2 574.4L183.8 573.2L185.4 572.0L187.0 570.9L188.7 569.9L190.5 569.0L192.3 568.2L194.2 567.4L196.0 566.6L197.8 565.8L199.6 564.9L201.4 564.0L203.2 563.3L205.1 562.6L207.0 562.0L209.0 561.6L211.0 561.4L212.9 561.2L214.9 561.1L216.9 561.2L218.9 561.3L220.9 561.7L222.8 562.2L224.6 563.0L226.3 563.9L228.0 565.0L229.6 566.2L231.1 567.5L232.5 568.8L233.9 570.3L235.2 571.8L236.5 573.3L237.8 574.9L239.0 576.5L240.2 578.1L241.3 579.7L242.5 581.4L243.5 583.0L244.6 584.7L245.6 586.5L246.6 588.2L247.6 589.9L248.6 591.7L249.5 593.4L250.4 595.2L251.3 597.0L252.2 598.8L253.0 600.7L253.8 602.5L254.6 604.3L255.3 606.2L256.1 608.0L256.9 609.9L257.7 611.7L258.4 613.6L259.2 615.4L260.0 617.2L260.8 619.1L261.5 620.9L262.3 622.8L263.0 624.6L263.8 626.5L264.5 628.4L265.2 630.2L266.0 632.1L266.7 634.0L267.4 635.8L268.1 637.7L268.8 639.6L269.5 641.5L270.1 643.4L270.7 645.3L271.2 647.2L271.8 649.1L272.4 651.0L273.0 652.9L273.6 654.8L274.2 656.7L274.9 658.6L275.5 660.5L276.2 662.4L276.9 664.3L277.5 666.2L278.3 668.1L279.0 669.9L279.7 671.8L280.4 673.6L281.2 675.5L282.0 677.3L282.8 679.2L283.6 681.0L284.5 682.8L285.3 684.6L286.2 686.4L287.2 688.2L288.1 689.9L289.1 691.7L290.1 693.4L291.1 695.1L292.2 696.8L293.4 698.4L294.5 700.0L295.8 701.6L297.1 703.1L298.4 704.6L299.8 706.0L301.3 707.4L302.8 708.7L304.4 710.0L305.9 711.2L307.6 712.3L309.2 713.4L310.9 714.5L312.6 715.6L314.4 716.6L316.1 717.5L317.9 718.5L319.7 719.4L321.5 720.2L323.3 721.1L325.1 721.9L326.9 722.7L328.8 723.5L330.6 724.2L332.5 724.9L334.4 725.6L336.3 726.2L338.2 726.8L340.1 727.4L342.0 727.9L344.0 728.5L345.9 729.0L347.8 729.5L349.8 729.9L351.7 730.4L353.7 730.8L355.7 731.2L357.6 731.6L359.6 732.0L361.5 732.4L363.5 732.7L365.5 733.1L367.4 733.5L369.4 733.8L370.4 734.0" fill="none" stroke="#e85a3a" stroke-width="3.5" stroke-linecap="round" stroke-linejoin="round"/>
<path d="M44.6 640.0L46.1 641.3L47.7 642.6L49.2 643.9L50.7 645.1L52.3 646.4L53.9 647.6L55.4 648.9L57.1 650.1L58.7 651.2L60.3 652.3L62.0 653.5L63.7 654.5L65.4 655.6L67.1 656.7L68.8 657.7L70.5 658.7L72.3 659.7L74.0 660.7L75.8 661.6L77.6 662.5L79.4 663.3L81.2 664.1L83.1 664.8L85.0 665.3L87.0 665.6L88.9 665.8L90.9 665.7L92.9 665.5L94.9 665.1L96.8 664.6L98.7 664.0L100.5 663.2L102.2 662.2L103.9 661.2L105.5 660.0L107.0 658.7L108.4 657.3L109.8 655.8L111.2 654.3L112.5 652.8L113.8 651.3L115.1 649.8L116.4 648.3L117.7 646.8L119.0 645.2L120.3 643.7L121.5 642.1L122.8 640.6L124.1 639.1L125.4 637.6L126.8 636.1L128.2 634.7L129.6 633.2L131.0 631.8L132.4 630.4L133.9 629.1L135.4 627.7L136.9 626.4L138.4 625.0L139.9 623.7L141.4 622.5L143.0 621.2L144.6 620.0L146.2 618.8L147.8 617.7L149.5 616.5L151.2 615.4L152.8 614.4L154.6 613.4L156.3 612.4L158.1 611.5L159.9 610.6L161.7 609.7L163.5 608.9L165.3 608.1L167.2 607.3L169.0 606.5L170.9 605.7L172.7 605.0L174.6 604.3L176.5 603.7L178.4 603.0L180.3 602.4L182.2 601.9L184.2 601.4L186.1 600.9L188.1 600.4L190.0 600.0L192.0 599.5L193.9 599.1L195.9 598.7L197.8 598.3L199.8 597.9L201.8 597.5L203.7 597.2L205.7 596.9L207.7 596.6L209.7 596.3L211.7 596.1L213.7 596.0L215.7 596.1L217.6 596.3L219.6 596.6L221.5 597.1L223.4 597.8L225.1 598.7L226.8 599.7L228.5 600.9L230.1 602.1L231.6 603.4L233.1 604.7L234.5 606.1L236.0 607.5L237.3 608.9L238.7 610.4L240.0 611.9L241.2 613.5L242.4 615.1L243.6 616.7L244.7 618.4L245.8 620.1L246.8 621.8L247.8 623.5L248.8 625.3L249.7 627.0L250.7 628.8L251.6 630.6L252.6 632.3L253.6 634.1L254.5 635.8L255.5 637.6L256.4 639.4L257.2 641.2L258.1 643.0L259.0 644.8L259.8 646.6L260.6 648.4L261.5 650.3L262.3 652.1L263.1 653.9L264.0 655.7L264.8 657.5L265.7 659.3L266.5 661.1L267.4 662.9L268.3 664.8L269.1 666.6L270.0 668.4L270.8 670.2L271.7 672.0L272.6 673.8L273.5 675.6L274.4 677.4L275.3 679.1L276.3 680.9L277.3 682.6L278.3 684.4L279.3 686.1L280.4 687.8L281.4 689.5L282.5 691.1L283.7 692.8L284.8 694.4L286.0 696.0L287.3 697.6L288.5 699.1L289.8 700.6L291.2 702.1L292.6 703.6L294.0 705.0L295.5 706.4L297.0 707.7L298.5 708.9L300.1 710.1L301.7 711.3L303.4 712.4L305.1 713.4L306.9 714.4L308.6 715.3L310.4 716.2L312.3 717.0L314.1 717.8L315.9 718.6L317.8 719.3L319.7 720.1L321.5 720.8L323.4 721.5L325.3 722.2L327.1 722.9L329.0 723.6L330.9 724.3L332.8 725.1L334.6 725.8L336.5 726.5L338.4 727.2L340.3 727.9L342.1 728.5L344.0 729.2L346.0 729.8L347.9 730.4L349.8 730.9L351.7 731.4L353.7 731.9L355.6 732.3L357.6 732.7L359.6 733.1L361.5 733.4L363.5 733.8L365.5 734.1L367.4 734.5L369.4 734.8L370.4 735.0" fill="none" stroke="#800080" stroke-width="3.5" stroke-linecap="round" stroke-linejoin="round"/>
<path d="M44.6 631.1L46.1 632.4L47.7 633.7L49.2 635.0L50.7 636.2L52.3 637.5L53.9 638.8L55.5 640.0L57.1 641.2L58.7 642.3L60.4 643.4L62.0 644.5L63.7 645.6L65.4 646.7L67.1 647.7L68.9 648.8L70.6 649.8L72.3 650.7L74.1 651.7L75.9 652.6L77.7 653.6L79.5 654.4L81.3 655.3L83.1 656.0L85.0 656.6L87.0 657.1L88.9 657.4L90.9 657.5L92.9 657.4L94.9 657.2L96.8 656.9L98.8 656.4L100.7 655.9L102.6 655.2L104.4 654.4L106.2 653.5L107.9 652.4L109.6 651.3L111.2 650.2L112.8 648.9L114.3 647.7L115.8 646.4L117.3 645.0L118.8 643.6L120.2 642.2L121.6 640.8L123.0 639.3L124.4 638.0L126.0 636.8L127.7 635.8L129.5 634.9L131.3 634.2L133.2 633.5L135.1 632.8L137.0 632.1L138.9 631.5L140.8 630.8L142.6 630.1L144.5 629.4L146.4 628.7L148.2 628.0L150.1 627.2L151.9 626.3L153.7 625.5L155.5 624.6L157.3 623.7L159.1 622.7L160.9 621.8L162.6 620.9L164.4 620.0L166.2 619.2L168.0 618.3L169.8 617.4L171.6 616.5L173.5 615.7L175.3 614.8L177.1 614.1L179.0 613.4L180.9 612.7L182.8 612.1L184.7 611.6L186.7 611.2L188.7 610.8L190.6 610.4L192.6 610.0L194.5 609.5L196.5 609.1L198.4 608.5L200.4 608.0L202.3 607.5L204.3 607.1L206.2 606.8L208.2 606.7L210.2 606.6L212.2 606.6L214.2 606.7L216.2 607.0L218.1 607.4L220.0 607.9L221.9 608.6L223.7 609.4L225.5 610.4L227.2 611.5L228.8 612.6L230.4 613.8L231.9 615.1L233.4 616.5L234.8 617.9L236.2 619.3L237.6 620.8L238.9 622.2L240.2 623.8L241.5 625.3L242.7 626.9L244.0 628.5L245.2 630.1L246.4 631.7L247.6 633.3L248.8 634.9L250.0 636.5L251.0 638.2L252.1 639.9L253.0 641.7L254.0 643.4L254.9 645.2L255.8 647.0L256.6 648.8L257.5 650.6L258.4 652.4L259.2 654.3L260.1 656.1L261.0 657.9L261.8 659.7L262.7 661.5L263.6 663.3L264.4 665.1L265.3 666.9L266.1 668.7L267.0 670.6L267.8 672.4L268.7 674.2L269.6 676.0L270.5 677.8L271.4 679.5L272.4 681.3L273.4 683.0L274.5 684.7L275.6 686.3L276.8 688.0L278.0 689.6L279.2 691.2L280.5 692.7L281.7 694.3L283.1 695.8L284.4 697.3L285.8 698.7L287.2 700.1L288.6 701.6L290.0 702.9L291.5 704.3L293.0 705.6L294.6 706.9L296.1 708.2L297.7 709.4L299.4 710.5L301.1 711.6L302.8 712.6L304.5 713.6L306.2 714.6L308.0 715.5L309.8 716.4L311.6 717.3L313.4 718.1L315.3 718.9L317.1 719.7L319.0 720.5L320.8 721.3L322.7 722.0L324.5 722.8L326.4 723.6L328.2 724.3L330.1 725.0L332.0 725.8L333.8 726.5L335.7 727.2L337.6 727.9L339.5 728.6L341.4 729.2L343.3 729.9L345.2 730.5L347.1 731.1L349.0 731.7L350.9 732.2L352.9 732.8L354.8 733.3L356.7 733.8L358.7 734.3L360.6 734.7L362.6 735.2L364.5 735.6L366.5 736.1L368.4 736.5L370.4 737.0" fill="none" stroke="#000000" stroke-width="3.5" stroke-linecap="round" stroke-linejoin="round"/>
<path d="M44.6 643.9L46.2 645.1L47.9 646.2L49.5 647.4L51.2 648.5L52.8 649.6L54.5 650.7L56.2 651.7L57.9 652.7L59.7 653.7L61.5 654.6L63.2 655.5L65.0 656.4L66.8 657.3L68.7 658.1L70.5 658.9L72.4 659.7L74.2 660.4L76.1 661.0L78.0 661.6L80.0 662.0L81.9 662.4L83.9 662.7L85.9 662.9L87.9 663.0L89.9 662.9L91.8 662.7L93.8 662.4L95.8 662.0L97.7 661.4L99.6 660.8L101.5 660.1L103.3 659.4L105.2 658.7L107.0 657.9L108.8 657.1L110.6 656.2L112.4 655.3L114.2 654.4L115.9 653.4L117.6 652.3L119.3 651.3L121.0 650.2L122.7 649.2L124.5 648.4L126.3 648.0L128.3 647.9L130.2 648.0L132.2 648.1L134.1 648.1L136.0 647.8L137.9 647.3L139.8 646.7L141.7 645.9L143.5 645.2L145.4 644.5L147.3 643.8L149.2 643.2L151.1 642.6L153.0 642.1L155.0 641.7L156.9 641.3L158.9 640.9L160.9 640.5L162.8 640.1L164.8 639.8L166.8 639.5L168.8 639.2L170.8 639.0L172.8 638.9L174.8 638.7L176.7 638.6L178.7 638.5L180.7 638.3L182.7 638.0L184.7 637.8L186.7 637.5L188.7 637.3L190.7 637.0L192.6 636.7L194.6 636.5L196.6 636.2L198.6 636.0L200.6 635.7L202.6 635.5L204.6 635.3L206.6 635.2L208.6 635.1L210.6 635.1L212.5 635.1L214.5 635.3L216.5 635.5L218.5 635.8L220.4 636.3L222.4 636.8L224.2 637.5L226.1 638.3L227.8 639.2L229.5 640.2L231.2 641.4L232.7 642.6L234.3 643.8L235.8 645.2L237.2 646.5L238.7 647.9L240.0 649.4L241.4 650.9L242.7 652.4L243.9 654.0L245.1 655.6L246.3 657.2L247.5 658.8L248.6 660.4L249.8 662.0L251.0 663.7L252.1 665.3L253.3 666.9L254.5 668.5L255.7 670.1L256.9 671.8L258.1 673.4L259.3 675.0L260.4 676.6L261.6 678.2L262.8 679.8L264.0 681.4L265.3 683.0L266.5 684.6L267.7 686.1L269.0 687.7L270.2 689.3L271.4 690.8L272.7 692.4L274.0 693.9L275.3 695.5L276.6 697.0L277.9 698.4L279.3 699.9L280.8 701.3L282.2 702.6L283.8 703.9L285.3 705.2L286.9 706.4L288.5 707.6L290.1 708.7L291.8 709.8L293.5 710.8L295.3 711.8L297.1 712.7L298.9 713.4L300.8 714.1L302.7 714.6L304.7 715.1L306.6 715.6L308.5 716.1L310.5 716.6L312.4 717.2L314.3 717.8L316.2 718.5L318.0 719.2L319.9 719.9L321.8 720.6L323.7 721.3L325.5 722.0L327.4 722.7L329.3 723.3L331.2 723.9L333.1 724.5L335.1 725.0L337.0 725.5L339.0 725.9L340.9 726.4L342.9 726.8L344.8 727.2L346.8 727.6L348.8 728.0L350.7 728.3L352.7 728.7L354.7 729.1L356.6 729.5L358.6 729.8L360.6 730.2L362.5 730.5L364.5 730.9L366.5 731.3L368.4 731.6L370.4 732.0" fill="none" stroke="#ff0000" stroke-width="3.5" stroke-linecap="round" stroke-linejoin="round"/>
<path d="M44.6 625.6L46.3 626.7L47.9 627.9L49.6 629.0L51.2 630.1L52.9 631.2L54.6 632.4L56.2 633.5L57.9 634.5L59.6 635.6L61.3 636.7L63.0 637.8L64.7 638.8L66.4 639.9L68.1 641.0L69.8 642.0L71.5 643.0L73.3 644.0L75.0 644.9L76.8 645.8L78.7 646.6L80.5 647.4L82.4 648.2L84.3 648.8L86.2 649.3L88.1 649.8L90.1 650.0L92.1 650.1L94.1 650.1L96.0 649.9L98.0 649.5L100.0 649.1L101.9 648.6L103.8 648.0L105.7 647.4L107.6 646.6L109.4 645.8L111.2 645.0L113.0 644.1L114.8 643.3L116.7 642.8L118.6 642.5L120.6 642.6L122.5 643.0L124.4 643.5L126.3 644.2L128.2 644.8L130.1 645.3L132.1 645.7L134.0 645.9L136.0 646.1L138.0 646.3L140.0 646.4L142.0 646.4L144.0 646.5L146.0 646.5L148.1 646.6L150.1 646.6L152.1 646.6L154.1 646.6L156.1 646.7L158.1 646.7L160.1 646.7L162.1 646.7L164.1 646.7L166.1 646.6L168.1 646.6L170.1 646.6L172.1 646.6L174.1 646.6L176.1 646.6L178.1 646.6L180.1 646.6L182.1 646.6L184.1 646.6L186.1 646.6L188.1 646.5L190.1 646.5L192.1 646.5L194.1 646.5L196.2 646.5L198.2 646.6L200.2 646.6L202.2 646.7L204.2 646.8L206.2 646.9L208.2 647.1L210.1 647.4L212.1 647.8L214.0 648.3L215.9 648.8L217.8 649.5L219.7 650.3L221.5 651.1L223.3 652.0L225.0 653.0L226.7 654.0L228.4 655.1L230.0 656.3L231.6 657.5L233.1 658.8L234.7 660.1L236.2 661.4L237.6 662.8L239.1 664.2L240.5 665.6L241.9 667.1L243.2 668.5L244.5 670.0L245.9 671.6L247.2 673.1L248.4 674.6L249.7 676.2L251.0 677.7L252.3 679.2L253.6 680.8L254.9 682.3L256.2 683.8L257.5 685.4L258.8 686.9L260.1 688.4L261.4 689.9L262.7 691.5L264.0 693.0L265.4 694.4L266.7 695.9L268.2 697.3L269.6 698.7L271.1 700.0L272.6 701.4L274.1 702.7L275.7 703.9L277.3 705.1L278.9 706.2L280.6 707.3L282.3 708.3L284.1 709.3L285.9 710.2L287.7 711.0L289.5 711.8L291.4 712.6L293.3 713.3L295.1 714.0L297.0 714.7L298.9 715.4L300.8 716.1L302.7 716.7L304.6 717.3L306.5 717.9L308.4 718.5L310.4 719.0L312.3 719.5L314.2 720.1L316.2 720.6L318.1 721.1L320.1 721.6L322.0 722.0L323.9 722.5L325.9 723.0L327.8 723.4L329.8 723.9L331.8 724.3L333.7 724.7L335.7 725.1L337.6 725.5L339.6 725.9L341.6 726.2L343.6 726.6L345.5 726.9L347.5 727.2L349.5 727.4L351.5 727.7L353.5 728.0L355.5 728.2L357.5 728.5L359.5 728.7L361.4 728.9L363.4 729.2L365.4 729.4L367.4 729.6L369.4 729.9L370.4 730.0" fill="none" stroke="#0000ff" stroke-width="3.5" stroke-linecap="round" stroke-linejoin="round"/>
<path d="M44.6 612.0L46.1 613.3L47.7 614.5L49.2 615.8L50.8 617.1L52.4 618.3L53.9 619.6L55.5 620.8L57.1 622.0L58.7 623.2L60.4 624.3L62.0 625.5L63.6 626.6L65.3 627.7L67.0 628.9L68.6 630.0L70.3 631.0L72.0 632.1L73.7 633.1L75.4 634.2L77.2 635.1L78.9 636.1L80.7 637.0L82.5 637.9L84.3 638.8L86.2 639.5L88.1 640.2L90.0 640.7L91.9 641.0L93.9 641.2L95.9 641.3L97.9 641.2L99.9 641.0L101.9 640.7L103.8 640.4L105.8 640.1L107.8 639.8L109.8 639.5L111.7 639.1L113.7 638.7L115.6 638.3L117.6 638.0L119.6 637.8L121.6 637.8L123.5 638.1L125.4 638.6L127.2 639.4L128.9 640.3L130.6 641.4L132.3 642.4L134.0 643.2L135.9 643.9L137.8 644.3L139.8 644.5L141.8 644.6L143.8 644.7L145.8 644.7L147.8 644.8L149.8 644.8L151.8 644.8L153.8 644.8L155.8 644.9L157.8 644.9L159.8 644.9L161.8 644.9L163.8 644.9L165.8 644.8L167.8 644.8L169.8 644.8L171.8 644.8L173.8 644.8L175.8 644.8L177.8 644.8L179.8 644.8L181.8 644.8L183.8 644.8L185.8 644.8L187.8 644.7L189.8 644.7L191.9 644.7L193.9 644.7L195.9 644.7L197.9 644.8L199.9 644.8L201.9 644.9L203.9 645.0L205.8 645.2L207.8 645.4L209.8 645.6L211.8 646.0L213.7 646.5L215.6 647.0L217.5 647.6L219.4 648.3L221.3 649.1L223.1 650.0L224.8 650.9L226.6 651.9L228.2 653.0L229.9 654.1L231.5 655.3L233.0 656.6L234.6 657.8L236.1 659.2L237.6 660.5L239.0 661.9L240.4 663.3L241.8 664.7L243.2 666.2L244.5 667.7L245.8 669.2L247.1 670.8L248.4 672.3L249.6 673.9L250.9 675.4L252.2 676.9L253.5 678.5L254.7 680.0L256.0 681.6L257.3 683.1L258.6 684.6L259.9 686.2L261.1 687.7L262.4 689.2L263.8 690.7L265.1 692.2L266.5 693.7L267.9 695.1L269.3 696.5L270.7 697.9L272.2 699.2L273.7 700.6L275.3 701.8L276.8 703.1L278.5 704.2L280.1 705.3L281.8 706.4L283.6 707.3L285.4 708.2L287.2 709.0L289.1 709.8L290.9 710.5L292.8 711.2L294.7 711.9L296.6 712.6L298.5 713.2L300.4 713.9L302.3 714.5L304.2 715.1L306.1 715.7L308.0 716.3L309.9 716.9L311.8 717.4L313.7 718.0L315.7 718.6L317.6 719.2L319.5 719.8L321.4 720.4L323.3 721.0L325.2 721.5L327.1 722.1L329.1 722.7L331.0 723.2L332.9 723.7L334.9 724.3L336.8 724.7L338.7 725.2L340.7 725.6L342.7 726.0L344.6 726.4L346.6 726.7L348.6 727.0L350.6 727.3L352.5 727.6L354.5 727.9L356.5 728.2L358.5 728.4L360.5 728.7L362.5 729.0L364.4 729.2L366.4 729.5L368.4 729.7L370.4 730.0" fill="none" stroke="#008080" stroke-width="3.5" stroke-linecap="round" stroke-linejoin="round"/>
<path d="M44.6 596.4L46.2 597.6L47.8 598.7L49.5 599.9L51.1 601.1L52.7 602.3L54.3 603.5L55.9 604.7L57.5 605.9L59.0 607.2L60.6 608.4L62.1 609.7L63.7 610.9L65.3 612.2L66.9 613.4L68.5 614.6L70.1 615.8L71.7 617.0L73.3 618.2L74.9 619.4L76.5 620.5L78.2 621.6L79.9 622.6L81.7 623.6L83.5 624.5L85.3 625.3L87.2 626.0L89.1 626.6L91.0 627.2L92.9 627.7L94.9 628.1L96.8 628.4L98.8 628.6L100.8 628.7L102.8 628.8L104.8 628.8L106.8 628.8L108.8 628.6L110.8 628.4L112.8 628.2L114.8 628.1L116.7 628.1L118.7 628.3L120.5 628.9L122.2 629.8L123.8 631.0L125.2 632.3L126.6 633.8L127.9 635.3L129.2 636.8L130.5 638.3L131.9 639.8L133.2 641.2L134.7 642.6L136.2 643.9L137.8 645.1L139.4 646.3L141.1 647.4L142.8 648.5L144.5 649.5L146.3 650.4L148.0 651.3L149.8 652.2L151.7 653.0L153.5 653.7L155.4 654.5L157.3 655.2L159.1 655.9L161.0 656.6L162.9 657.3L164.8 657.9L166.7 658.6L168.6 659.2L170.5 659.9L172.3 660.5L174.2 661.2L176.2 661.8L178.1 662.4L180.0 663.0L181.9 663.5L183.8 664.1L185.7 664.6L187.7 665.2L189.6 665.7L191.5 666.2L193.5 666.7L195.4 667.2L197.4 667.7L199.3 668.1L201.3 668.6L203.2 669.0L205.2 669.4L207.1 669.8L209.1 670.1L211.1 670.5L213.0 670.9L215.0 671.4L216.9 671.9L218.8 672.4L220.7 673.0L222.6 673.7L224.5 674.3L226.4 675.0L228.3 675.7L230.1 676.5L232.0 677.2L233.8 678.0L235.7 678.8L237.5 679.6L239.3 680.5L241.1 681.3L242.9 682.2L244.7 683.0L246.5 683.9L248.3 684.9L250.1 685.8L251.8 686.7L253.6 687.7L255.3 688.7L257.1 689.7L258.8 690.8L260.5 691.8L262.2 692.9L263.9 693.9L265.5 695.0L267.2 696.1L268.9 697.2L270.6 698.2L272.3 699.3L274.0 700.4L275.6 701.5L277.3 702.6L279.0 703.7L280.6 704.8L282.3 705.9L284.0 707.0L285.7 708.0L287.5 709.0L289.2 710.0L291.0 710.9L292.8 711.7L294.7 712.5L296.5 713.3L298.4 714.0L300.3 714.7L302.1 715.3L304.1 715.9L306.0 716.5L307.9 717.0L309.8 717.5L311.8 718.0L313.7 718.4L315.7 718.8L317.7 719.1L319.7 719.4L321.6 719.7L323.6 720.0L325.6 720.3L327.6 720.6L329.6 720.8L331.5 721.1L333.5 721.3L335.5 721.5L337.5 721.8L339.5 722.0L341.5 722.2L343.5 722.4L345.5 722.6L347.5 722.8L349.5 722.9L351.5 723.1L353.5 723.3L355.4 723.5L357.4 723.7L359.4 723.8L361.4 724.0L363.4 724.2L365.4 724.4L367.4 724.5L369.4 724.7L370.4 724.8" fill="none" stroke="#ff00ff" stroke-width="3.5" stroke-linecap="round" stroke-linejoin="round"/>
<line x1="44.6" y1="415.3" x2="370.4" y2="415.3" stroke="#222" stroke-width="1.2"/>
<line x1="370.4" y1="415.3" x2="370.4" y2="748.4" stroke="#333" stroke-width="1.2"/>
<line x1="44.6" y1="414.8" x2="44.6" y2="748.4" stroke="#777" stroke-width="1.2"/>
<line x1="44.0" y1="747.8" x2="370.9" y2="747.8" stroke="#111" stroke-width="1.4"/>
<text font-family="'Liberation Sans', sans-serif" font-weight="bold" font-size="100" fill="#000" transform="matrix(0.13669 0 0 0.18310 25.300 753.057)">0.0</text>
<text font-family="'Liberation Sans', sans-serif" font-weight="bold" font-size="100" fill="#000" transform="matrix(0.13669 0 0 0.18310 25.300 708.637)">0.2</text>
<text font-family="'Liberation Sans', sans-serif" font-weight="bold" font-size="100" fill="#000" transform="matrix(0.13669 0 0 0.18310 25.300 664.217)">0.4</text>
<text font-family="'Liberation Sans', sans-serif" font-weight="bold" font-size="100" fill="#000" transform="matrix(0.13669 0 0 0.18310 25.300 619.797)">0.6</text>
<text font-family="'Liberation Sans', sans-serif" font-weight="bold" font-size="100" fill="#000" transform="matrix(0.13669 0 0 0.18310 25.300 575.377)">0.8</text>
<g transform="matrix(0.13309 0 0 0.18310 25.800 530.957)"><path d="M23.34 0.00 L23.34 -57.13 L6.84 -46.83 L6.84 -57.62 L24.07 -68.80 L37.06 -68.80 L37.06 0.00Z" fill="#000"/><text x="55.62" y="0" font-family="'Liberation Sans', sans-serif" font-weight="bold" font-size="100" fill="#000">.0</text></g>
<g transform="matrix(0.13309 0 0 0.18571 25.800 486.720)"><path d="M23.34 0.00 L23.34 -57.13 L6.84 -46.83 L6.84 -57.62 L24.07 -68.80 L37.06 -68.80 L37.06 0.00Z" fill="#000"/><text x="55.62" y="0" font-family="'Liberation Sans', sans-serif" font-weight="bold" font-size="100" fill="#000">.2</text></g>
<g transform="matrix(0.13309 0 0 0.18841 25.800 442.300)"><path d="M23.34 0.00 L23.34 -57.13 L6.84 -46.83 L6.84 -57.62 L24.07 -68.80 L37.06 -68.80 L37.06 0.00Z" fill="#000"/><text x="55.62" y="0" font-family="'Liberation Sans', sans-serif" font-weight="bold" font-size="100" fill="#000">.4</text></g>
<text font-family="'Liberation Sans', sans-serif" font-weight="bold" font-size="100" fill="#000" transform="matrix(0.13413 0 0 0.18028 33.400 761.920)">300</text>
<text font-family="'Liberation Sans', sans-serif" font-weight="bold" font-size="100" fill="#000" transform="matrix(0.13413 0 0 0.18028 87.700 761.920)">350</text>
<text font-family="'Liberation Sans', sans-serif" font-weight="bold" font-size="100" fill="#000" transform="matrix(0.13413 0 0 0.18028 142.000 761.920)">400</text>
<text font-family="'Liberation Sans', sans-serif" font-weight="bold" font-size="100" fill="#000" transform="matrix(0.13413 0 0 0.18028 196.300 761.920)">450</text>
<text font-family="'Liberation Sans', sans-serif" font-weight="bold" font-size="100" fill="#000" transform="matrix(0.13413 0 0 0.18028 250.600 761.920)">500</text>
<text font-family="'Liberation Sans', sans-serif" font-weight="bold" font-size="100" fill="#000" transform="matrix(0.13413 0 0 0.18028 304.900 761.920)">550</text>
<text font-family="'Liberation Sans', sans-serif" font-weight="bold" font-size="100" fill="#000" transform="matrix(0.13413 0 0 0.18028 359.200 761.920)">600</text>
<text font-family="'Liberation Serif', serif" font-weight="bold" font-size="100" fill="#000" transform="matrix(0.15508 0 0 0.17582 83.000 473.720)">ZnO (P.M)</text>
<text font-family="'Liberation Sans', sans-serif" font-weight="bold" font-size="100" fill="#000" transform="matrix(0.13153 0 0 0.18732 334.000 436.613)">0</text>
<text font-family="'Liberation Sans', sans-serif" font-weight="bold" font-size="100" fill="#000" transform="matrix(0.14671 0 0 0.18028 321.400 682.420)">540</text>
<line x1="349.2" y1="441.5" x2="349.2" y2="659.4" stroke="#000" stroke-width="2.3"/><polygon points="345.0,658.4 353.4,658.4 349.2,676.8" fill="#000"/>
<text font-family="'Liberation Serif', serif" font-weight="bold" font-size="100" fill="#000" transform="matrix(0.19797 0 0 0.22077 139.200 794.543)">wavelength(nm)</text>
<text font-family="'Liberation Serif', serif" font-weight="bold" font-size="100" fill="#000" transform="matrix(0 -0.25080 0.18901 0 16.836 688.600)">absorbance (arb.u)</text>
<path d="M426.6 632.0L428.3 633.1L429.9 634.2L431.5 635.4L433.1 636.6L434.7 637.9L436.2 639.2L437.7 640.6L439.1 642.0L440.5 643.4L441.9 644.8L443.3 646.2L444.7 647.7L446.1 649.1L447.5 650.6L448.8 652.0L450.2 653.4L451.7 654.9L453.1 656.2L454.6 657.5L456.2 658.8L457.8 660.0L459.4 661.1L461.2 662.1L462.9 663.0L464.8 663.7L466.7 664.3L468.6 664.8L470.6 665.0L472.5 665.0L474.5 664.8L476.4 664.4L478.3 663.8L480.1 663.0L481.9 662.0L483.5 660.9L485.0 659.7L486.4 658.3L487.7 656.8L488.9 655.1L490.0 653.5L491.0 651.7L492.0 650.0L492.9 648.2L493.9 646.5L494.8 644.7L495.7 642.9L496.6 641.1L497.4 639.3L498.3 637.5L499.2 635.7L500.1 633.9L501.0 632.1L501.8 630.3L502.7 628.5L503.6 626.7L504.5 625.0L505.4 623.2L506.3 621.4L507.2 619.6L508.1 617.8L509.0 616.0L509.9 614.2L510.8 612.4L511.6 610.6L512.5 608.8L513.3 607.0L514.2 605.2L515.0 603.3L515.9 601.5L516.7 599.7L517.6 597.9L518.5 596.1L519.4 594.3L520.3 592.5L521.2 590.8L522.1 589.0L523.0 587.2L524.0 585.4L524.9 583.7L525.9 581.9L526.9 580.2L527.9 578.5L528.9 576.8L530.0 575.0L531.0 573.3L532.1 571.6L533.2 570.0L534.2 568.3L535.3 566.6L536.4 564.9L537.5 563.2L538.6 561.6L539.7 559.9L540.8 558.2L541.9 556.6L543.1 554.9L544.2 553.2L545.3 551.6L546.4 549.9L547.5 548.3L548.7 546.6L549.8 545.0L550.9 543.3L552.0 541.6L553.1 540.0L554.2 538.3L555.3 536.6L556.5 535.0L557.6 533.3L558.7 531.7L559.9 530.1L561.1 528.5L562.3 526.9L563.6 525.3L564.9 523.8L566.2 522.3L567.5 520.8L568.9 519.3L570.3 517.9L571.7 516.5L573.2 515.1L574.7 513.8L576.2 512.6L577.8 511.3L579.4 510.1L580.9 508.8L582.5 507.6L584.1 506.4L585.8 505.3L587.5 504.2L589.2 503.2L591.0 502.4L592.8 501.6L594.7 501.0L596.7 500.5L598.6 500.3L600.6 500.2L602.6 500.4L604.5 500.8L606.4 501.4L608.1 502.2L609.8 503.3L611.3 504.5L612.7 506.0L614.0 507.5L615.1 509.1L616.2 510.8L617.3 512.5L618.4 514.2L619.4 515.9L620.3 517.6L621.3 519.4L622.2 521.2L623.0 523.0L623.9 524.8L624.7 526.6L625.5 528.5L626.3 530.3L627.1 532.2L627.8 534.0L628.5 535.9L629.3 537.7L630.0 539.6L630.7 541.5L631.4 543.4L632.1 545.2L632.8 547.1L633.5 549.0L634.2 550.9L634.9 552.7L635.6 554.6L636.4 556.5L637.1 558.3L637.7 560.2L638.4 562.1L639.1 564.0L639.8 565.9L640.4 567.8L641.1 569.7L641.7 571.6L642.3 573.5L643.0 575.4L643.6 577.3L644.2 579.2L644.8 581.1L645.4 583.0L646.0 584.9L646.6 586.8L647.2 588.7L647.7 590.6L648.3 592.6L648.9 594.5L649.4 596.4L650.0 598.3L650.6 600.2L651.1 602.2L651.7 604.1L652.3 606.0L652.9 607.9L653.4 609.8L654.0 611.8L654.6 613.7L655.1 615.6L655.7 617.5L656.3 619.4L656.9 621.3L657.5 623.2L658.1 625.1L658.8 627.0L659.4 628.9L660.0 630.8L660.7 632.7L661.4 634.6L662.1 636.5L662.9 638.3L663.6 640.2L664.4 642.0L665.2 643.8L666.0 645.7L666.8 647.5L667.6 649.4L668.4 651.2L669.2 653.0L669.9 654.9L670.7 656.7L671.4 658.6L672.2 660.5L672.9 662.3L673.6 664.2L674.3 666.1L675.1 667.9L675.8 669.8L676.5 671.7L677.3 673.5L678.1 675.3L678.9 677.2L679.7 679.0L680.6 680.8L681.5 682.6L682.5 684.3L683.5 686.0L684.6 687.7L685.7 689.4L686.9 691.0L688.1 692.6L689.4 694.1L690.7 695.6L692.0 697.1L693.4 698.6L694.8 700.0L696.2 701.4L697.7 702.8L699.1 704.2L700.7 705.4L702.3 706.6L703.9 707.8L705.6 708.9L707.2 710.0L708.9 711.0L710.7 712.0L712.5 712.7L714.3 713.3L716.3 713.7L718.3 714.0L720.2 714.2L722.2 714.4L724.2 714.6L726.2 714.7L728.2 714.8L730.2 715.0L732.2 715.1L734.2 715.2L736.2 715.4L738.2 715.5L740.2 715.6L742.2 715.7L744.2 715.9L746.2 716.0" fill="none" stroke="#000000" stroke-width="3.5" stroke-linecap="round" stroke-linejoin="round"/>
<path d="M426.6 634.0L428.2 635.3L429.7 636.5L431.3 637.8L432.8 639.1L434.3 640.4L435.8 641.8L437.2 643.2L438.6 644.6L440.0 646.0L441.4 647.4L442.8 648.9L444.3 650.3L445.7 651.7L447.1 653.1L448.6 654.4L450.1 655.8L451.5 657.1L453.1 658.4L454.7 659.6L456.3 660.8L458.0 661.8L459.8 662.8L461.6 663.6L463.4 664.3L465.3 664.9L467.3 665.3L469.2 665.5L471.2 665.4L473.2 665.2L475.0 664.6L476.9 663.9L478.6 662.9L480.2 661.8L481.8 660.6L483.4 659.3L484.9 658.0L486.4 656.7L487.8 655.3L489.2 653.9L490.6 652.4L491.8 650.8L492.9 649.2L494.0 647.5L495.0 645.8L496.0 644.0L497.0 642.3L497.9 640.5L498.8 638.7L499.7 636.9L500.6 635.1L501.5 633.4L502.4 631.6L503.3 629.8L504.2 628.0L505.1 626.2L506.0 624.4L506.9 622.6L507.8 620.8L508.6 619.0L509.5 617.2L510.4 615.4L511.2 613.6L512.1 611.8L512.9 609.9L513.7 608.1L514.6 606.3L515.4 604.5L516.2 602.7L517.1 600.8L517.9 599.0L518.8 597.2L519.7 595.4L520.6 593.6L521.5 591.8L522.4 590.1L523.4 588.3L524.3 586.6L525.3 584.8L526.3 583.1L527.3 581.3L528.3 579.6L529.4 577.9L530.5 576.2L531.6 574.5L532.7 572.9L533.8 571.2L534.9 569.6L536.0 567.9L537.2 566.3L538.3 564.6L539.5 563.0L540.7 561.3L541.8 559.7L543.0 558.1L544.2 556.5L545.3 554.8L546.5 553.2L547.7 551.6L548.9 550.0L550.0 548.4L551.2 546.7L552.4 545.1L553.6 543.5L554.7 541.9L555.9 540.2L557.0 538.6L558.2 537.0L559.4 535.3L560.6 533.7L561.8 532.1L563.0 530.5L564.2 529.0L565.5 527.4L566.8 525.9L568.2 524.4L569.6 523.0L571.0 521.6L572.4 520.2L573.9 518.9L575.5 517.6L577.1 516.4L578.7 515.2L580.4 514.1L582.1 513.1L583.8 512.1L585.6 511.1L587.3 510.2L589.2 509.4L591.0 508.7L592.9 508.1L594.9 507.6L596.8 507.3L598.8 507.2L600.8 507.3L602.7 507.7L604.6 508.3L606.3 509.2L608.0 510.2L609.5 511.5L611.0 512.8L612.3 514.3L613.6 515.9L614.7 517.5L615.9 519.1L616.9 520.8L618.0 522.5L619.0 524.3L619.9 526.1L620.8 527.9L621.6 529.7L622.4 531.5L623.3 533.3L624.1 535.2L624.8 537.0L625.6 538.9L626.4 540.7L627.1 542.6L627.9 544.4L628.6 546.3L629.4 548.1L630.2 550.0L630.9 551.8L631.7 553.7L632.6 555.5L633.4 557.3L634.2 559.1L635.0 561.0L635.8 562.8L636.5 564.7L637.2 566.6L637.9 568.4L638.6 570.3L639.3 572.2L639.9 574.1L640.6 576.0L641.2 577.9L641.8 579.8L642.5 581.7L643.0 583.6L643.6 585.5L644.2 587.4L644.8 589.4L645.3 591.3L645.9 593.2L646.4 595.1L647.0 597.1L647.6 599.0L648.1 600.9L648.7 602.8L649.3 604.7L649.8 606.7L650.4 608.6L651.0 610.5L651.5 612.4L652.1 614.4L652.7 616.3L653.3 618.2L653.9 620.1L654.6 622.0L655.2 623.9L655.9 625.8L656.6 627.6L657.3 629.5L658.0 631.4L658.7 633.3L659.4 635.1L660.2 637.0L660.9 638.8L661.7 640.7L662.4 642.6L663.2 644.4L664.0 646.2L664.8 648.1L665.6 649.9L666.3 651.8L667.1 653.6L667.9 655.5L668.7 657.3L669.4 659.2L670.2 661.0L670.9 662.9L671.7 664.7L672.5 666.6L673.2 668.4L674.0 670.3L674.7 672.1L675.5 674.0L676.3 675.8L677.1 677.7L678.0 679.5L678.8 681.3L679.7 683.1L680.7 684.8L681.7 686.5L682.8 688.2L683.9 689.9L685.1 691.5L686.3 693.1L687.6 694.6L688.9 696.1L690.3 697.6L691.7 699.0L693.1 700.4L694.6 701.8L696.1 703.1L697.7 704.3L699.3 705.5L700.9 706.7L702.6 707.8L704.3 708.8L706.0 709.8L707.8 710.8L709.5 711.7L711.4 712.4L713.3 712.9L715.2 713.2L717.2 713.5L719.2 713.7L721.2 713.8L723.2 714.0L725.2 714.1L727.2 714.2L729.2 714.3L731.2 714.4L733.2 714.5L735.2 714.6L737.2 714.7L739.2 714.8L741.2 714.9L743.2 715.0L745.2 715.1L746.2 715.2" fill="none" stroke="#ff0000" stroke-width="3.5" stroke-linecap="round" stroke-linejoin="round"/>
<path d="M426.6 635.0L428.1 636.3L429.6 637.7L431.1 639.0L432.5 640.4L434.0 641.8L435.3 643.3L436.6 644.8L437.7 646.4L438.7 648.1L439.6 649.9L440.5 651.7L441.5 653.4L442.5 655.1L443.8 656.7L445.1 658.1L446.6 659.4L448.2 660.6L449.9 661.7L451.5 662.8L453.2 663.9L454.9 665.0L456.6 666.2L458.2 667.3L459.8 668.4L461.5 669.5L463.3 670.5L465.1 671.2L467.0 671.8L468.9 672.1L470.8 672.1L472.7 671.7L474.5 671.1L476.3 670.2L478.0 669.2L479.7 668.1L481.3 666.9L482.9 665.7L484.3 664.3L485.6 662.8L486.7 661.2L487.8 659.5L488.7 657.7L489.7 656.0L490.7 654.2L491.7 652.5L492.8 650.8L493.8 649.1L494.9 647.4L496.0 645.7L497.1 644.0L498.2 642.4L499.2 640.7L500.3 639.0L501.4 637.3L502.5 635.6L503.6 633.9L504.6 632.2L505.7 630.5L506.7 628.8L507.7 627.1L508.7 625.3L509.7 623.6L510.6 621.8L511.6 620.1L512.6 618.3L513.5 616.6L514.6 614.8L515.6 613.1L516.7 611.4L517.8 609.8L518.9 608.1L520.1 606.5L521.2 604.8L522.4 603.2L523.6 601.6L524.8 600.0L525.9 598.4L527.1 596.7L528.3 595.1L529.5 593.5L530.7 591.9L531.9 590.3L533.1 588.7L534.3 587.1L535.5 585.5L536.6 583.8L537.8 582.2L539.0 580.6L540.2 579.0L541.3 577.4L542.5 575.7L543.7 574.1L544.9 572.5L546.0 570.9L547.2 569.2L548.3 567.6L549.5 566.0L550.7 564.4L551.9 562.8L553.2 561.2L554.5 559.7L555.8 558.2L557.1 556.6L558.4 555.1L559.6 553.6L560.9 552.0L562.3 550.6L563.7 549.1L565.1 547.7L566.5 546.3L568.0 544.9L569.5 543.7L571.1 542.4L572.7 541.2L574.4 540.1L576.1 539.1L577.8 538.0L579.5 537.0L581.2 536.0L583.0 535.0L584.7 534.1L586.6 533.3L588.4 532.6L590.3 532.0L592.3 531.5L594.2 531.1L596.2 531.0L598.2 531.0L600.2 531.2L602.1 531.6L604.0 532.2L605.8 533.0L607.5 533.9L609.1 535.1L610.7 536.3L612.1 537.7L613.5 539.1L614.9 540.6L616.1 542.2L617.3 543.8L618.5 545.4L619.5 547.1L620.5 548.8L621.5 550.6L622.4 552.4L623.3 554.2L624.1 556.0L624.9 557.8L625.7 559.7L626.5 561.5L627.3 563.4L628.0 565.2L628.8 567.1L629.5 568.9L630.3 570.8L631.0 572.7L631.7 574.5L632.5 576.4L633.2 578.2L634.0 580.1L634.7 582.0L635.5 583.8L636.2 585.7L637.0 587.5L637.7 589.4L638.5 591.2L639.2 593.1L640.0 595.0L640.7 596.8L641.5 598.7L642.2 600.5L642.9 602.4L643.7 604.3L644.4 606.1L645.1 608.0L645.9 609.9L646.6 611.7L647.3 613.6L648.1 615.5L648.8 617.3L649.6 619.2L650.3 621.0L651.1 622.9L651.9 624.7L652.6 626.6L653.4 628.4L654.2 630.3L654.9 632.1L655.7 634.0L656.4 635.8L657.2 637.7L657.9 639.6L658.6 641.4L659.3 643.3L660.1 645.2L660.8 647.0L661.5 648.9L662.2 650.8L662.9 652.7L663.7 654.5L664.4 656.4L665.1 658.3L665.9 660.1L666.6 662.0L667.4 663.8L668.2 665.7L668.9 667.5L669.7 669.4L670.5 671.2L671.3 673.0L672.1 674.9L673.0 676.7L673.8 678.5L674.7 680.3L675.6 682.1L676.6 683.8L677.7 685.5L678.8 687.2L680.0 688.8L681.2 690.4L682.5 691.9L683.9 693.3L685.3 694.8L686.7 696.2L688.1 697.6L689.6 698.9L691.2 700.2L692.8 701.4L694.4 702.6L696.0 703.7L697.7 704.8L699.4 705.9L701.1 706.9L702.9 707.9L704.6 708.8L706.4 709.7L708.2 710.6L710.0 711.4L711.9 712.2L713.7 712.8L715.7 713.4L717.6 713.8L719.6 714.2L721.5 714.6L723.5 715.0L725.5 715.4L727.5 715.7L729.4 716.1L731.4 716.4L733.4 716.8L735.3 717.1L737.3 717.5L739.3 717.8L741.3 718.1L743.2 718.5L745.2 718.8L746.2 719.0" fill="none" stroke="#0000ff" stroke-width="3.5" stroke-linecap="round" stroke-linejoin="round"/>
<path d="M426.6 636.0L428.1 637.3L429.6 638.6L431.1 640.0L432.6 641.3L434.1 642.6L435.6 644.0L437.1 645.3L438.5 646.7L440.0 648.1L441.4 649.5L442.8 650.9L444.2 652.4L445.5 653.8L446.9 655.3L448.3 656.7L449.8 658.0L451.3 659.3L452.9 660.5L454.6 661.6L456.3 662.5L458.1 663.4L460.0 664.2L461.8 664.9L463.7 665.5L465.7 666.0L467.6 666.3L469.6 666.5L471.6 666.5L473.6 666.3L475.5 665.9L477.4 665.3L479.2 664.6L481.0 663.7L482.7 662.6L484.2 661.4L485.7 660.1L487.1 658.6L488.3 657.1L489.5 655.5L490.7 653.9L491.8 652.2L493.0 650.6L494.2 649.0L495.3 647.3L496.5 645.7L497.6 644.1L498.8 642.4L499.9 640.8L501.1 639.1L502.2 637.5L503.3 635.8L504.5 634.2L505.6 632.5L506.7 630.9L507.8 629.2L508.9 627.5L509.9 625.8L511.0 624.1L512.0 622.4L513.0 620.7L514.1 619.0L515.1 617.3L516.2 615.6L517.4 613.9L518.5 612.3L519.7 610.7L520.9 609.1L522.2 607.6L523.4 606.0L524.7 604.4L525.9 602.9L527.2 601.3L528.4 599.8L529.7 598.2L530.9 596.6L532.2 595.0L533.4 593.5L534.6 591.9L535.8 590.3L537.0 588.6L538.1 587.0L539.3 585.4L540.4 583.7L541.5 582.1L542.6 580.4L543.8 578.8L545.0 577.1L546.2 575.5L547.4 574.0L548.6 572.4L549.9 570.8L551.2 569.3L552.5 567.8L553.7 566.2L555.0 564.7L556.3 563.2L557.6 561.6L558.9 560.1L560.2 558.6L561.5 557.1L562.8 555.6L564.2 554.1L565.6 552.7L567.1 551.4L568.6 550.0L570.1 548.8L571.7 547.5L573.3 546.4L575.0 545.3L576.7 544.3L578.5 543.4L580.3 542.5L582.1 541.7L584.0 541.0L585.9 540.4L587.8 539.8L589.8 539.4L591.7 539.1L593.7 538.9L595.7 538.8L597.7 538.9L599.6 539.2L601.5 539.7L603.4 540.4L605.2 541.3L606.9 542.3L608.5 543.5L610.0 544.7L611.5 546.0L612.9 547.5L614.1 549.0L615.3 550.6L616.5 552.2L617.7 553.9L618.8 555.5L619.9 557.2L621.0 558.9L622.0 560.6L622.9 562.4L623.8 564.2L624.6 566.0L625.5 567.8L626.3 569.6L627.2 571.4L628.0 573.2L628.8 575.1L629.6 576.9L630.4 578.7L631.2 580.6L632.0 582.4L632.7 584.3L633.5 586.1L634.2 588.0L635.0 589.8L635.7 591.7L636.4 593.6L637.2 595.4L637.9 597.3L638.6 599.2L639.4 601.0L640.1 602.9L640.9 604.7L641.6 606.6L642.3 608.5L643.1 610.3L643.8 612.2L644.5 614.0L645.3 615.9L646.1 617.7L646.8 619.6L647.6 621.4L648.5 623.2L649.3 625.0L650.2 626.8L651.1 628.6L651.9 630.4L652.8 632.3L653.6 634.1L654.4 635.9L655.2 637.8L656.0 639.6L656.8 641.4L657.5 643.3L658.3 645.1L659.0 647.0L659.7 648.9L660.4 650.7L661.2 652.6L661.9 654.5L662.6 656.4L663.3 658.2L664.0 660.1L664.8 661.9L665.5 663.8L666.3 665.6L667.0 667.5L667.8 669.3L668.6 671.2L669.4 673.0L670.3 674.8L671.1 676.6L671.9 678.5L672.8 680.3L673.8 682.0L674.7 683.8L675.8 685.5L676.9 687.1L678.0 688.8L679.2 690.4L680.5 691.9L681.8 693.5L683.1 695.0L684.5 696.4L685.9 697.8L687.3 699.2L688.9 700.5L690.4 701.8L692.0 703.0L693.6 704.2L695.2 705.3L696.9 706.5L698.6 707.5L700.3 708.6L702.0 709.5L703.8 710.4L705.6 711.2L707.5 711.9L709.4 712.5L711.3 712.9L713.3 713.2L715.3 713.5L717.3 713.7L719.3 713.9L721.3 714.1L723.3 714.3L725.2 714.4L727.2 714.6L729.2 714.8L731.2 714.9L733.2 715.1L735.2 715.2L737.2 715.3L739.2 715.5L741.2 715.6L743.2 715.8L745.2 715.9L746.2 716.0" fill="none" stroke="#008080" stroke-width="3.5" stroke-linecap="round" stroke-linejoin="round"/>
<path d="M426.6 637.0L428.1 638.3L429.6 639.7L431.1 641.0L432.5 642.4L434.0 643.7L435.5 645.0L437.0 646.4L438.5 647.7L440.0 649.0L441.5 650.4L443.0 651.7L444.5 653.0L446.0 654.4L447.5 655.6L449.1 656.9L450.7 658.0L452.4 659.1L454.2 660.1L456.0 660.9L457.8 661.7L459.7 662.4L461.6 663.0L463.5 663.5L465.4 664.0L467.4 664.3L469.4 664.4L471.4 664.4L473.4 664.3L475.3 663.9L477.2 663.4L479.1 662.7L480.8 661.8L482.5 660.7L484.0 659.5L485.3 658.0L486.5 656.4L487.5 654.7L488.5 653.0L489.6 651.4L490.8 649.8L492.0 648.2L493.3 646.6L494.6 645.1L495.8 643.6L497.1 642.0L498.4 640.5L499.7 639.0L501.0 637.5L502.4 636.0L503.7 634.5L505.0 633.0L506.4 631.5L507.7 630.0L509.0 628.5L510.3 626.9L511.5 625.4L512.7 623.8L514.0 622.2L515.2 620.7L516.5 619.1L517.8 617.6L519.2 616.1L520.5 614.6L521.8 613.1L523.2 611.7L524.6 610.2L526.0 608.8L527.3 607.3L528.7 605.8L530.0 604.3L531.3 602.8L532.6 601.3L533.9 599.8L535.1 598.2L536.3 596.6L537.5 595.0L538.6 593.3L539.8 591.7L540.9 590.0L542.0 588.3L543.1 586.7L544.3 585.1L545.5 583.5L546.8 581.9L548.1 580.5L549.5 579.0L550.9 577.6L552.3 576.1L553.7 574.7L555.2 573.3L556.6 571.9L558.0 570.5L559.4 569.1L560.9 567.7L562.3 566.3L563.8 565.0L565.4 563.8L567.0 562.6L568.7 561.5L570.3 560.4L572.1 559.4L573.8 558.4L575.6 557.5L577.4 556.6L579.2 555.8L581.1 555.0L582.9 554.3L584.9 553.8L586.8 553.3L588.8 553.0L590.7 552.8L592.7 552.7L594.7 552.7L596.7 552.8L598.7 553.0L600.6 553.4L602.5 554.0L604.3 554.8L606.0 555.8L607.6 557.0L609.2 558.3L610.6 559.6L612.0 561.1L613.3 562.6L614.4 564.2L615.5 565.9L616.6 567.6L617.5 569.3L618.5 571.1L619.4 572.9L620.3 574.7L621.3 576.4L622.2 578.2L623.1 580.0L624.0 581.8L624.9 583.6L625.8 585.4L626.7 587.2L627.6 588.9L628.5 590.7L629.3 592.5L630.2 594.3L631.1 596.1L632.0 597.9L632.8 599.8L633.6 601.6L634.5 603.4L635.3 605.2L636.1 607.1L636.9 608.9L637.7 610.7L638.5 612.6L639.3 614.4L640.2 616.2L641.0 618.0L641.9 619.8L642.8 621.6L643.7 623.4L644.6 625.2L645.5 626.9L646.4 628.7L647.3 630.6L648.1 632.4L648.9 634.2L649.6 636.1L650.4 637.9L651.1 639.8L651.8 641.7L652.5 643.5L653.2 645.4L654.0 647.3L654.7 649.2L655.4 651.0L656.1 652.9L656.8 654.8L657.5 656.6L658.2 658.5L659.0 660.4L659.7 662.2L660.4 664.1L661.2 666.0L661.9 667.8L662.7 669.7L663.5 671.5L664.3 673.3L665.2 675.1L666.1 676.9L667.1 678.6L668.1 680.4L669.2 682.1L670.2 683.8L671.3 685.4L672.5 687.1L673.6 688.7L674.8 690.3L676.0 691.9L677.3 693.5L678.6 695.0L679.9 696.5L681.3 697.9L682.8 699.2L684.4 700.5L685.9 701.7L687.5 702.9L689.2 704.1L690.9 705.1L692.6 706.1L694.4 707.1L696.1 708.0L698.0 708.8L699.8 709.6L701.7 710.3L703.6 711.0L705.5 711.6L707.4 712.1L709.3 712.5L711.3 712.9L713.3 713.2L715.3 713.5L717.3 713.7L719.2 713.9L721.2 714.1L723.2 714.3L725.2 714.5L727.2 714.6L729.2 714.8L731.2 714.9L733.2 715.1L735.2 715.2L737.2 715.4L739.2 715.5L741.2 715.6L743.2 715.8L745.2 715.9L746.2 716.0" fill="none" stroke="#ff00ff" stroke-width="3.5" stroke-linecap="round" stroke-linejoin="round"/>
<path d="M426.6 638.0L428.1 639.3L429.7 640.6L431.2 641.8L432.8 643.1L434.3 644.4L435.9 645.6L437.4 646.9L439.0 648.2L440.5 649.4L442.1 650.7L443.6 651.9L445.2 653.2L446.8 654.4L448.4 655.6L450.1 656.7L451.8 657.7L453.5 658.7L455.3 659.6L457.1 660.4L459.0 661.1L460.9 661.8L462.8 662.3L464.7 662.8L466.7 663.1L468.6 663.3L470.6 663.4L472.6 663.3L474.6 663.1L476.5 662.7L478.4 662.1L480.3 661.4L482.1 660.6L483.8 659.6L485.4 658.4L486.9 657.2L488.4 655.8L489.8 654.4L491.2 652.9L492.6 651.5L494.0 650.1L495.4 648.7L496.8 647.2L498.2 645.8L499.6 644.4L501.0 643.0L502.4 641.5L503.8 640.1L505.1 638.6L506.4 637.1L507.8 635.6L509.1 634.1L510.5 632.6L511.8 631.2L513.2 629.8L514.7 628.3L516.1 626.9L517.5 625.6L519.0 624.2L520.5 622.9L522.0 621.5L523.5 620.2L525.0 618.9L526.5 617.6L528.1 616.3L529.6 615.1L531.1 613.8L532.7 612.5L534.2 611.3L535.8 610.0L537.4 608.8L538.9 607.5L540.5 606.3L542.1 605.0L543.6 603.8L545.2 602.6L546.8 601.4L548.4 600.2L550.0 599.0L551.7 597.8L553.3 596.6L554.9 595.5L556.6 594.4L558.2 593.2L559.9 592.1L561.5 591.0L563.2 589.9L564.9 588.9L566.6 587.8L568.3 586.8L570.1 585.8L571.8 584.8L573.5 583.8L575.3 582.8L577.1 581.9L578.9 581.0L580.7 580.2L582.5 579.4L584.4 578.7L586.2 578.0L588.2 577.4L590.1 576.9L592.0 576.5L594.0 576.2L596.0 576.1L597.9 576.1L599.9 576.5L601.8 577.0L603.6 577.7L605.4 578.5L607.2 579.5L608.9 580.5L610.4 581.7L611.9 583.1L613.4 584.5L614.7 585.9L616.1 587.4L617.4 588.9L618.7 590.4L620.0 591.9L621.2 593.5L622.4 595.1L623.6 596.7L624.7 598.4L625.8 600.0L626.9 601.7L627.9 603.4L629.0 605.1L630.0 606.9L631.0 608.6L632.0 610.3L632.9 612.1L633.8 613.9L634.7 615.7L635.7 617.4L636.5 619.2L637.4 621.0L638.3 622.8L639.1 624.6L639.9 626.5L640.7 628.3L641.5 630.2L642.2 632.0L643.0 633.9L643.8 635.7L644.6 637.5L645.3 639.4L646.1 641.2L646.9 643.1L647.6 644.9L648.4 646.8L649.2 648.6L649.9 650.5L650.7 652.3L651.5 654.2L652.3 656.0L653.1 657.8L653.8 659.7L654.6 661.5L655.4 663.3L656.2 665.2L657.1 667.0L657.9 668.8L658.8 670.6L659.7 672.4L660.6 674.2L661.5 676.0L662.5 677.7L663.4 679.5L664.4 681.2L665.5 682.9L666.6 684.6L667.7 686.2L668.8 687.9L670.0 689.5L671.3 691.0L672.6 692.6L673.9 694.1L675.3 695.5L676.7 696.9L678.1 698.3L679.6 699.6L681.2 700.9L682.8 702.1L684.4 703.2L686.1 704.3L687.8 705.4L689.5 706.3L691.3 707.3L693.1 708.1L694.9 708.9L696.8 709.7L698.7 710.3L700.6 711.0L702.5 711.5L704.4 712.0L706.4 712.4L708.3 712.7L710.3 713.0L712.3 713.3L714.3 713.5L716.3 713.7L718.3 713.9L720.3 714.0L722.3 714.2L724.3 714.4L726.3 714.5L728.2 714.7L730.2 714.8L732.2 715.0L734.2 715.1L736.2 715.3L738.2 715.4L740.2 715.6L742.2 715.7L744.2 715.9L746.2 716.0" fill="none" stroke="#808000" stroke-width="3.5" stroke-linecap="round" stroke-linejoin="round"/>
<path d="M426.6 639.0L428.1 640.3L429.7 641.6L431.2 642.9L432.7 644.2L434.3 645.4L435.8 646.7L437.4 648.0L439.0 649.2L440.6 650.4L442.2 651.6L443.8 652.8L445.4 654.0L447.1 655.1L448.8 656.1L450.5 657.1L452.3 658.0L454.1 658.8L456.0 659.6L457.9 660.2L459.8 660.8L461.8 661.3L463.7 661.7L465.7 662.0L467.7 662.2L469.7 662.3L471.7 662.3L473.6 662.2L475.6 661.9L477.6 661.5L479.5 660.9L481.4 660.3L483.2 659.4L484.9 658.5L486.6 657.4L488.2 656.2L489.7 654.9L491.1 653.5L492.6 652.1L494.0 650.7L495.5 649.3L496.9 648.0L498.4 646.6L499.9 645.3L501.4 643.9L502.9 642.6L504.4 641.2L505.9 639.9L507.4 638.6L508.9 637.3L510.4 636.0L512.0 634.7L513.5 633.4L515.1 632.2L516.6 630.9L518.2 629.6L519.8 628.4L521.3 627.1L522.9 625.9L524.4 624.6L526.0 623.4L527.6 622.1L529.1 620.8L530.7 619.6L532.2 618.3L533.8 617.0L535.3 615.8L536.9 614.5L538.4 613.2L540.0 612.0L541.6 610.8L543.2 609.6L544.8 608.4L546.5 607.2L548.1 606.1L549.8 605.0L551.5 603.9L553.2 602.9L554.9 601.9L556.6 600.8L558.4 599.9L560.1 598.9L561.9 597.9L563.6 596.9L565.4 596.0L567.2 595.0L568.9 594.1L570.7 593.2L572.5 592.3L574.3 591.4L576.1 590.5L577.9 589.6L579.7 588.8L581.6 588.0L583.4 587.2L585.3 586.5L587.2 585.9L589.1 585.4L591.1 585.0L593.1 584.8L595.1 584.7L597.0 584.9L599.0 585.2L600.9 585.8L602.7 586.5L604.4 587.5L606.0 588.6L607.6 589.9L609.1 591.2L610.6 592.5L612.1 593.9L613.5 595.3L614.8 596.8L616.2 598.3L617.5 599.8L618.8 601.3L620.1 602.8L621.4 604.4L622.6 605.9L623.9 607.5L625.1 609.1L626.3 610.7L627.4 612.4L628.6 614.0L629.7 615.7L630.7 617.4L631.8 619.1L632.7 620.9L633.6 622.6L634.5 624.5L635.2 626.3L636.0 628.2L636.7 630.0L637.5 631.9L638.3 633.7L639.0 635.6L639.8 637.4L640.6 639.3L641.4 641.1L642.1 643.0L642.9 644.8L643.6 646.7L644.4 648.5L645.2 650.4L645.9 652.3L646.7 654.1L647.5 655.9L648.3 657.8L649.2 659.6L650.1 661.4L651.0 663.1L652.0 664.9L653.0 666.6L654.0 668.4L654.9 670.1L655.9 671.9L656.9 673.6L658.0 675.3L659.0 677.1L660.0 678.8L661.1 680.5L662.2 682.1L663.3 683.8L664.5 685.4L665.7 687.1L666.9 688.6L668.1 690.2L669.4 691.7L670.8 693.2L672.1 694.7L673.6 696.1L675.1 697.4L676.6 698.7L678.1 700.0L679.7 701.2L681.4 702.3L683.0 703.4L684.8 704.5L686.5 705.5L688.3 706.4L690.1 707.2L692.0 708.0L693.8 708.7L695.7 709.3L697.6 709.9L699.6 710.4L701.5 710.8L703.5 711.2L705.5 711.5L707.4 711.9L709.4 712.2L711.4 712.5L713.4 712.8L715.4 713.0L717.4 713.3L719.4 713.6L721.3 713.8L723.3 714.1L725.3 714.3L727.3 714.6L729.3 714.9L731.3 715.1L733.3 715.4L735.3 715.6L737.3 715.9L739.2 716.1L741.2 716.4L743.2 716.6L745.2 716.9L746.2 717.0" fill="none" stroke="#000080" stroke-width="3.5" stroke-linecap="round" stroke-linejoin="round"/>
<path d="M426.6 637.0L428.1 638.3L429.7 639.6L431.2 640.9L432.7 642.1L434.3 643.4L435.8 644.7L437.4 645.9L439.0 647.2L440.6 648.4L442.2 649.6L443.8 650.8L445.4 651.9L447.1 653.1L448.8 654.1L450.5 655.1L452.3 656.0L454.1 656.8L456.0 657.6L457.9 658.2L459.8 658.8L461.7 659.3L463.7 659.7L465.7 660.0L467.7 660.2L469.6 660.4L471.6 660.4L473.6 660.3L475.6 660.2L477.6 659.9L479.6 659.6L481.5 659.1L483.4 658.5L485.3 657.9L487.2 657.2L489.0 656.4L490.8 655.5L492.6 654.6L494.4 653.7L496.1 652.7L497.9 651.7L499.6 650.7L501.3 649.6L503.0 648.6L504.8 647.6L506.5 646.6L508.2 645.5L509.9 644.5L511.7 643.5L513.4 642.5L515.1 641.4L516.8 640.4L518.5 639.3L520.2 638.3L522.0 637.3L523.7 636.3L525.4 635.3L527.2 634.3L529.0 633.4L530.7 632.4L532.5 631.5L534.3 630.6L536.1 629.7L537.9 628.9L539.8 628.2L541.6 627.4L543.5 626.7L545.4 626.1L547.3 625.4L549.2 624.8L551.1 624.3L553.1 623.7L555.0 623.2L556.9 622.7L558.9 622.3L560.9 621.9L562.8 621.5L564.8 621.2L566.8 620.9L568.8 620.7L570.8 620.5L572.8 620.3L574.8 620.1L576.8 619.8L578.7 619.6L580.7 619.4L582.7 619.1L584.7 618.8L586.7 618.5L588.7 618.2L590.6 618.0L592.6 618.0L594.6 618.1L596.5 618.6L598.3 619.2L600.2 620.1L601.9 620.9L603.7 621.9L605.5 622.9L607.2 623.9L608.9 625.0L610.5 626.1L612.1 627.3L613.7 628.6L615.2 629.9L616.7 631.2L618.2 632.5L619.6 633.9L621.1 635.3L622.5 636.7L623.9 638.2L625.2 639.6L626.5 641.2L627.7 642.8L628.9 644.4L630.0 646.0L631.2 647.7L632.3 649.4L633.4 651.0L634.5 652.7L635.6 654.3L636.8 656.0L637.9 657.7L639.0 659.4L640.0 661.0L641.1 662.8L642.1 664.5L643.2 666.2L644.2 667.9L645.2 669.6L646.3 671.3L647.4 673.0L648.5 674.7L649.6 676.3L650.7 678.0L651.8 679.7L653.0 681.3L654.2 682.9L655.4 684.5L656.7 686.0L658.0 687.5L659.4 689.0L660.9 690.3L662.4 691.6L663.9 692.9L665.5 694.1L667.2 695.2L668.8 696.4L670.5 697.5L672.2 698.6L673.9 699.6L675.6 700.7L677.3 701.7L679.1 702.7L680.8 703.6L682.6 704.5L684.4 705.3L686.3 706.2L688.1 706.9L690.0 707.7L691.9 708.4L693.7 709.0L695.6 709.7L697.5 710.3L699.5 710.9L701.4 711.4L703.3 711.9L705.3 712.2L707.3 712.6L709.3 712.9L711.3 713.1L713.2 713.3L715.2 713.5L717.2 713.7L719.2 713.9L721.2 714.1L723.2 714.3L725.2 714.4L727.2 714.6L729.2 714.7L731.2 714.9L733.2 715.0L735.2 715.2L737.2 715.3L739.2 715.5L741.2 715.6L743.2 715.8L745.2 715.9L746.2 716.0" fill="none" stroke="#008000" stroke-width="3.5" stroke-linecap="round" stroke-linejoin="round"/>
<path d="M426.6 638.0L428.2 639.2L429.8 640.4L431.4 641.7L433.0 642.9L434.6 644.1L436.2 645.3L437.8 646.4L439.4 647.6L441.1 648.7L442.7 649.8L444.4 650.9L446.1 652.0L447.8 653.0L449.5 654.0L451.3 655.0L453.0 656.0L454.8 656.8L456.7 657.7L458.5 658.5L460.4 659.2L462.3 659.8L464.2 660.5L466.1 661.0L468.0 661.5L470.0 661.9L471.9 662.3L473.9 662.6L475.9 662.9L477.9 663.0L479.9 663.1L481.9 663.1L483.9 663.0L485.8 662.7L487.8 662.3L489.7 661.8L491.6 661.2L493.5 660.6L495.4 660.0L497.3 659.4L499.3 658.9L501.2 658.5L503.2 658.2L505.2 657.9L507.2 657.8L509.2 657.6L511.2 657.6L513.2 657.5L515.2 657.4L517.2 657.3L519.2 657.2L521.2 657.1L523.1 656.9L525.1 656.7L527.1 656.4L529.1 656.1L531.1 655.7L533.0 655.4L535.0 655.0L536.9 654.6L538.9 654.2L540.9 653.8L542.8 653.4L544.8 653.1L546.8 652.7L548.8 652.4L550.7 652.1L552.7 651.7L554.7 651.4L556.7 651.1L558.6 650.8L560.6 650.6L562.6 650.3L564.6 650.1L566.6 649.9L568.6 649.7L570.6 649.6L572.6 649.5L574.6 649.4L576.6 649.4L578.6 649.3L580.6 649.3L582.6 649.2L584.6 649.2L586.6 649.2L588.6 649.3L590.6 649.5L592.5 649.8L594.5 650.3L596.4 650.8L598.3 651.3L600.2 652.0L602.1 652.7L603.9 653.5L605.7 654.3L607.5 655.2L609.3 656.1L611.1 657.1L612.8 658.0L614.5 659.1L616.2 660.1L617.9 661.1L619.6 662.2L621.3 663.3L623.0 664.3L624.7 665.4L626.4 666.5L628.1 667.6L629.8 668.7L631.4 669.8L633.1 670.9L634.8 672.0L636.4 673.2L638.0 674.4L639.5 675.7L641.0 677.0L642.4 678.4L643.7 679.9L645.1 681.4L646.4 682.9L647.8 684.4L649.1 685.8L650.5 687.3L651.9 688.7L653.3 690.1L654.7 691.5L656.2 692.9L657.7 694.2L659.3 695.5L660.8 696.7L662.4 697.9L664.1 699.0L665.8 700.1L667.5 701.2L669.2 702.2L671.0 703.1L672.7 704.0L674.6 704.9L676.4 705.7L678.2 706.4L680.1 707.1L682.0 707.7L683.9 708.3L685.8 708.9L687.8 709.4L689.7 709.9L691.7 710.4L693.6 710.9L695.5 711.4L697.5 711.8L699.4 712.2L701.4 712.6L703.4 713.0L705.3 713.3L707.3 713.6L709.3 713.9L711.3 714.1L713.3 714.3L715.3 714.5L717.3 714.7L719.3 714.9L721.3 715.1L723.3 715.2L725.2 715.4L727.2 715.6L729.2 715.7L731.2 715.9L733.2 716.0L735.2 716.2L737.2 716.3L739.2 716.5L741.2 716.6L743.2 716.8L745.2 716.9L746.2 717.0" fill="none" stroke="#800000" stroke-width="3.5" stroke-linecap="round" stroke-linejoin="round"/>
<path d="M426.6 640.0L428.2 641.2L429.8 642.5L431.3 643.7L432.9 644.9L434.5 646.1L436.2 647.3L437.8 648.5L439.5 649.6L441.1 650.7L442.8 651.7L444.6 652.7L446.3 653.7L448.1 654.7L449.9 655.6L451.7 656.5L453.5 657.3L455.3 658.1L457.2 658.8L459.1 659.4L461.0 660.0L463.0 660.5L464.9 661.0L466.9 661.4L468.8 661.8L470.8 662.0L472.8 662.3L474.8 662.4L476.8 662.5L478.8 662.5L480.8 662.4L482.8 662.2L484.8 661.9L486.7 661.5L488.6 661.0L490.6 660.4L492.4 659.7L494.3 659.0L496.2 658.3L498.1 657.5L499.9 656.8L501.8 656.1L503.7 655.4L505.6 654.7L507.4 654.0L509.3 653.3L511.2 652.6L513.1 651.9L515.0 651.2L516.9 650.6L518.7 649.9L520.6 649.2L522.5 648.5L524.4 647.9L526.3 647.2L528.2 646.5L530.1 645.9L532.0 645.2L533.9 644.6L535.8 643.9L537.7 643.3L539.6 642.7L541.5 642.1L543.4 641.5L545.3 640.9L547.3 640.4L549.2 639.9L551.2 639.4L553.1 638.9L555.1 638.5L557.0 638.1L559.0 637.7L561.0 637.3L562.9 636.9L564.9 636.6L566.9 636.2L568.9 636.0L570.9 635.7L572.9 635.5L574.8 635.3L576.8 635.1L578.8 635.0L580.8 634.9L582.8 634.8L584.8 634.7L586.8 634.7L588.8 634.8L590.8 635.0L592.8 635.3L594.8 635.8L596.7 636.3L598.6 636.9L600.5 637.5L602.3 638.3L604.2 639.2L605.9 640.1L607.7 641.0L609.4 642.0L611.1 643.1L612.8 644.2L614.5 645.3L616.1 646.4L617.7 647.6L619.3 648.9L620.9 650.1L622.4 651.4L623.9 652.8L625.4 654.1L626.9 655.5L628.3 656.8L629.8 658.2L631.3 659.5L632.8 660.9L634.3 662.2L635.7 663.6L637.2 665.0L638.6 666.4L640.0 667.8L641.3 669.4L642.6 670.9L643.8 672.5L645.1 674.0L646.4 675.5L647.7 677.0L649.1 678.5L650.5 679.9L651.9 681.3L653.4 682.7L654.8 684.1L656.3 685.4L657.8 686.8L659.3 688.1L660.8 689.4L662.4 690.7L664.0 691.9L665.6 693.1L667.2 694.3L668.9 695.4L670.5 696.5L672.2 697.5L674.0 698.6L675.7 699.6L677.4 700.6L679.1 701.6L680.9 702.5L682.7 703.4L684.6 704.1L686.5 704.8L688.4 705.5L690.3 706.1L692.2 706.8L694.1 707.4L696.0 708.0L697.9 708.5L699.8 709.1L701.8 709.7L703.7 710.2L705.6 710.7L707.6 711.2L709.5 711.7L711.5 712.2L713.4 712.6L715.4 713.0L717.4 713.4L719.3 713.8L721.3 714.1L723.3 714.4L725.3 714.6L727.3 714.9L729.3 715.1L731.2 715.4L733.2 715.6L735.2 715.8L737.2 716.0L739.2 716.2L741.2 716.5L743.2 716.7L745.2 716.9L746.2 717.0" fill="none" stroke="#000080" stroke-width="2.4" stroke-linecap="round" stroke-linejoin="round"/>
<path d="M426.6 640.0L428.2 641.2L429.8 642.5L431.3 643.7L432.9 644.9L434.5 646.1L436.2 647.3L437.8 648.5L439.5 649.6L441.1 650.7L442.8 651.7L444.6 652.8L446.3 653.8L448.1 654.7L449.8 655.6L451.6 656.5L453.5 657.3L455.4 658.0L457.3 658.6L459.2 659.2L461.1 659.6L463.1 660.0L465.1 660.4L467.1 660.6L469.0 660.9L471.0 661.1L473.0 661.2L475.0 661.3L477.0 661.4L479.0 661.4L481.0 661.3L483.0 661.1L485.0 660.9L487.0 660.6L489.0 660.2L490.9 659.7L492.9 659.2L494.8 658.7L496.7 658.1L498.6 657.5L500.5 656.9L502.5 656.3L504.4 655.7L506.3 655.1L508.2 654.4L510.1 653.8L511.9 653.1L513.8 652.4L515.7 651.8L517.6 651.1L519.5 650.5L521.4 649.8L523.3 649.2L525.3 648.6L527.2 648.1L529.1 647.5L531.0 647.0L533.0 646.5L534.9 646.0L536.9 645.5L538.8 645.0L540.8 644.5L542.7 644.0L544.7 643.6L546.6 643.1L548.6 642.7L550.5 642.3L552.5 641.9L554.5 641.4L556.4 641.1L558.4 640.7L560.4 640.3L562.3 640.0L564.3 639.6L566.3 639.3L568.3 639.1L570.3 638.8L572.3 638.6L574.3 638.5L576.3 638.3L578.3 638.2L580.3 638.0L582.3 637.9L584.3 637.8L586.3 637.8L588.3 637.9L590.3 638.0L592.3 638.3L594.2 638.6L596.2 639.1L598.1 639.6L600.0 640.3L601.9 641.0L603.7 641.8L605.5 642.7L607.3 643.6L609.0 644.6L610.7 645.6L612.4 646.7L614.1 647.8L615.7 648.9L617.4 650.1L619.0 651.3L620.5 652.6L622.1 653.8L623.6 655.2L625.1 656.5L626.6 657.8L628.0 659.2L629.5 660.6L631.0 661.9L632.5 663.3L634.0 664.6L635.4 666.0L636.9 667.3L638.3 668.7L639.7 670.2L641.1 671.6L642.4 673.2L643.6 674.7L644.9 676.3L646.2 677.8L647.5 679.3L648.9 680.8L650.3 682.2L651.7 683.7L653.1 685.1L654.6 686.5L656.0 687.8L657.5 689.2L659.0 690.5L660.5 691.8L662.0 693.1L663.6 694.4L665.2 695.6L666.8 696.8L668.5 697.9L670.1 699.0L671.8 700.1L673.5 701.1L675.3 702.2L677.0 703.2L678.7 704.3L680.4 705.2L682.2 706.1L684.1 706.9L686.0 707.6L687.9 708.2L689.8 708.8L691.7 709.3L693.6 709.9L695.6 710.4L697.5 710.9L699.5 711.4L701.4 711.8L703.4 712.3L705.3 712.7L707.3 713.1L709.3 713.5L711.2 713.9L713.2 714.2L715.2 714.5L717.2 714.7L719.2 715.0L721.2 715.2L723.2 715.3L725.2 715.5L727.2 715.6L729.2 715.7L731.2 715.8L733.2 715.9L735.2 716.0L737.2 716.1L739.2 716.2L741.2 716.3L743.2 716.4L745.2 716.5L746.2 716.5" fill="none" stroke="#ff0000" stroke-width="2.6" stroke-linecap="round" stroke-linejoin="round"/>
<path d="M426.6 636.1L428.3 637.2L430.0 638.3L431.7 639.4L433.4 640.4L435.1 641.4L436.8 642.4L438.6 643.4L440.3 644.3L442.1 645.2L443.9 646.1L445.7 647.0L447.5 647.9L449.4 648.7L451.2 649.6L453.0 650.5L454.8 651.3L456.6 652.2L458.4 653.0L460.3 653.8L462.1 654.6L464.0 655.2L465.9 655.9L467.8 656.4L469.8 656.9L471.7 657.2L473.7 657.5L475.7 657.5L477.7 657.5L479.7 657.3L481.7 657.0L483.6 656.7L485.6 656.3L487.6 655.8L489.5 655.4L491.5 654.9L493.4 654.3L495.3 653.8L497.2 653.2L499.1 652.5L501.0 651.8L502.9 651.1L504.8 650.5L506.7 649.8L508.6 649.2L510.5 648.6L512.4 648.1L514.4 647.6L516.3 647.1L518.2 646.6L520.2 646.1L522.1 645.6L524.1 645.2L526.0 644.7L528.0 644.3L529.9 643.8L531.9 643.3L533.9 642.9L535.8 642.4L537.8 642.0L539.7 641.6L541.7 641.2L543.7 640.8L545.6 640.4L547.6 640.0L549.6 639.7L551.6 639.4L553.5 639.1L555.5 638.8L557.5 638.5L559.5 638.2L561.5 637.9L563.5 637.7L565.5 637.5L567.4 637.3L569.4 637.1L571.4 637.0L573.4 636.8L575.4 636.7L577.4 636.6L579.5 636.5L581.5 636.4L583.5 636.4L585.5 636.3L587.5 636.4L589.5 636.5L591.4 636.7L593.4 637.1L595.4 637.5L597.3 638.0L599.2 638.7L601.1 639.4L602.9 640.2L604.7 641.0L606.5 641.9L608.2 642.9L609.9 643.9L611.6 645.0L613.3 646.1L615.0 647.2L616.6 648.4L618.2 649.6L619.8 650.9L621.3 652.1L622.8 653.4L624.3 654.8L625.8 656.1L627.3 657.5L628.8 658.8L630.3 660.2L631.7 661.5L633.2 662.9L634.7 664.2L636.2 665.6L637.6 667.0L639.0 668.4L640.4 669.9L641.7 671.4L642.9 673.0L644.2 674.5L645.5 676.1L646.8 677.6L648.2 679.1L649.5 680.5L650.9 681.9L652.4 683.3L653.8 684.7L655.3 686.1L656.8 687.5L658.2 688.8L659.8 690.1L661.3 691.4L662.8 692.7L664.4 693.9L666.1 695.1L667.7 696.2L669.4 697.3L671.1 698.4L672.8 699.5L674.5 700.5L676.2 701.5L678.0 702.4L679.7 703.4L681.5 704.3L683.4 705.1L685.2 705.9L687.1 706.6L688.9 707.3L690.8 708.0L692.7 708.6L694.7 709.2L696.6 709.7L698.5 710.3L700.5 710.8L702.4 711.2L704.4 711.7L706.3 712.0L708.3 712.4L710.3 712.7L712.3 713.0L714.3 713.2L716.3 713.4L718.3 713.6L720.2 713.9L722.2 714.1L724.2 714.3L726.2 714.4L728.2 714.6L730.2 714.8L732.2 715.0L734.2 715.2L736.2 715.4L738.2 715.6L740.2 715.7L742.2 715.9L744.2 716.1L746.2 716.3" fill="none" stroke="#e85a3a" stroke-width="4.6" stroke-linecap="round" stroke-linejoin="round"/>
<path d="M426.6 641.3L428.3 642.4L430.0 643.5L431.7 644.5L433.4 645.6L435.1 646.6L436.8 647.7L438.5 648.7L440.2 649.7L442.0 650.7L443.7 651.7L445.5 652.6L447.3 653.6L449.1 654.4L450.9 655.3L452.7 656.0L454.6 656.8L456.5 657.4L458.4 658.1L460.3 658.7L462.2 659.2L464.1 659.7L466.1 660.2L468.0 660.7L470.0 661.1L471.9 661.5L473.9 661.8L475.9 662.1L477.9 662.3L479.9 662.5L481.9 662.6L483.9 662.7L485.9 662.7L487.9 662.8L489.9 662.8L491.9 662.8L493.9 662.8L495.9 662.8L497.9 662.8L499.9 662.8L501.9 662.8L503.9 662.8L505.9 662.8L507.9 662.8L509.9 662.8L511.9 662.8L513.9 662.8L515.9 662.8L517.9 662.8L519.9 662.8L521.9 662.8L523.9 662.8L525.9 662.8L527.9 662.8L529.9 662.8L531.9 662.8L533.9 662.8L536.0 662.8L538.0 662.8L540.0 662.8L542.0 662.8L544.0 662.8L546.0 662.8L548.0 662.8L550.0 662.8L552.0 662.8L554.0 662.8L556.0 662.9L558.0 662.9L560.0 663.0L562.0 663.1L564.0 663.2L566.0 663.4L568.0 663.6L570.0 663.8L571.9 664.1L573.9 664.4L575.9 664.7L577.9 665.0L579.9 665.3L581.8 665.5L583.8 665.8L585.8 666.1L587.8 666.4L589.8 666.6L591.8 666.9L593.7 667.2L595.7 667.5L597.7 667.9L599.7 668.2L601.6 668.6L603.6 669.1L605.5 669.6L607.4 670.1L609.3 670.8L611.2 671.4L613.1 672.2L614.9 673.1L616.6 674.0L618.4 675.0L620.0 676.1L621.7 677.2L623.4 678.2L625.1 679.3L626.9 680.2L628.6 681.2L630.4 682.1L632.2 682.9L634.0 683.8L635.8 684.8L637.6 685.7L639.3 686.7L641.0 687.7L642.7 688.7L644.5 689.8L646.2 690.8L647.9 691.8L649.6 692.9L651.3 693.9L653.0 695.0L654.7 696.0L656.5 697.0L658.2 698.0L659.9 699.0L661.7 700.0L663.4 700.9L665.2 701.9L667.0 702.8L668.8 703.6L670.6 704.4L672.5 705.2L674.4 705.9L676.3 706.5L678.2 707.1L680.1 707.7L682.0 708.2L684.0 708.7L685.9 709.1L687.9 709.6L689.8 710.0L691.8 710.4L693.8 710.7L695.8 711.0L697.7 711.2L699.7 711.4L701.7 711.5L703.7 711.6L705.7 711.8L707.7 711.9L709.7 712.1L711.7 712.3L713.7 712.6L715.7 712.8L717.7 713.1L719.6 713.5L721.6 713.8L723.6 714.2L725.6 714.5L727.5 714.9L729.5 715.3L731.5 715.6L733.4 716.0L735.4 716.4L737.4 716.8L739.3 717.2L741.3 717.5L743.3 717.9L745.2 718.3L746.2 718.5" fill="none" stroke="#800080" stroke-width="3.8" stroke-linecap="round" stroke-linejoin="round"/>
<path d="M426.6 629.6L428.5 630.2L430.3 631.0L432.0 631.9L433.6 633.1L435.1 634.4L436.4 635.9L437.7 637.4L438.9 639.0L440.0 640.7L441.1 642.3L442.2 644.0L443.3 645.7L444.4 647.4L445.4 649.1L446.5 650.8L447.5 652.5L448.6 654.2L449.6 655.9L450.7 657.6L451.8 659.3L452.8 661.0L453.9 662.7L455.1 664.3L456.2 666.0L457.4 667.6L458.6 669.2L460.0 670.6L461.4 672.0L462.9 673.2L464.6 674.2L466.4 674.8L468.3 675.0L470.2 674.8L472.1 674.3L474.0 673.6L475.8 673.0L477.7 672.5L479.6 672.3L481.6 672.4L483.6 672.6L485.5 673.0L487.5 673.5L489.4 673.9L491.4 674.4L493.3 674.8L495.3 675.3L497.2 675.8L499.1 676.3L501.1 676.8L503.0 677.4L504.9 678.0L506.8 678.6L508.7 679.3L510.6 679.9L512.5 680.6L514.4 681.2L516.3 681.9L518.2 682.5L520.1 683.1L522.0 683.7L523.9 684.3L525.9 684.8L527.8 685.3L529.7 685.8L531.7 686.3L533.6 686.8L535.5 687.3L537.5 687.8L539.4 688.2L541.4 688.7L543.4 689.1L545.3 689.5L547.3 689.9L549.2 690.3L551.2 690.7L553.2 691.0L555.2 691.4L557.1 691.7L559.1 692.0L561.1 692.3L563.1 692.5L565.1 692.8L567.1 693.1L569.0 693.3L571.0 693.6L573.0 693.8L575.0 693.9L577.0 694.1L579.0 694.3L581.0 694.5L583.0 694.8L584.9 695.2L586.9 695.5L588.9 695.9L590.8 696.3L592.8 696.6L594.8 697.0L596.7 697.3L598.7 697.7L600.7 698.0L602.7 698.4L604.6 698.7L606.6 699.0L608.6 699.3L610.6 699.5L612.6 699.8L614.6 700.1L616.5 700.4L618.5 700.7L620.5 700.9L622.5 701.2L624.5 701.5L626.4 701.9L628.4 702.2L630.4 702.6L632.3 703.0L634.3 703.4L636.3 703.8L638.2 704.2L640.2 704.6L642.2 705.0L644.1 705.4L646.1 705.8L648.0 706.2L650.0 706.6L652.0 707.0L653.9 707.4L655.9 707.8L657.9 708.1L659.8 708.5L661.8 708.9L663.8 709.3L665.7 709.8L667.7 710.2L669.7 710.5L671.6 710.9L673.6 711.2L675.6 711.5L677.6 711.8L679.5 712.1L681.5 712.4L683.5 712.7L685.5 713.0L687.5 713.3L689.4 713.6L691.4 713.9L693.4 714.2L695.4 714.5L697.4 714.8L699.4 715.0L701.3 715.3L703.3 715.6L705.3 715.8L707.3 716.0L709.3 716.3L711.3 716.5L713.3 716.7L715.3 716.9L717.3 717.1L719.3 717.3L721.3 717.5L723.2 717.7L725.2 717.8L727.2 718.0L729.2 718.2L731.2 718.3L733.2 718.5L735.2 718.7L737.2 718.8L739.2 719.0L741.2 719.2L743.2 719.3L745.2 719.5L746.2 719.6" fill="none" stroke="#000000" stroke-width="3.8" stroke-linecap="round" stroke-linejoin="round"/>
<path d="M426.6 624.3L428.4 625.2L430.2 626.1L432.0 627.0L433.7 627.9L435.5 628.9L437.3 629.8L439.1 630.7L440.9 631.6L442.7 632.4L444.5 633.3L446.4 634.1L448.2 634.9L450.1 635.6L451.9 636.3L453.8 637.0L455.7 637.7L457.6 638.4L459.5 639.1L461.4 639.8L463.3 640.4L465.1 641.1L467.0 641.7L469.0 642.4L470.9 642.9L472.8 643.5L474.7 644.0L476.7 644.5L478.6 645.0L480.6 645.4L482.5 645.8L484.5 646.3L486.5 646.7L488.4 647.1L490.4 647.4L492.4 647.8L494.3 648.2L496.3 648.7L498.2 649.1L500.2 649.6L502.1 650.1L504.1 650.6L506.0 651.0L508.0 651.5L509.9 652.0L511.9 652.4L513.8 652.9L515.8 653.3L517.8 653.8L519.7 654.2L521.7 654.5L523.7 654.9L525.6 655.1L527.6 655.4L529.6 655.5L531.6 655.7L533.6 655.9L535.6 656.1L537.6 656.4L539.6 656.7L541.6 657.1L543.5 657.5L545.5 657.9L547.4 658.3L549.4 658.7L551.4 659.1L553.3 659.5L555.3 659.9L557.3 660.3L559.2 660.7L561.2 661.0L563.2 661.3L565.2 661.6L567.2 661.9L569.2 662.1L571.1 662.4L573.1 662.6L575.1 662.9L577.1 663.1L579.1 663.4L581.1 663.7L583.1 664.0L585.1 664.3L587.0 664.6L589.0 664.9L591.0 665.2L593.0 665.5L595.0 665.9L596.9 666.3L598.9 666.6L600.9 667.0L602.8 667.5L604.8 667.9L606.7 668.4L608.7 668.9L610.6 669.3L612.6 669.9L614.5 670.4L616.4 670.9L618.4 671.4L620.3 672.0L622.2 672.6L624.1 673.2L626.0 673.8L627.9 674.5L629.8 675.2L631.6 675.9L633.5 676.7L635.3 677.5L637.2 678.3L639.0 679.0L640.9 679.8L642.7 680.6L644.6 681.3L646.5 682.0L648.4 682.7L650.3 683.3L652.2 683.9L654.1 684.5L656.0 685.1L657.9 685.7L659.9 686.2L661.8 686.8L663.7 687.4L665.6 688.0L667.5 688.6L669.4 689.2L671.4 689.7L673.3 690.1L675.3 690.4L677.3 690.8L679.3 691.0L681.3 691.3L683.3 691.6L685.2 691.9L687.2 692.2L689.2 692.5L691.2 692.8L693.2 693.1L695.2 693.3L697.2 693.5L699.1 693.7L701.2 693.8L703.2 693.9L705.2 694.1L707.2 694.2L709.2 694.3L711.2 694.4L713.2 694.5L715.2 694.6L717.2 694.7L719.2 694.8L721.2 695.0L723.2 695.1L725.2 695.2L727.2 695.3L729.2 695.4L731.2 695.5L733.2 695.7L735.2 695.8L737.2 695.9L739.2 696.0L741.2 696.1L743.2 696.2L745.2 696.3L746.2 696.4" fill="none" stroke="#800080" stroke-width="4.0" stroke-linecap="round" stroke-linejoin="round"/>
<line x1="426.2" y1="417.7" x2="746.3" y2="417.7" stroke="#222" stroke-width="1.3"/>
<line x1="746.3" y1="417.7" x2="746.3" y2="745.9" stroke="#222" stroke-width="1.2"/>
<line x1="426.2" y1="417.2" x2="426.2" y2="745.9" stroke="#555" stroke-width="1.4"/>
<line x1="425.59999999999997" y1="745.3" x2="746.8" y2="745.3" stroke="#111" stroke-width="1.4"/>
<text font-family="'Liberation Sans', sans-serif" font-weight="bold" font-size="100" fill="#000" transform="matrix(0.13597 0 0 0.17465 407.000 750.335)">0.0</text>
<text font-family="'Liberation Sans', sans-serif" font-weight="bold" font-size="100" fill="#000" transform="matrix(0.13597 0 0 0.17465 407.000 706.505)">0.2</text>
<text font-family="'Liberation Sans', sans-serif" font-weight="bold" font-size="100" fill="#000" transform="matrix(0.13597 0 0 0.17465 407.000 662.675)">0.4</text>
<text font-family="'Liberation Sans', sans-serif" font-weight="bold" font-size="100" fill="#000" transform="matrix(0.13597 0 0 0.17465 407.000 618.845)">0.6</text>
<text font-family="'Liberation Sans', sans-serif" font-weight="bold" font-size="100" fill="#000" transform="matrix(0.13597 0 0 0.17465 407.000 575.015)">0.8</text>
<g transform="matrix(0.12806 0 0 0.17465 408.100 531.185)"><path d="M23.34 0.00 L23.34 -57.13 L6.84 -46.83 L6.84 -57.62 L24.07 -68.80 L37.06 -68.80 L37.06 0.00Z" fill="#000"/><text x="55.62" y="0" font-family="'Liberation Sans', sans-serif" font-weight="bold" font-size="100" fill="#000">.0</text></g>
<g transform="matrix(0.12806 0 0 0.17714 408.100 487.530)"><path d="M23.34 0.00 L23.34 -57.13 L6.84 -46.83 L6.84 -57.62 L24.07 -68.80 L37.06 -68.80 L37.06 0.00Z" fill="#000"/><text x="55.62" y="0" font-family="'Liberation Sans', sans-serif" font-weight="bold" font-size="100" fill="#000">.2</text></g>
<g transform="matrix(0.12806 0 0 0.17971 408.100 443.700)"><path d="M23.34 0.00 L23.34 -57.13 L6.84 -46.83 L6.84 -57.62 L24.07 -68.80 L37.06 -68.80 L37.06 0.00Z" fill="#000"/><text x="55.62" y="0" font-family="'Liberation Sans', sans-serif" font-weight="bold" font-size="100" fill="#000">.4</text></g>
<text font-family="'Liberation Sans', sans-serif" font-weight="bold" font-size="100" fill="#000" transform="matrix(0.13114 0 0 0.18028 415.250 759.420)">300</text>
<text font-family="'Liberation Sans', sans-serif" font-weight="bold" font-size="100" fill="#000" transform="matrix(0.13114 0 0 0.18028 468.600 759.420)">350</text>
<text font-family="'Liberation Sans', sans-serif" font-weight="bold" font-size="100" fill="#000" transform="matrix(0.13114 0 0 0.18028 521.950 759.420)">400</text>
<text font-family="'Liberation Sans', sans-serif" font-weight="bold" font-size="100" fill="#000" transform="matrix(0.13114 0 0 0.18028 575.300 759.420)">450</text>
<text font-family="'Liberation Sans', sans-serif" font-weight="bold" font-size="100" fill="#000" transform="matrix(0.13114 0 0 0.18028 628.650 759.420)">500</text>
<text font-family="'Liberation Sans', sans-serif" font-weight="bold" font-size="100" fill="#000" transform="matrix(0.13114 0 0 0.18028 682.000 759.420)">550</text>
<text font-family="'Liberation Sans', sans-serif" font-weight="bold" font-size="100" fill="#000" transform="matrix(0.13114 0 0 0.18028 735.350 759.420)">600</text>
<text font-family="'Liberation Serif', serif" font-weight="bold" font-size="100" fill="#000" transform="matrix(0.14888 0 0 0.18014 455.200 467.520)">ZnO Seder</text>
<text font-family="'Liberation Sans', sans-serif" font-weight="bold" font-size="100" fill="#000" transform="matrix(0.10811 0 0 0.15775 699.600 460.342)">0</text>
<text font-family="'Liberation Sans', sans-serif" font-weight="bold" font-size="100" fill="#000" transform="matrix(0.13234 0 0 0.16901 679.600 642.631)">420</text>
<line x1="707.8" y1="464.6" x2="707.8" y2="625.8" stroke="#000" stroke-width="2.3"/><polygon points="703.7,624.8 711.9,624.8 707.8,642.8" fill="#000"/>
<text font-family="'Liberation Serif', serif" font-weight="bold" font-size="100" fill="#000" transform="matrix(0.19579 0 0 0.22186 519.200 793.119)">wavelength(nm)</text>
<text font-family="'Liberation Serif', serif" font-weight="bold" font-size="100" fill="#000" transform="matrix(0 -0.24599 0.19560 0 398.795 686.700)">absorbance (arb.u)</text>
</svg>
</body></html>
